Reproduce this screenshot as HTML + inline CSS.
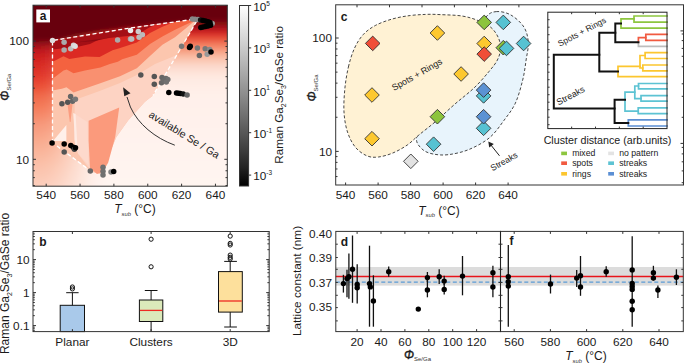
<!DOCTYPE html>
<html><head><meta charset="utf-8"><style>
html,body{margin:0;padding:0;background:#fff;}
svg{display:block;font-family:"Liberation Sans", sans-serif;}
</style></head><body>
<svg width="685" height="363" viewBox="0 0 685 363">
<defs><clipPath id="ca"><rect x="33" y="5.2" width="194.3" height="181.0"/></clipPath><filter id="bl" x="-10%" y="-10%" width="120%" height="120%"><feGaussianBlur stdDeviation="2.5"/></filter></defs>
<g clip-path="url(#ca)"><g filter="url(#bl)">
<rect x="25" y="-2.8" width="4.5" height="4.5" fill="#67000d"/>
<rect x="29" y="-2.8" width="4.5" height="4.5" fill="#67000d"/>
<rect x="33" y="-2.8" width="4.5" height="4.5" fill="#67000d"/>
<rect x="37" y="-2.8" width="4.5" height="4.5" fill="#67000d"/>
<rect x="41" y="-2.8" width="4.5" height="4.5" fill="#67000d"/>
<rect x="45" y="-2.8" width="4.5" height="4.5" fill="#67000d"/>
<rect x="49" y="-2.8" width="4.5" height="4.5" fill="#67000d"/>
<rect x="53" y="-2.8" width="4.5" height="4.5" fill="#67000d"/>
<rect x="57" y="-2.8" width="4.5" height="4.5" fill="#67000d"/>
<rect x="61" y="-2.8" width="4.5" height="4.5" fill="#67000d"/>
<rect x="65" y="-2.8" width="4.5" height="4.5" fill="#67000d"/>
<rect x="69" y="-2.8" width="4.5" height="4.5" fill="#67000d"/>
<rect x="73" y="-2.8" width="4.5" height="4.5" fill="#67000d"/>
<rect x="77" y="-2.8" width="4.5" height="4.5" fill="#67000d"/>
<rect x="81" y="-2.8" width="4.5" height="4.5" fill="#67000d"/>
<rect x="85" y="-2.8" width="4.5" height="4.5" fill="#67000d"/>
<rect x="89" y="-2.8" width="4.5" height="4.5" fill="#67000d"/>
<rect x="93" y="-2.8" width="4.5" height="4.5" fill="#67000d"/>
<rect x="97" y="-2.8" width="4.5" height="4.5" fill="#67000d"/>
<rect x="101" y="-2.8" width="4.5" height="4.5" fill="#67000d"/>
<rect x="105" y="-2.8" width="4.5" height="4.5" fill="#67000d"/>
<rect x="109" y="-2.8" width="4.5" height="4.5" fill="#67000d"/>
<rect x="113" y="-2.8" width="4.5" height="4.5" fill="#67000d"/>
<rect x="117" y="-2.8" width="4.5" height="4.5" fill="#67000d"/>
<rect x="121" y="-2.8" width="4.5" height="4.5" fill="#67000d"/>
<rect x="125" y="-2.8" width="4.5" height="4.5" fill="#67000d"/>
<rect x="129" y="-2.8" width="4.5" height="4.5" fill="#67000d"/>
<rect x="133" y="-2.8" width="4.5" height="4.5" fill="#67000d"/>
<rect x="137" y="-2.8" width="4.5" height="4.5" fill="#67000d"/>
<rect x="141" y="-2.8" width="4.5" height="4.5" fill="#67000d"/>
<rect x="145" y="-2.8" width="4.5" height="4.5" fill="#67000d"/>
<rect x="149" y="-2.8" width="4.5" height="4.5" fill="#67000d"/>
<rect x="153" y="-2.8" width="4.5" height="4.5" fill="#67000d"/>
<rect x="157" y="-2.8" width="4.5" height="4.5" fill="#67000d"/>
<rect x="161" y="-2.8" width="4.5" height="4.5" fill="#67000d"/>
<rect x="165" y="-2.8" width="4.5" height="4.5" fill="#67000d"/>
<rect x="169" y="-2.8" width="4.5" height="4.5" fill="#67000d"/>
<rect x="173" y="-2.8" width="4.5" height="4.5" fill="#67000d"/>
<rect x="177" y="-2.8" width="4.5" height="4.5" fill="#67000d"/>
<rect x="181" y="-2.8" width="4.5" height="4.5" fill="#67000d"/>
<rect x="185" y="-2.8" width="4.5" height="4.5" fill="#67000d"/>
<rect x="189" y="-2.8" width="4.5" height="4.5" fill="#67000d"/>
<rect x="193" y="-2.8" width="4.5" height="4.5" fill="#67000d"/>
<rect x="197" y="-2.8" width="4.5" height="4.5" fill="#67000d"/>
<rect x="201" y="-2.8" width="4.5" height="4.5" fill="#67000d"/>
<rect x="205" y="-2.8" width="4.5" height="4.5" fill="#67000d"/>
<rect x="209" y="-2.8" width="4.5" height="4.5" fill="#67000d"/>
<rect x="213" y="-2.8" width="4.5" height="4.5" fill="#67000d"/>
<rect x="217" y="-2.8" width="4.5" height="4.5" fill="#67000d"/>
<rect x="221" y="-2.8" width="4.5" height="4.5" fill="#67000d"/>
<rect x="225" y="-2.8" width="4.5" height="4.5" fill="#67000d"/>
<rect x="229" y="-2.8" width="4.5" height="4.5" fill="#67000d"/>
<rect x="233" y="-2.8" width="4.5" height="4.5" fill="#67000d"/>
<rect x="25" y="1.2000000000000002" width="4.5" height="4.5" fill="#67000d"/>
<rect x="29" y="1.2000000000000002" width="4.5" height="4.5" fill="#67000d"/>
<rect x="33" y="1.2000000000000002" width="4.5" height="4.5" fill="#67000d"/>
<rect x="37" y="1.2000000000000002" width="4.5" height="4.5" fill="#67000d"/>
<rect x="41" y="1.2000000000000002" width="4.5" height="4.5" fill="#67000d"/>
<rect x="45" y="1.2000000000000002" width="4.5" height="4.5" fill="#67000d"/>
<rect x="49" y="1.2000000000000002" width="4.5" height="4.5" fill="#67000d"/>
<rect x="53" y="1.2000000000000002" width="4.5" height="4.5" fill="#67000d"/>
<rect x="57" y="1.2000000000000002" width="4.5" height="4.5" fill="#67000d"/>
<rect x="61" y="1.2000000000000002" width="4.5" height="4.5" fill="#67000d"/>
<rect x="65" y="1.2000000000000002" width="4.5" height="4.5" fill="#68000d"/>
<rect x="69" y="1.2000000000000002" width="4.5" height="4.5" fill="#68000d"/>
<rect x="73" y="1.2000000000000002" width="4.5" height="4.5" fill="#68000d"/>
<rect x="77" y="1.2000000000000002" width="4.5" height="4.5" fill="#68000d"/>
<rect x="81" y="1.2000000000000002" width="4.5" height="4.5" fill="#68000d"/>
<rect x="85" y="1.2000000000000002" width="4.5" height="4.5" fill="#68000d"/>
<rect x="89" y="1.2000000000000002" width="4.5" height="4.5" fill="#68000d"/>
<rect x="93" y="1.2000000000000002" width="4.5" height="4.5" fill="#68000d"/>
<rect x="97" y="1.2000000000000002" width="4.5" height="4.5" fill="#68000d"/>
<rect x="101" y="1.2000000000000002" width="4.5" height="4.5" fill="#68000d"/>
<rect x="105" y="1.2000000000000002" width="4.5" height="4.5" fill="#68000d"/>
<rect x="109" y="1.2000000000000002" width="4.5" height="4.5" fill="#68000d"/>
<rect x="113" y="1.2000000000000002" width="4.5" height="4.5" fill="#68000d"/>
<rect x="117" y="1.2000000000000002" width="4.5" height="4.5" fill="#68000d"/>
<rect x="121" y="1.2000000000000002" width="4.5" height="4.5" fill="#68000d"/>
<rect x="125" y="1.2000000000000002" width="4.5" height="4.5" fill="#68000d"/>
<rect x="129" y="1.2000000000000002" width="4.5" height="4.5" fill="#68000d"/>
<rect x="133" y="1.2000000000000002" width="4.5" height="4.5" fill="#68000d"/>
<rect x="137" y="1.2000000000000002" width="4.5" height="4.5" fill="#68000d"/>
<rect x="141" y="1.2000000000000002" width="4.5" height="4.5" fill="#68000d"/>
<rect x="145" y="1.2000000000000002" width="4.5" height="4.5" fill="#68000d"/>
<rect x="149" y="1.2000000000000002" width="4.5" height="4.5" fill="#68000d"/>
<rect x="153" y="1.2000000000000002" width="4.5" height="4.5" fill="#68000d"/>
<rect x="157" y="1.2000000000000002" width="4.5" height="4.5" fill="#68000d"/>
<rect x="161" y="1.2000000000000002" width="4.5" height="4.5" fill="#68000d"/>
<rect x="165" y="1.2000000000000002" width="4.5" height="4.5" fill="#68000d"/>
<rect x="169" y="1.2000000000000002" width="4.5" height="4.5" fill="#68000d"/>
<rect x="173" y="1.2000000000000002" width="4.5" height="4.5" fill="#68000d"/>
<rect x="177" y="1.2000000000000002" width="4.5" height="4.5" fill="#68000d"/>
<rect x="181" y="1.2000000000000002" width="4.5" height="4.5" fill="#68000d"/>
<rect x="185" y="1.2000000000000002" width="4.5" height="4.5" fill="#68000d"/>
<rect x="189" y="1.2000000000000002" width="4.5" height="4.5" fill="#68000d"/>
<rect x="193" y="1.2000000000000002" width="4.5" height="4.5" fill="#68000d"/>
<rect x="197" y="1.2000000000000002" width="4.5" height="4.5" fill="#68000d"/>
<rect x="201" y="1.2000000000000002" width="4.5" height="4.5" fill="#68000d"/>
<rect x="205" y="1.2000000000000002" width="4.5" height="4.5" fill="#68000d"/>
<rect x="209" y="1.2000000000000002" width="4.5" height="4.5" fill="#68000d"/>
<rect x="213" y="1.2000000000000002" width="4.5" height="4.5" fill="#68000d"/>
<rect x="217" y="1.2000000000000002" width="4.5" height="4.5" fill="#68000d"/>
<rect x="221" y="1.2000000000000002" width="4.5" height="4.5" fill="#68000d"/>
<rect x="225" y="1.2000000000000002" width="4.5" height="4.5" fill="#68000d"/>
<rect x="229" y="1.2000000000000002" width="4.5" height="4.5" fill="#68000d"/>
<rect x="233" y="1.2000000000000002" width="4.5" height="4.5" fill="#68000d"/>
<rect x="25" y="5.2" width="4.5" height="4.5" fill="#68000d"/>
<rect x="29" y="5.2" width="4.5" height="4.5" fill="#68000d"/>
<rect x="33" y="5.2" width="4.5" height="4.5" fill="#68000d"/>
<rect x="37" y="5.2" width="4.5" height="4.5" fill="#68000d"/>
<rect x="41" y="5.2" width="4.5" height="4.5" fill="#68000d"/>
<rect x="45" y="5.2" width="4.5" height="4.5" fill="#68000d"/>
<rect x="49" y="5.2" width="4.5" height="4.5" fill="#68000d"/>
<rect x="53" y="5.2" width="4.5" height="4.5" fill="#68000d"/>
<rect x="57" y="5.2" width="4.5" height="4.5" fill="#68000d"/>
<rect x="61" y="5.2" width="4.5" height="4.5" fill="#68000d"/>
<rect x="65" y="5.2" width="4.5" height="4.5" fill="#68000d"/>
<rect x="69" y="5.2" width="4.5" height="4.5" fill="#68000d"/>
<rect x="73" y="5.2" width="4.5" height="4.5" fill="#69000d"/>
<rect x="77" y="5.2" width="4.5" height="4.5" fill="#69000e"/>
<rect x="81" y="5.2" width="4.5" height="4.5" fill="#69000e"/>
<rect x="85" y="5.2" width="4.5" height="4.5" fill="#69010e"/>
<rect x="89" y="5.2" width="4.5" height="4.5" fill="#69010e"/>
<rect x="93" y="5.2" width="4.5" height="4.5" fill="#69010e"/>
<rect x="97" y="5.2" width="4.5" height="4.5" fill="#69010e"/>
<rect x="101" y="5.2" width="4.5" height="4.5" fill="#69010e"/>
<rect x="105" y="5.2" width="4.5" height="4.5" fill="#6a010e"/>
<rect x="109" y="5.2" width="4.5" height="4.5" fill="#6a010e"/>
<rect x="113" y="5.2" width="4.5" height="4.5" fill="#6a010e"/>
<rect x="117" y="5.2" width="4.5" height="4.5" fill="#6a010e"/>
<rect x="121" y="5.2" width="4.5" height="4.5" fill="#6a010e"/>
<rect x="125" y="5.2" width="4.5" height="4.5" fill="#6a010e"/>
<rect x="129" y="5.2" width="4.5" height="4.5" fill="#6a010e"/>
<rect x="133" y="5.2" width="4.5" height="4.5" fill="#6a010e"/>
<rect x="137" y="5.2" width="4.5" height="4.5" fill="#6a010e"/>
<rect x="141" y="5.2" width="4.5" height="4.5" fill="#6a010e"/>
<rect x="145" y="5.2" width="4.5" height="4.5" fill="#6a010e"/>
<rect x="149" y="5.2" width="4.5" height="4.5" fill="#6a010e"/>
<rect x="153" y="5.2" width="4.5" height="4.5" fill="#6a010e"/>
<rect x="157" y="5.2" width="4.5" height="4.5" fill="#6a010e"/>
<rect x="161" y="5.2" width="4.5" height="4.5" fill="#6a010e"/>
<rect x="165" y="5.2" width="4.5" height="4.5" fill="#6a010e"/>
<rect x="169" y="5.2" width="4.5" height="4.5" fill="#6a010e"/>
<rect x="173" y="5.2" width="4.5" height="4.5" fill="#6a010e"/>
<rect x="177" y="5.2" width="4.5" height="4.5" fill="#6a010e"/>
<rect x="181" y="5.2" width="4.5" height="4.5" fill="#6a010e"/>
<rect x="185" y="5.2" width="4.5" height="4.5" fill="#6a010e"/>
<rect x="189" y="5.2" width="4.5" height="4.5" fill="#6a010e"/>
<rect x="193" y="5.2" width="4.5" height="4.5" fill="#6a010e"/>
<rect x="197" y="5.2" width="4.5" height="4.5" fill="#6a010e"/>
<rect x="201" y="5.2" width="4.5" height="4.5" fill="#6a010e"/>
<rect x="205" y="5.2" width="4.5" height="4.5" fill="#6a010e"/>
<rect x="209" y="5.2" width="4.5" height="4.5" fill="#6a010e"/>
<rect x="213" y="5.2" width="4.5" height="4.5" fill="#6a010e"/>
<rect x="217" y="5.2" width="4.5" height="4.5" fill="#6a010e"/>
<rect x="221" y="5.2" width="4.5" height="4.5" fill="#6a010e"/>
<rect x="225" y="5.2" width="4.5" height="4.5" fill="#6a010e"/>
<rect x="229" y="5.2" width="4.5" height="4.5" fill="#6a010e"/>
<rect x="233" y="5.2" width="4.5" height="4.5" fill="#6a010e"/>
<rect x="25" y="9.2" width="4.5" height="4.5" fill="#68000d"/>
<rect x="29" y="9.2" width="4.5" height="4.5" fill="#68000d"/>
<rect x="33" y="9.2" width="4.5" height="4.5" fill="#68000d"/>
<rect x="37" y="9.2" width="4.5" height="4.5" fill="#68000d"/>
<rect x="41" y="9.2" width="4.5" height="4.5" fill="#68000d"/>
<rect x="45" y="9.2" width="4.5" height="4.5" fill="#68000d"/>
<rect x="49" y="9.2" width="4.5" height="4.5" fill="#68000d"/>
<rect x="53" y="9.2" width="4.5" height="4.5" fill="#68000d"/>
<rect x="57" y="9.2" width="4.5" height="4.5" fill="#68000d"/>
<rect x="61" y="9.2" width="4.5" height="4.5" fill="#69000e"/>
<rect x="65" y="9.2" width="4.5" height="4.5" fill="#69000e"/>
<rect x="69" y="9.2" width="4.5" height="4.5" fill="#69000e"/>
<rect x="73" y="9.2" width="4.5" height="4.5" fill="#69010e"/>
<rect x="77" y="9.2" width="4.5" height="4.5" fill="#6a010e"/>
<rect x="81" y="9.2" width="4.5" height="4.5" fill="#6a010e"/>
<rect x="85" y="9.2" width="4.5" height="4.5" fill="#6a010e"/>
<rect x="89" y="9.2" width="4.5" height="4.5" fill="#6a010e"/>
<rect x="93" y="9.2" width="4.5" height="4.5" fill="#6b010e"/>
<rect x="97" y="9.2" width="4.5" height="4.5" fill="#6b010e"/>
<rect x="101" y="9.2" width="4.5" height="4.5" fill="#6b010e"/>
<rect x="105" y="9.2" width="4.5" height="4.5" fill="#6b010e"/>
<rect x="109" y="9.2" width="4.5" height="4.5" fill="#6b010e"/>
<rect x="113" y="9.2" width="4.5" height="4.5" fill="#6b010e"/>
<rect x="117" y="9.2" width="4.5" height="4.5" fill="#6b010e"/>
<rect x="121" y="9.2" width="4.5" height="4.5" fill="#6b010e"/>
<rect x="125" y="9.2" width="4.5" height="4.5" fill="#6b010e"/>
<rect x="129" y="9.2" width="4.5" height="4.5" fill="#6b010e"/>
<rect x="133" y="9.2" width="4.5" height="4.5" fill="#6b010e"/>
<rect x="137" y="9.2" width="4.5" height="4.5" fill="#6b010e"/>
<rect x="141" y="9.2" width="4.5" height="4.5" fill="#6b010e"/>
<rect x="145" y="9.2" width="4.5" height="4.5" fill="#6b010e"/>
<rect x="149" y="9.2" width="4.5" height="4.5" fill="#6b010e"/>
<rect x="153" y="9.2" width="4.5" height="4.5" fill="#6b010e"/>
<rect x="157" y="9.2" width="4.5" height="4.5" fill="#6b010e"/>
<rect x="161" y="9.2" width="4.5" height="4.5" fill="#6b010e"/>
<rect x="165" y="9.2" width="4.5" height="4.5" fill="#6b010e"/>
<rect x="169" y="9.2" width="4.5" height="4.5" fill="#6b010e"/>
<rect x="173" y="9.2" width="4.5" height="4.5" fill="#6b010e"/>
<rect x="177" y="9.2" width="4.5" height="4.5" fill="#6b010e"/>
<rect x="181" y="9.2" width="4.5" height="4.5" fill="#6b010e"/>
<rect x="185" y="9.2" width="4.5" height="4.5" fill="#6b010e"/>
<rect x="189" y="9.2" width="4.5" height="4.5" fill="#6b010e"/>
<rect x="193" y="9.2" width="4.5" height="4.5" fill="#6b010e"/>
<rect x="197" y="9.2" width="4.5" height="4.5" fill="#6b010e"/>
<rect x="201" y="9.2" width="4.5" height="4.5" fill="#6b010e"/>
<rect x="205" y="9.2" width="4.5" height="4.5" fill="#6b010e"/>
<rect x="209" y="9.2" width="4.5" height="4.5" fill="#6b010e"/>
<rect x="213" y="9.2" width="4.5" height="4.5" fill="#6b010e"/>
<rect x="217" y="9.2" width="4.5" height="4.5" fill="#6b010e"/>
<rect x="221" y="9.2" width="4.5" height="4.5" fill="#6b010e"/>
<rect x="225" y="9.2" width="4.5" height="4.5" fill="#6b010e"/>
<rect x="229" y="9.2" width="4.5" height="4.5" fill="#6b010e"/>
<rect x="233" y="9.2" width="4.5" height="4.5" fill="#6b010e"/>
<rect x="25" y="13.2" width="4.5" height="4.5" fill="#68000d"/>
<rect x="29" y="13.2" width="4.5" height="4.5" fill="#68000d"/>
<rect x="33" y="13.2" width="4.5" height="4.5" fill="#68000d"/>
<rect x="37" y="13.2" width="4.5" height="4.5" fill="#68000d"/>
<rect x="41" y="13.2" width="4.5" height="4.5" fill="#68000d"/>
<rect x="45" y="13.2" width="4.5" height="4.5" fill="#68000d"/>
<rect x="49" y="13.2" width="4.5" height="4.5" fill="#68000d"/>
<rect x="53" y="13.2" width="4.5" height="4.5" fill="#69000e"/>
<rect x="57" y="13.2" width="4.5" height="4.5" fill="#69000e"/>
<rect x="61" y="13.2" width="4.5" height="4.5" fill="#69000e"/>
<rect x="65" y="13.2" width="4.5" height="4.5" fill="#6a010e"/>
<rect x="69" y="13.2" width="4.5" height="4.5" fill="#6a010e"/>
<rect x="73" y="13.2" width="4.5" height="4.5" fill="#6a010e"/>
<rect x="77" y="13.2" width="4.5" height="4.5" fill="#6b010e"/>
<rect x="81" y="13.2" width="4.5" height="4.5" fill="#6b010e"/>
<rect x="85" y="13.2" width="4.5" height="4.5" fill="#6b010e"/>
<rect x="89" y="13.2" width="4.5" height="4.5" fill="#6c010e"/>
<rect x="93" y="13.2" width="4.5" height="4.5" fill="#6c010e"/>
<rect x="97" y="13.2" width="4.5" height="4.5" fill="#6c010e"/>
<rect x="101" y="13.2" width="4.5" height="4.5" fill="#6c010e"/>
<rect x="105" y="13.2" width="4.5" height="4.5" fill="#6c020f"/>
<rect x="109" y="13.2" width="4.5" height="4.5" fill="#6c020f"/>
<rect x="113" y="13.2" width="4.5" height="4.5" fill="#6c020f"/>
<rect x="117" y="13.2" width="4.5" height="4.5" fill="#6c020f"/>
<rect x="121" y="13.2" width="4.5" height="4.5" fill="#6c020f"/>
<rect x="125" y="13.2" width="4.5" height="4.5" fill="#6c020f"/>
<rect x="129" y="13.2" width="4.5" height="4.5" fill="#6c020f"/>
<rect x="133" y="13.2" width="4.5" height="4.5" fill="#6c020f"/>
<rect x="137" y="13.2" width="4.5" height="4.5" fill="#6c020f"/>
<rect x="141" y="13.2" width="4.5" height="4.5" fill="#6c020f"/>
<rect x="145" y="13.2" width="4.5" height="4.5" fill="#6c020f"/>
<rect x="149" y="13.2" width="4.5" height="4.5" fill="#6c020f"/>
<rect x="153" y="13.2" width="4.5" height="4.5" fill="#6c020f"/>
<rect x="157" y="13.2" width="4.5" height="4.5" fill="#6c020f"/>
<rect x="161" y="13.2" width="4.5" height="4.5" fill="#6c020f"/>
<rect x="165" y="13.2" width="4.5" height="4.5" fill="#6c020f"/>
<rect x="169" y="13.2" width="4.5" height="4.5" fill="#6c020f"/>
<rect x="173" y="13.2" width="4.5" height="4.5" fill="#6c020f"/>
<rect x="177" y="13.2" width="4.5" height="4.5" fill="#6c020f"/>
<rect x="181" y="13.2" width="4.5" height="4.5" fill="#6c020f"/>
<rect x="185" y="13.2" width="4.5" height="4.5" fill="#6c020f"/>
<rect x="189" y="13.2" width="4.5" height="4.5" fill="#6c020f"/>
<rect x="193" y="13.2" width="4.5" height="4.5" fill="#6c020f"/>
<rect x="197" y="13.2" width="4.5" height="4.5" fill="#6c020f"/>
<rect x="201" y="13.2" width="4.5" height="4.5" fill="#6c020f"/>
<rect x="205" y="13.2" width="4.5" height="4.5" fill="#6c020f"/>
<rect x="209" y="13.2" width="4.5" height="4.5" fill="#6c020f"/>
<rect x="213" y="13.2" width="4.5" height="4.5" fill="#6c020f"/>
<rect x="217" y="13.2" width="4.5" height="4.5" fill="#6c020f"/>
<rect x="221" y="13.2" width="4.5" height="4.5" fill="#6c020f"/>
<rect x="225" y="13.2" width="4.5" height="4.5" fill="#6c020f"/>
<rect x="229" y="13.2" width="4.5" height="4.5" fill="#6c020f"/>
<rect x="233" y="13.2" width="4.5" height="4.5" fill="#6c020f"/>
<rect x="25" y="17.2" width="4.5" height="4.5" fill="#68000d"/>
<rect x="29" y="17.2" width="4.5" height="4.5" fill="#68000d"/>
<rect x="33" y="17.2" width="4.5" height="4.5" fill="#68000d"/>
<rect x="37" y="17.2" width="4.5" height="4.5" fill="#68000d"/>
<rect x="41" y="17.2" width="4.5" height="4.5" fill="#69000d"/>
<rect x="45" y="17.2" width="4.5" height="4.5" fill="#69000e"/>
<rect x="49" y="17.2" width="4.5" height="4.5" fill="#69000e"/>
<rect x="53" y="17.2" width="4.5" height="4.5" fill="#69000e"/>
<rect x="57" y="17.2" width="4.5" height="4.5" fill="#6a000e"/>
<rect x="61" y="17.2" width="4.5" height="4.5" fill="#6a010e"/>
<rect x="65" y="17.2" width="4.5" height="4.5" fill="#6a010e"/>
<rect x="69" y="17.2" width="4.5" height="4.5" fill="#6b010e"/>
<rect x="73" y="17.2" width="4.5" height="4.5" fill="#6b010e"/>
<rect x="77" y="17.2" width="4.5" height="4.5" fill="#6c010e"/>
<rect x="81" y="17.2" width="4.5" height="4.5" fill="#6c010e"/>
<rect x="85" y="17.2" width="4.5" height="4.5" fill="#6c010f"/>
<rect x="89" y="17.2" width="4.5" height="4.5" fill="#6d020f"/>
<rect x="93" y="17.2" width="4.5" height="4.5" fill="#6d020f"/>
<rect x="97" y="17.2" width="4.5" height="4.5" fill="#6d020f"/>
<rect x="101" y="17.2" width="4.5" height="4.5" fill="#6e020f"/>
<rect x="105" y="17.2" width="4.5" height="4.5" fill="#6e020f"/>
<rect x="109" y="17.2" width="4.5" height="4.5" fill="#6e020f"/>
<rect x="113" y="17.2" width="4.5" height="4.5" fill="#6e020f"/>
<rect x="117" y="17.2" width="4.5" height="4.5" fill="#6e020f"/>
<rect x="121" y="17.2" width="4.5" height="4.5" fill="#6e020f"/>
<rect x="125" y="17.2" width="4.5" height="4.5" fill="#6e020f"/>
<rect x="129" y="17.2" width="4.5" height="4.5" fill="#6e020f"/>
<rect x="133" y="17.2" width="4.5" height="4.5" fill="#6e020f"/>
<rect x="137" y="17.2" width="4.5" height="4.5" fill="#6e020f"/>
<rect x="141" y="17.2" width="4.5" height="4.5" fill="#6e020f"/>
<rect x="145" y="17.2" width="4.5" height="4.5" fill="#6e020f"/>
<rect x="149" y="17.2" width="4.5" height="4.5" fill="#6e020f"/>
<rect x="153" y="17.2" width="4.5" height="4.5" fill="#6e020f"/>
<rect x="157" y="17.2" width="4.5" height="4.5" fill="#6e020f"/>
<rect x="161" y="17.2" width="4.5" height="4.5" fill="#6e020f"/>
<rect x="165" y="17.2" width="4.5" height="4.5" fill="#6e020f"/>
<rect x="169" y="17.2" width="4.5" height="4.5" fill="#6e020f"/>
<rect x="173" y="17.2" width="4.5" height="4.5" fill="#6e020f"/>
<rect x="177" y="17.2" width="4.5" height="4.5" fill="#6e020f"/>
<rect x="181" y="17.2" width="4.5" height="4.5" fill="#6e020f"/>
<rect x="185" y="17.2" width="4.5" height="4.5" fill="#6e020f"/>
<rect x="189" y="17.2" width="4.5" height="4.5" fill="#6e020f"/>
<rect x="193" y="17.2" width="4.5" height="4.5" fill="#6e020f"/>
<rect x="197" y="17.2" width="4.5" height="4.5" fill="#6e020f"/>
<rect x="201" y="17.2" width="4.5" height="4.5" fill="#6e020f"/>
<rect x="205" y="17.2" width="4.5" height="4.5" fill="#6e020f"/>
<rect x="209" y="17.2" width="4.5" height="4.5" fill="#6e020f"/>
<rect x="213" y="17.2" width="4.5" height="4.5" fill="#6e020f"/>
<rect x="217" y="17.2" width="4.5" height="4.5" fill="#6e020f"/>
<rect x="221" y="17.2" width="4.5" height="4.5" fill="#6e020f"/>
<rect x="225" y="17.2" width="4.5" height="4.5" fill="#6e020f"/>
<rect x="229" y="17.2" width="4.5" height="4.5" fill="#6e020f"/>
<rect x="233" y="17.2" width="4.5" height="4.5" fill="#6e020f"/>
<rect x="25" y="21.2" width="4.5" height="4.5" fill="#69000e"/>
<rect x="29" y="21.2" width="4.5" height="4.5" fill="#69000e"/>
<rect x="33" y="21.2" width="4.5" height="4.5" fill="#69000e"/>
<rect x="37" y="21.2" width="4.5" height="4.5" fill="#69000e"/>
<rect x="41" y="21.2" width="4.5" height="4.5" fill="#69000e"/>
<rect x="45" y="21.2" width="4.5" height="4.5" fill="#6a000e"/>
<rect x="49" y="21.2" width="4.5" height="4.5" fill="#6b010e"/>
<rect x="53" y="21.2" width="4.5" height="4.5" fill="#6c010e"/>
<rect x="57" y="21.2" width="4.5" height="4.5" fill="#6e010e"/>
<rect x="61" y="21.2" width="4.5" height="4.5" fill="#6f020f"/>
<rect x="65" y="21.2" width="4.5" height="4.5" fill="#71030f"/>
<rect x="69" y="21.2" width="4.5" height="4.5" fill="#73030f"/>
<rect x="73" y="21.2" width="4.5" height="4.5" fill="#75040f"/>
<rect x="77" y="21.2" width="4.5" height="4.5" fill="#770410"/>
<rect x="81" y="21.2" width="4.5" height="4.5" fill="#790510"/>
<rect x="85" y="21.2" width="4.5" height="4.5" fill="#7a0510"/>
<rect x="89" y="21.2" width="4.5" height="4.5" fill="#7c0610"/>
<rect x="93" y="21.2" width="4.5" height="4.5" fill="#7d0611"/>
<rect x="97" y="21.2" width="4.5" height="4.5" fill="#7e0711"/>
<rect x="101" y="21.2" width="4.5" height="4.5" fill="#7f0711"/>
<rect x="105" y="21.2" width="4.5" height="4.5" fill="#800711"/>
<rect x="109" y="21.2" width="4.5" height="4.5" fill="#800711"/>
<rect x="113" y="21.2" width="4.5" height="4.5" fill="#800711"/>
<rect x="117" y="21.2" width="4.5" height="4.5" fill="#800711"/>
<rect x="121" y="21.2" width="4.5" height="4.5" fill="#800711"/>
<rect x="125" y="21.2" width="4.5" height="4.5" fill="#800711"/>
<rect x="129" y="21.2" width="4.5" height="4.5" fill="#800711"/>
<rect x="133" y="21.2" width="4.5" height="4.5" fill="#800711"/>
<rect x="137" y="21.2" width="4.5" height="4.5" fill="#800711"/>
<rect x="141" y="21.2" width="4.5" height="4.5" fill="#800711"/>
<rect x="145" y="21.2" width="4.5" height="4.5" fill="#800711"/>
<rect x="149" y="21.2" width="4.5" height="4.5" fill="#800711"/>
<rect x="153" y="21.2" width="4.5" height="4.5" fill="#800711"/>
<rect x="157" y="21.2" width="4.5" height="4.5" fill="#800711"/>
<rect x="161" y="21.2" width="4.5" height="4.5" fill="#800711"/>
<rect x="165" y="21.2" width="4.5" height="4.5" fill="#800711"/>
<rect x="169" y="21.2" width="4.5" height="4.5" fill="#800711"/>
<rect x="173" y="21.2" width="4.5" height="4.5" fill="#800711"/>
<rect x="177" y="21.2" width="4.5" height="4.5" fill="#800711"/>
<rect x="181" y="21.2" width="4.5" height="4.5" fill="#800711"/>
<rect x="185" y="21.2" width="4.5" height="4.5" fill="#800711"/>
<rect x="189" y="21.2" width="4.5" height="4.5" fill="#800711"/>
<rect x="193" y="21.2" width="4.5" height="4.5" fill="#800711"/>
<rect x="197" y="21.2" width="4.5" height="4.5" fill="#800711"/>
<rect x="201" y="21.2" width="4.5" height="4.5" fill="#800711"/>
<rect x="205" y="21.2" width="4.5" height="4.5" fill="#800711"/>
<rect x="209" y="21.2" width="4.5" height="4.5" fill="#800711"/>
<rect x="213" y="21.2" width="4.5" height="4.5" fill="#800711"/>
<rect x="217" y="21.2" width="4.5" height="4.5" fill="#800711"/>
<rect x="221" y="21.2" width="4.5" height="4.5" fill="#800711"/>
<rect x="225" y="21.2" width="4.5" height="4.5" fill="#800711"/>
<rect x="229" y="21.2" width="4.5" height="4.5" fill="#800711"/>
<rect x="233" y="21.2" width="4.5" height="4.5" fill="#800711"/>
<rect x="25" y="25.2" width="4.5" height="4.5" fill="#69000e"/>
<rect x="29" y="25.2" width="4.5" height="4.5" fill="#69000e"/>
<rect x="33" y="25.2" width="4.5" height="4.5" fill="#69000e"/>
<rect x="37" y="25.2" width="4.5" height="4.5" fill="#69000e"/>
<rect x="41" y="25.2" width="4.5" height="4.5" fill="#6a000e"/>
<rect x="45" y="25.2" width="4.5" height="4.5" fill="#6b010e"/>
<rect x="49" y="25.2" width="4.5" height="4.5" fill="#6e010e"/>
<rect x="53" y="25.2" width="4.5" height="4.5" fill="#71020f"/>
<rect x="57" y="25.2" width="4.5" height="4.5" fill="#750310"/>
<rect x="61" y="25.2" width="4.5" height="4.5" fill="#790410"/>
<rect x="65" y="25.2" width="4.5" height="4.5" fill="#7d0511"/>
<rect x="69" y="25.2" width="4.5" height="4.5" fill="#820712"/>
<rect x="73" y="25.2" width="4.5" height="4.5" fill="#870812"/>
<rect x="77" y="25.2" width="4.5" height="4.5" fill="#8b0913"/>
<rect x="81" y="25.2" width="4.5" height="4.5" fill="#900a14"/>
<rect x="85" y="25.2" width="4.5" height="4.5" fill="#940c15"/>
<rect x="89" y="25.2" width="4.5" height="4.5" fill="#980d15"/>
<rect x="93" y="25.2" width="4.5" height="4.5" fill="#9b0e16"/>
<rect x="97" y="25.2" width="4.5" height="4.5" fill="#9e0e16"/>
<rect x="101" y="25.2" width="4.5" height="4.5" fill="#a00f17"/>
<rect x="105" y="25.2" width="4.5" height="4.5" fill="#a10f17"/>
<rect x="109" y="25.2" width="4.5" height="4.5" fill="#a20f17"/>
<rect x="113" y="25.2" width="4.5" height="4.5" fill="#a20f17"/>
<rect x="117" y="25.2" width="4.5" height="4.5" fill="#a20f17"/>
<rect x="121" y="25.2" width="4.5" height="4.5" fill="#a20f17"/>
<rect x="125" y="25.2" width="4.5" height="4.5" fill="#a20f17"/>
<rect x="129" y="25.2" width="4.5" height="4.5" fill="#a20f17"/>
<rect x="133" y="25.2" width="4.5" height="4.5" fill="#a20f17"/>
<rect x="137" y="25.2" width="4.5" height="4.5" fill="#a20f17"/>
<rect x="141" y="25.2" width="4.5" height="4.5" fill="#a20f17"/>
<rect x="145" y="25.2" width="4.5" height="4.5" fill="#a20f17"/>
<rect x="149" y="25.2" width="4.5" height="4.5" fill="#a20f17"/>
<rect x="153" y="25.2" width="4.5" height="4.5" fill="#a20f17"/>
<rect x="157" y="25.2" width="4.5" height="4.5" fill="#a20f17"/>
<rect x="161" y="25.2" width="4.5" height="4.5" fill="#a20f17"/>
<rect x="165" y="25.2" width="4.5" height="4.5" fill="#a20f17"/>
<rect x="169" y="25.2" width="4.5" height="4.5" fill="#a20f17"/>
<rect x="173" y="25.2" width="4.5" height="4.5" fill="#a20f17"/>
<rect x="177" y="25.2" width="4.5" height="4.5" fill="#a20f17"/>
<rect x="181" y="25.2" width="4.5" height="4.5" fill="#a20f17"/>
<rect x="185" y="25.2" width="4.5" height="4.5" fill="#a20f17"/>
<rect x="189" y="25.2" width="4.5" height="4.5" fill="#a20f17"/>
<rect x="193" y="25.2" width="4.5" height="4.5" fill="#a20f17"/>
<rect x="197" y="25.2" width="4.5" height="4.5" fill="#a20f17"/>
<rect x="201" y="25.2" width="4.5" height="4.5" fill="#a20f17"/>
<rect x="205" y="25.2" width="4.5" height="4.5" fill="#a20f17"/>
<rect x="209" y="25.2" width="4.5" height="4.5" fill="#a20f17"/>
<rect x="213" y="25.2" width="4.5" height="4.5" fill="#a20f17"/>
<rect x="217" y="25.2" width="4.5" height="4.5" fill="#a20f17"/>
<rect x="221" y="25.2" width="4.5" height="4.5" fill="#a20f17"/>
<rect x="225" y="25.2" width="4.5" height="4.5" fill="#a20f17"/>
<rect x="229" y="25.2" width="4.5" height="4.5" fill="#a20f17"/>
<rect x="233" y="25.2" width="4.5" height="4.5" fill="#a20f17"/>
<rect x="25" y="29.2" width="4.5" height="4.5" fill="#69000e"/>
<rect x="29" y="29.2" width="4.5" height="4.5" fill="#69000e"/>
<rect x="33" y="29.2" width="4.5" height="4.5" fill="#69000e"/>
<rect x="37" y="29.2" width="4.5" height="4.5" fill="#69000e"/>
<rect x="41" y="29.2" width="4.5" height="4.5" fill="#6b000e"/>
<rect x="45" y="29.2" width="4.5" height="4.5" fill="#6d010f"/>
<rect x="49" y="29.2" width="4.5" height="4.5" fill="#71020f"/>
<rect x="53" y="29.2" width="4.5" height="4.5" fill="#770410"/>
<rect x="57" y="29.2" width="4.5" height="4.5" fill="#7d0611"/>
<rect x="61" y="29.2" width="4.5" height="4.5" fill="#830813"/>
<rect x="65" y="29.2" width="4.5" height="4.5" fill="#8b0a14"/>
<rect x="69" y="29.2" width="4.5" height="4.5" fill="#920d16"/>
<rect x="73" y="29.2" width="4.5" height="4.5" fill="#9a0f17"/>
<rect x="77" y="29.2" width="4.5" height="4.5" fill="#a21219"/>
<rect x="81" y="29.2" width="4.5" height="4.5" fill="#a9141a"/>
<rect x="85" y="29.2" width="4.5" height="4.5" fill="#b0161b"/>
<rect x="89" y="29.2" width="4.5" height="4.5" fill="#b7181d"/>
<rect x="93" y="29.2" width="4.5" height="4.5" fill="#bc1a1e"/>
<rect x="97" y="29.2" width="4.5" height="4.5" fill="#c11b1e"/>
<rect x="101" y="29.2" width="4.5" height="4.5" fill="#c41c1f"/>
<rect x="105" y="29.2" width="4.5" height="4.5" fill="#c61d20"/>
<rect x="109" y="29.2" width="4.5" height="4.5" fill="#c71d20"/>
<rect x="113" y="29.2" width="4.5" height="4.5" fill="#c71d20"/>
<rect x="117" y="29.2" width="4.5" height="4.5" fill="#c71d20"/>
<rect x="121" y="29.2" width="4.5" height="4.5" fill="#c71d20"/>
<rect x="125" y="29.2" width="4.5" height="4.5" fill="#c71d20"/>
<rect x="129" y="29.2" width="4.5" height="4.5" fill="#c71d20"/>
<rect x="133" y="29.2" width="4.5" height="4.5" fill="#c71d20"/>
<rect x="137" y="29.2" width="4.5" height="4.5" fill="#c71d20"/>
<rect x="141" y="29.2" width="4.5" height="4.5" fill="#c71d20"/>
<rect x="145" y="29.2" width="4.5" height="4.5" fill="#c71d20"/>
<rect x="149" y="29.2" width="4.5" height="4.5" fill="#c71d20"/>
<rect x="153" y="29.2" width="4.5" height="4.5" fill="#c71d20"/>
<rect x="157" y="29.2" width="4.5" height="4.5" fill="#c71d20"/>
<rect x="161" y="29.2" width="4.5" height="4.5" fill="#c71d20"/>
<rect x="165" y="29.2" width="4.5" height="4.5" fill="#c71d20"/>
<rect x="169" y="29.2" width="4.5" height="4.5" fill="#c71d20"/>
<rect x="173" y="29.2" width="4.5" height="4.5" fill="#c71d20"/>
<rect x="177" y="29.2" width="4.5" height="4.5" fill="#c71d20"/>
<rect x="181" y="29.2" width="4.5" height="4.5" fill="#c71d20"/>
<rect x="185" y="29.2" width="4.5" height="4.5" fill="#c71d20"/>
<rect x="189" y="29.2" width="4.5" height="4.5" fill="#c71d20"/>
<rect x="193" y="29.2" width="4.5" height="4.5" fill="#c71d20"/>
<rect x="197" y="29.2" width="4.5" height="4.5" fill="#c71d20"/>
<rect x="201" y="29.2" width="4.5" height="4.5" fill="#c71d20"/>
<rect x="205" y="29.2" width="4.5" height="4.5" fill="#c71d20"/>
<rect x="209" y="29.2" width="4.5" height="4.5" fill="#c71d20"/>
<rect x="213" y="29.2" width="4.5" height="4.5" fill="#c71d20"/>
<rect x="217" y="29.2" width="4.5" height="4.5" fill="#c71d20"/>
<rect x="221" y="29.2" width="4.5" height="4.5" fill="#c71d20"/>
<rect x="225" y="29.2" width="4.5" height="4.5" fill="#c71d20"/>
<rect x="229" y="29.2" width="4.5" height="4.5" fill="#c71d20"/>
<rect x="233" y="29.2" width="4.5" height="4.5" fill="#c71d20"/>
<rect x="25" y="33.2" width="4.5" height="4.5" fill="#6a000e"/>
<rect x="29" y="33.2" width="4.5" height="4.5" fill="#6a000e"/>
<rect x="33" y="33.2" width="4.5" height="4.5" fill="#6a000e"/>
<rect x="37" y="33.2" width="4.5" height="4.5" fill="#6a000e"/>
<rect x="41" y="33.2" width="4.5" height="4.5" fill="#6b010e"/>
<rect x="45" y="33.2" width="4.5" height="4.5" fill="#6f020f"/>
<rect x="49" y="33.2" width="4.5" height="4.5" fill="#740510"/>
<rect x="53" y="33.2" width="4.5" height="4.5" fill="#7a0712"/>
<rect x="57" y="33.2" width="4.5" height="4.5" fill="#810b13"/>
<rect x="61" y="33.2" width="4.5" height="4.5" fill="#8a0f15"/>
<rect x="65" y="33.2" width="4.5" height="4.5" fill="#931317"/>
<rect x="69" y="33.2" width="4.5" height="4.5" fill="#9c1719"/>
<rect x="73" y="33.2" width="4.5" height="4.5" fill="#a61b1c"/>
<rect x="77" y="33.2" width="4.5" height="4.5" fill="#b0201e"/>
<rect x="81" y="33.2" width="4.5" height="4.5" fill="#b92420"/>
<rect x="85" y="33.2" width="4.5" height="4.5" fill="#c22822"/>
<rect x="89" y="33.2" width="4.5" height="4.5" fill="#ca2b24"/>
<rect x="93" y="33.2" width="4.5" height="4.5" fill="#d02e25"/>
<rect x="97" y="33.2" width="4.5" height="4.5" fill="#d63127"/>
<rect x="101" y="33.2" width="4.5" height="4.5" fill="#da3328"/>
<rect x="105" y="33.2" width="4.5" height="4.5" fill="#dd3428"/>
<rect x="109" y="33.2" width="4.5" height="4.5" fill="#dd3428"/>
<rect x="113" y="33.2" width="4.5" height="4.5" fill="#dd3428"/>
<rect x="117" y="33.2" width="4.5" height="4.5" fill="#dd3428"/>
<rect x="121" y="33.2" width="4.5" height="4.5" fill="#dd3428"/>
<rect x="125" y="33.2" width="4.5" height="4.5" fill="#dd3428"/>
<rect x="129" y="33.2" width="4.5" height="4.5" fill="#dd3428"/>
<rect x="133" y="33.2" width="4.5" height="4.5" fill="#dd3428"/>
<rect x="137" y="33.2" width="4.5" height="4.5" fill="#dd3428"/>
<rect x="141" y="33.2" width="4.5" height="4.5" fill="#dd3428"/>
<rect x="145" y="33.2" width="4.5" height="4.5" fill="#dd3428"/>
<rect x="149" y="33.2" width="4.5" height="4.5" fill="#dd3428"/>
<rect x="153" y="33.2" width="4.5" height="4.5" fill="#dd3428"/>
<rect x="157" y="33.2" width="4.5" height="4.5" fill="#dd3428"/>
<rect x="161" y="33.2" width="4.5" height="4.5" fill="#dd3428"/>
<rect x="165" y="33.2" width="4.5" height="4.5" fill="#dd3428"/>
<rect x="169" y="33.2" width="4.5" height="4.5" fill="#dd3428"/>
<rect x="173" y="33.2" width="4.5" height="4.5" fill="#dd3428"/>
<rect x="177" y="33.2" width="4.5" height="4.5" fill="#dd3428"/>
<rect x="181" y="33.2" width="4.5" height="4.5" fill="#dd3428"/>
<rect x="185" y="33.2" width="4.5" height="4.5" fill="#dd3428"/>
<rect x="189" y="33.2" width="4.5" height="4.5" fill="#dd3428"/>
<rect x="193" y="33.2" width="4.5" height="4.5" fill="#dd3428"/>
<rect x="197" y="33.2" width="4.5" height="4.5" fill="#dd3428"/>
<rect x="201" y="33.2" width="4.5" height="4.5" fill="#dd3428"/>
<rect x="205" y="33.2" width="4.5" height="4.5" fill="#dd3428"/>
<rect x="209" y="33.2" width="4.5" height="4.5" fill="#dd3428"/>
<rect x="213" y="33.2" width="4.5" height="4.5" fill="#dd3428"/>
<rect x="217" y="33.2" width="4.5" height="4.5" fill="#dd3428"/>
<rect x="221" y="33.2" width="4.5" height="4.5" fill="#dd3428"/>
<rect x="225" y="33.2" width="4.5" height="4.5" fill="#dd3428"/>
<rect x="229" y="33.2" width="4.5" height="4.5" fill="#dd3428"/>
<rect x="233" y="33.2" width="4.5" height="4.5" fill="#dd3428"/>
<rect x="25" y="37.2" width="4.5" height="4.5" fill="#6a000e"/>
<rect x="29" y="37.2" width="4.5" height="4.5" fill="#6a000e"/>
<rect x="33" y="37.2" width="4.5" height="4.5" fill="#6a000e"/>
<rect x="37" y="37.2" width="4.5" height="4.5" fill="#6a000e"/>
<rect x="41" y="37.2" width="4.5" height="4.5" fill="#6c010f"/>
<rect x="45" y="37.2" width="4.5" height="4.5" fill="#6f0410"/>
<rect x="49" y="37.2" width="4.5" height="4.5" fill="#750712"/>
<rect x="53" y="37.2" width="4.5" height="4.5" fill="#7c0c14"/>
<rect x="57" y="37.2" width="4.5" height="4.5" fill="#841117"/>
<rect x="61" y="37.2" width="4.5" height="4.5" fill="#8d171b"/>
<rect x="65" y="37.2" width="4.5" height="4.5" fill="#971e1e"/>
<rect x="69" y="37.2" width="4.5" height="4.5" fill="#a22422"/>
<rect x="73" y="37.2" width="4.5" height="4.5" fill="#ac2b26"/>
<rect x="77" y="37.2" width="4.5" height="4.5" fill="#b7322a"/>
<rect x="81" y="37.2" width="4.5" height="4.5" fill="#c1392e"/>
<rect x="85" y="37.2" width="4.5" height="4.5" fill="#cb3f31"/>
<rect x="89" y="37.2" width="4.5" height="4.5" fill="#d44534"/>
<rect x="93" y="37.2" width="4.5" height="4.5" fill="#db4a37"/>
<rect x="97" y="37.2" width="4.5" height="4.5" fill="#e14e39"/>
<rect x="101" y="37.2" width="4.5" height="4.5" fill="#e6513b"/>
<rect x="105" y="37.2" width="4.5" height="4.5" fill="#e9533c"/>
<rect x="109" y="37.2" width="4.5" height="4.5" fill="#e9533c"/>
<rect x="113" y="37.2" width="4.5" height="4.5" fill="#e9533c"/>
<rect x="117" y="37.2" width="4.5" height="4.5" fill="#e9533c"/>
<rect x="121" y="37.2" width="4.5" height="4.5" fill="#e9533c"/>
<rect x="125" y="37.2" width="4.5" height="4.5" fill="#e9533c"/>
<rect x="129" y="37.2" width="4.5" height="4.5" fill="#e9533c"/>
<rect x="133" y="37.2" width="4.5" height="4.5" fill="#e9533c"/>
<rect x="137" y="37.2" width="4.5" height="4.5" fill="#e9533c"/>
<rect x="141" y="37.2" width="4.5" height="4.5" fill="#e9533c"/>
<rect x="145" y="37.2" width="4.5" height="4.5" fill="#e9533c"/>
<rect x="149" y="37.2" width="4.5" height="4.5" fill="#e9533c"/>
<rect x="153" y="37.2" width="4.5" height="4.5" fill="#e9533c"/>
<rect x="157" y="37.2" width="4.5" height="4.5" fill="#e9533c"/>
<rect x="161" y="37.2" width="4.5" height="4.5" fill="#e9533c"/>
<rect x="165" y="37.2" width="4.5" height="4.5" fill="#e9533c"/>
<rect x="169" y="37.2" width="4.5" height="4.5" fill="#e9533c"/>
<rect x="173" y="37.2" width="4.5" height="4.5" fill="#e9533c"/>
<rect x="177" y="37.2" width="4.5" height="4.5" fill="#e9533c"/>
<rect x="181" y="37.2" width="4.5" height="4.5" fill="#e9533c"/>
<rect x="185" y="37.2" width="4.5" height="4.5" fill="#e9533c"/>
<rect x="189" y="37.2" width="4.5" height="4.5" fill="#e9533c"/>
<rect x="193" y="37.2" width="4.5" height="4.5" fill="#e9533c"/>
<rect x="197" y="37.2" width="4.5" height="4.5" fill="#e9533c"/>
<rect x="201" y="37.2" width="4.5" height="4.5" fill="#e9533c"/>
<rect x="205" y="37.2" width="4.5" height="4.5" fill="#e9533c"/>
<rect x="209" y="37.2" width="4.5" height="4.5" fill="#e9533c"/>
<rect x="213" y="37.2" width="4.5" height="4.5" fill="#e9533c"/>
<rect x="217" y="37.2" width="4.5" height="4.5" fill="#e9533c"/>
<rect x="221" y="37.2" width="4.5" height="4.5" fill="#e9533c"/>
<rect x="225" y="37.2" width="4.5" height="4.5" fill="#e9533c"/>
<rect x="229" y="37.2" width="4.5" height="4.5" fill="#e9533c"/>
<rect x="233" y="37.2" width="4.5" height="4.5" fill="#e9533c"/>
<rect x="25" y="41.2" width="4.5" height="4.5" fill="#8d0a12"/>
<rect x="29" y="41.2" width="4.5" height="4.5" fill="#8d0a12"/>
<rect x="33" y="41.2" width="4.5" height="4.5" fill="#8d0a12"/>
<rect x="37" y="41.2" width="4.5" height="4.5" fill="#8d0a13"/>
<rect x="41" y="41.2" width="4.5" height="4.5" fill="#8e0b13"/>
<rect x="45" y="41.2" width="4.5" height="4.5" fill="#910e15"/>
<rect x="49" y="41.2" width="4.5" height="4.5" fill="#951318"/>
<rect x="53" y="41.2" width="4.5" height="4.5" fill="#9b181c"/>
<rect x="57" y="41.2" width="4.5" height="4.5" fill="#a11f20"/>
<rect x="61" y="41.2" width="4.5" height="4.5" fill="#a82624"/>
<rect x="65" y="41.2" width="4.5" height="4.5" fill="#b02e2a"/>
<rect x="69" y="41.2" width="4.5" height="4.5" fill="#b8372f"/>
<rect x="73" y="41.2" width="4.5" height="4.5" fill="#c14034"/>
<rect x="77" y="41.2" width="4.5" height="4.5" fill="#c9483a"/>
<rect x="81" y="41.2" width="4.5" height="4.5" fill="#d1503f"/>
<rect x="85" y="41.2" width="4.5" height="4.5" fill="#d95844"/>
<rect x="89" y="41.2" width="4.5" height="4.5" fill="#e05f48"/>
<rect x="93" y="41.2" width="4.5" height="4.5" fill="#e6664c"/>
<rect x="97" y="41.2" width="4.5" height="4.5" fill="#eb6b4f"/>
<rect x="101" y="41.2" width="4.5" height="4.5" fill="#ee6e51"/>
<rect x="105" y="41.2" width="4.5" height="4.5" fill="#f07153"/>
<rect x="109" y="41.2" width="4.5" height="4.5" fill="#f17153"/>
<rect x="113" y="41.2" width="4.5" height="4.5" fill="#f17153"/>
<rect x="117" y="41.2" width="4.5" height="4.5" fill="#f17153"/>
<rect x="121" y="41.2" width="4.5" height="4.5" fill="#f17153"/>
<rect x="125" y="41.2" width="4.5" height="4.5" fill="#f17153"/>
<rect x="129" y="41.2" width="4.5" height="4.5" fill="#f17153"/>
<rect x="133" y="41.2" width="4.5" height="4.5" fill="#f17153"/>
<rect x="137" y="41.2" width="4.5" height="4.5" fill="#f17153"/>
<rect x="141" y="41.2" width="4.5" height="4.5" fill="#f17153"/>
<rect x="145" y="41.2" width="4.5" height="4.5" fill="#f17153"/>
<rect x="149" y="41.2" width="4.5" height="4.5" fill="#f17153"/>
<rect x="153" y="41.2" width="4.5" height="4.5" fill="#f17153"/>
<rect x="157" y="41.2" width="4.5" height="4.5" fill="#f17153"/>
<rect x="161" y="41.2" width="4.5" height="4.5" fill="#f17153"/>
<rect x="165" y="41.2" width="4.5" height="4.5" fill="#f17153"/>
<rect x="169" y="41.2" width="4.5" height="4.5" fill="#f17153"/>
<rect x="173" y="41.2" width="4.5" height="4.5" fill="#f17153"/>
<rect x="177" y="41.2" width="4.5" height="4.5" fill="#f17153"/>
<rect x="181" y="41.2" width="4.5" height="4.5" fill="#f17153"/>
<rect x="185" y="41.2" width="4.5" height="4.5" fill="#f17153"/>
<rect x="189" y="41.2" width="4.5" height="4.5" fill="#f17153"/>
<rect x="193" y="41.2" width="4.5" height="4.5" fill="#f17153"/>
<rect x="197" y="41.2" width="4.5" height="4.5" fill="#f17153"/>
<rect x="201" y="41.2" width="4.5" height="4.5" fill="#f17153"/>
<rect x="205" y="41.2" width="4.5" height="4.5" fill="#f17153"/>
<rect x="209" y="41.2" width="4.5" height="4.5" fill="#f17153"/>
<rect x="213" y="41.2" width="4.5" height="4.5" fill="#f17153"/>
<rect x="217" y="41.2" width="4.5" height="4.5" fill="#f17153"/>
<rect x="221" y="41.2" width="4.5" height="4.5" fill="#f17153"/>
<rect x="225" y="41.2" width="4.5" height="4.5" fill="#f17153"/>
<rect x="229" y="41.2" width="4.5" height="4.5" fill="#f17153"/>
<rect x="233" y="41.2" width="4.5" height="4.5" fill="#f17153"/>
<rect x="25" y="45.2" width="4.5" height="4.5" fill="#ab1117"/>
<rect x="29" y="45.2" width="4.5" height="4.5" fill="#ab1117"/>
<rect x="33" y="45.2" width="4.5" height="4.5" fill="#ab1117"/>
<rect x="37" y="45.2" width="4.5" height="4.5" fill="#ab1117"/>
<rect x="41" y="45.2" width="4.5" height="4.5" fill="#ac1318"/>
<rect x="45" y="45.2" width="4.5" height="4.5" fill="#ae161b"/>
<rect x="49" y="45.2" width="4.5" height="4.5" fill="#b21c1e"/>
<rect x="53" y="45.2" width="4.5" height="4.5" fill="#b62223"/>
<rect x="57" y="45.2" width="4.5" height="4.5" fill="#ba2a28"/>
<rect x="61" y="45.2" width="4.5" height="4.5" fill="#bf332f"/>
<rect x="65" y="45.2" width="4.5" height="4.5" fill="#c53c35"/>
<rect x="69" y="45.2" width="4.5" height="4.5" fill="#cb463c"/>
<rect x="73" y="45.2" width="4.5" height="4.5" fill="#d15043"/>
<rect x="77" y="45.2" width="4.5" height="4.5" fill="#d75a4a"/>
<rect x="81" y="45.2" width="4.5" height="4.5" fill="#dd6351"/>
<rect x="85" y="45.2" width="4.5" height="4.5" fill="#e26c57"/>
<rect x="89" y="45.2" width="4.5" height="4.5" fill="#e7755d"/>
<rect x="93" y="45.2" width="4.5" height="4.5" fill="#ec7c62"/>
<rect x="97" y="45.2" width="4.5" height="4.5" fill="#ef8266"/>
<rect x="101" y="45.2" width="4.5" height="4.5" fill="#f28669"/>
<rect x="105" y="45.2" width="4.5" height="4.5" fill="#f4896b"/>
<rect x="109" y="45.2" width="4.5" height="4.5" fill="#f4896b"/>
<rect x="113" y="45.2" width="4.5" height="4.5" fill="#f4896b"/>
<rect x="117" y="45.2" width="4.5" height="4.5" fill="#f4896b"/>
<rect x="121" y="45.2" width="4.5" height="4.5" fill="#f4896b"/>
<rect x="125" y="45.2" width="4.5" height="4.5" fill="#f4896b"/>
<rect x="129" y="45.2" width="4.5" height="4.5" fill="#f4896b"/>
<rect x="133" y="45.2" width="4.5" height="4.5" fill="#f4896b"/>
<rect x="137" y="45.2" width="4.5" height="4.5" fill="#f4896b"/>
<rect x="141" y="45.2" width="4.5" height="4.5" fill="#f4896b"/>
<rect x="145" y="45.2" width="4.5" height="4.5" fill="#f4896b"/>
<rect x="149" y="45.2" width="4.5" height="4.5" fill="#f4896b"/>
<rect x="153" y="45.2" width="4.5" height="4.5" fill="#f4896b"/>
<rect x="157" y="45.2" width="4.5" height="4.5" fill="#f4896b"/>
<rect x="161" y="45.2" width="4.5" height="4.5" fill="#f4896b"/>
<rect x="165" y="45.2" width="4.5" height="4.5" fill="#f4896b"/>
<rect x="169" y="45.2" width="4.5" height="4.5" fill="#f4896b"/>
<rect x="173" y="45.2" width="4.5" height="4.5" fill="#f4896b"/>
<rect x="177" y="45.2" width="4.5" height="4.5" fill="#f4896b"/>
<rect x="181" y="45.2" width="4.5" height="4.5" fill="#f4896b"/>
<rect x="185" y="45.2" width="4.5" height="4.5" fill="#f4896b"/>
<rect x="189" y="45.2" width="4.5" height="4.5" fill="#f4896b"/>
<rect x="193" y="45.2" width="4.5" height="4.5" fill="#f4896b"/>
<rect x="197" y="45.2" width="4.5" height="4.5" fill="#f4896b"/>
<rect x="201" y="45.2" width="4.5" height="4.5" fill="#f4896b"/>
<rect x="205" y="45.2" width="4.5" height="4.5" fill="#f4896b"/>
<rect x="209" y="45.2" width="4.5" height="4.5" fill="#f4896b"/>
<rect x="213" y="45.2" width="4.5" height="4.5" fill="#f4896b"/>
<rect x="217" y="45.2" width="4.5" height="4.5" fill="#f4896b"/>
<rect x="221" y="45.2" width="4.5" height="4.5" fill="#f4896b"/>
<rect x="225" y="45.2" width="4.5" height="4.5" fill="#f4896b"/>
<rect x="229" y="45.2" width="4.5" height="4.5" fill="#f4896b"/>
<rect x="233" y="45.2" width="4.5" height="4.5" fill="#f4896b"/>
<rect x="25" y="49.2" width="4.5" height="4.5" fill="#c0151b"/>
<rect x="29" y="49.2" width="4.5" height="4.5" fill="#c0151b"/>
<rect x="33" y="49.2" width="4.5" height="4.5" fill="#c0151b"/>
<rect x="37" y="49.2" width="4.5" height="4.5" fill="#c0151b"/>
<rect x="41" y="49.2" width="4.5" height="4.5" fill="#c1171d"/>
<rect x="45" y="49.2" width="4.5" height="4.5" fill="#c21b20"/>
<rect x="49" y="49.2" width="4.5" height="4.5" fill="#c52124"/>
<rect x="53" y="49.2" width="4.5" height="4.5" fill="#c8292a"/>
<rect x="57" y="49.2" width="4.5" height="4.5" fill="#cb3230"/>
<rect x="61" y="49.2" width="4.5" height="4.5" fill="#cf3c38"/>
<rect x="65" y="49.2" width="4.5" height="4.5" fill="#d34740"/>
<rect x="69" y="49.2" width="4.5" height="4.5" fill="#d85248"/>
<rect x="73" y="49.2" width="4.5" height="4.5" fill="#dc5d51"/>
<rect x="77" y="49.2" width="4.5" height="4.5" fill="#e1695a"/>
<rect x="81" y="49.2" width="4.5" height="4.5" fill="#e57462"/>
<rect x="85" y="49.2" width="4.5" height="4.5" fill="#ea7e6a"/>
<rect x="89" y="49.2" width="4.5" height="4.5" fill="#ed8871"/>
<rect x="93" y="49.2" width="4.5" height="4.5" fill="#f19077"/>
<rect x="97" y="49.2" width="4.5" height="4.5" fill="#f3977c"/>
<rect x="101" y="49.2" width="4.5" height="4.5" fill="#f59c80"/>
<rect x="105" y="49.2" width="4.5" height="4.5" fill="#f69f82"/>
<rect x="109" y="49.2" width="4.5" height="4.5" fill="#f7a083"/>
<rect x="113" y="49.2" width="4.5" height="4.5" fill="#f7a083"/>
<rect x="117" y="49.2" width="4.5" height="4.5" fill="#f7a083"/>
<rect x="121" y="49.2" width="4.5" height="4.5" fill="#f7a083"/>
<rect x="125" y="49.2" width="4.5" height="4.5" fill="#f7a083"/>
<rect x="129" y="49.2" width="4.5" height="4.5" fill="#f7a083"/>
<rect x="133" y="49.2" width="4.5" height="4.5" fill="#f7a083"/>
<rect x="137" y="49.2" width="4.5" height="4.5" fill="#f7a083"/>
<rect x="141" y="49.2" width="4.5" height="4.5" fill="#f7a083"/>
<rect x="145" y="49.2" width="4.5" height="4.5" fill="#f7a083"/>
<rect x="149" y="49.2" width="4.5" height="4.5" fill="#f7a083"/>
<rect x="153" y="49.2" width="4.5" height="4.5" fill="#f7a083"/>
<rect x="157" y="49.2" width="4.5" height="4.5" fill="#f7a083"/>
<rect x="161" y="49.2" width="4.5" height="4.5" fill="#f7a083"/>
<rect x="165" y="49.2" width="4.5" height="4.5" fill="#f7a083"/>
<rect x="169" y="49.2" width="4.5" height="4.5" fill="#f7a083"/>
<rect x="173" y="49.2" width="4.5" height="4.5" fill="#f7a083"/>
<rect x="177" y="49.2" width="4.5" height="4.5" fill="#f7a083"/>
<rect x="181" y="49.2" width="4.5" height="4.5" fill="#f7a083"/>
<rect x="185" y="49.2" width="4.5" height="4.5" fill="#f7a083"/>
<rect x="189" y="49.2" width="4.5" height="4.5" fill="#f7a083"/>
<rect x="193" y="49.2" width="4.5" height="4.5" fill="#f7a083"/>
<rect x="197" y="49.2" width="4.5" height="4.5" fill="#f7a083"/>
<rect x="201" y="49.2" width="4.5" height="4.5" fill="#f7a083"/>
<rect x="205" y="49.2" width="4.5" height="4.5" fill="#f7a083"/>
<rect x="209" y="49.2" width="4.5" height="4.5" fill="#f7a083"/>
<rect x="213" y="49.2" width="4.5" height="4.5" fill="#f7a083"/>
<rect x="217" y="49.2" width="4.5" height="4.5" fill="#f7a083"/>
<rect x="221" y="49.2" width="4.5" height="4.5" fill="#f7a083"/>
<rect x="225" y="49.2" width="4.5" height="4.5" fill="#f7a083"/>
<rect x="229" y="49.2" width="4.5" height="4.5" fill="#f7a083"/>
<rect x="233" y="49.2" width="4.5" height="4.5" fill="#f7a083"/>
<rect x="25" y="53.2" width="4.5" height="4.5" fill="#ca1b1d"/>
<rect x="29" y="53.2" width="4.5" height="4.5" fill="#ca1b1d"/>
<rect x="33" y="53.2" width="4.5" height="4.5" fill="#ca1b1d"/>
<rect x="37" y="53.2" width="4.5" height="4.5" fill="#ca1b1d"/>
<rect x="41" y="53.2" width="4.5" height="4.5" fill="#ca1d1f"/>
<rect x="45" y="53.2" width="4.5" height="4.5" fill="#cc2123"/>
<rect x="49" y="53.2" width="4.5" height="4.5" fill="#ce2828"/>
<rect x="53" y="53.2" width="4.5" height="4.5" fill="#d0302f"/>
<rect x="57" y="53.2" width="4.5" height="4.5" fill="#d33a37"/>
<rect x="61" y="53.2" width="4.5" height="4.5" fill="#d74540"/>
<rect x="65" y="53.2" width="4.5" height="4.5" fill="#db5149"/>
<rect x="69" y="53.2" width="4.5" height="4.5" fill="#df5d53"/>
<rect x="73" y="53.2" width="4.5" height="4.5" fill="#e26a5e"/>
<rect x="77" y="53.2" width="4.5" height="4.5" fill="#e67768"/>
<rect x="81" y="53.2" width="4.5" height="4.5" fill="#ea8372"/>
<rect x="85" y="53.2" width="4.5" height="4.5" fill="#ee8e7b"/>
<rect x="89" y="53.2" width="4.5" height="4.5" fill="#f19983"/>
<rect x="93" y="53.2" width="4.5" height="4.5" fill="#f4a28b"/>
<rect x="97" y="53.2" width="4.5" height="4.5" fill="#f6a991"/>
<rect x="101" y="53.2" width="4.5" height="4.5" fill="#f8af95"/>
<rect x="105" y="53.2" width="4.5" height="4.5" fill="#f9b298"/>
<rect x="109" y="53.2" width="4.5" height="4.5" fill="#f9b399"/>
<rect x="113" y="53.2" width="4.5" height="4.5" fill="#f9b399"/>
<rect x="117" y="53.2" width="4.5" height="4.5" fill="#f9b399"/>
<rect x="121" y="53.2" width="4.5" height="4.5" fill="#f9b399"/>
<rect x="125" y="53.2" width="4.5" height="4.5" fill="#f9b399"/>
<rect x="129" y="53.2" width="4.5" height="4.5" fill="#f9b399"/>
<rect x="133" y="53.2" width="4.5" height="4.5" fill="#f9b399"/>
<rect x="137" y="53.2" width="4.5" height="4.5" fill="#f9b399"/>
<rect x="141" y="53.2" width="4.5" height="4.5" fill="#f9b399"/>
<rect x="145" y="53.2" width="4.5" height="4.5" fill="#f9b399"/>
<rect x="149" y="53.2" width="4.5" height="4.5" fill="#f9b399"/>
<rect x="153" y="53.2" width="4.5" height="4.5" fill="#f9b399"/>
<rect x="157" y="53.2" width="4.5" height="4.5" fill="#f9b399"/>
<rect x="161" y="53.2" width="4.5" height="4.5" fill="#f9b399"/>
<rect x="165" y="53.2" width="4.5" height="4.5" fill="#f9b399"/>
<rect x="169" y="53.2" width="4.5" height="4.5" fill="#f9b399"/>
<rect x="173" y="53.2" width="4.5" height="4.5" fill="#f9b399"/>
<rect x="177" y="53.2" width="4.5" height="4.5" fill="#f9b399"/>
<rect x="181" y="53.2" width="4.5" height="4.5" fill="#f9b399"/>
<rect x="185" y="53.2" width="4.5" height="4.5" fill="#f9b399"/>
<rect x="189" y="53.2" width="4.5" height="4.5" fill="#f9b399"/>
<rect x="193" y="53.2" width="4.5" height="4.5" fill="#f9b399"/>
<rect x="197" y="53.2" width="4.5" height="4.5" fill="#f9b399"/>
<rect x="201" y="53.2" width="4.5" height="4.5" fill="#f9b399"/>
<rect x="205" y="53.2" width="4.5" height="4.5" fill="#f9b399"/>
<rect x="209" y="53.2" width="4.5" height="4.5" fill="#f9b399"/>
<rect x="213" y="53.2" width="4.5" height="4.5" fill="#f9b399"/>
<rect x="217" y="53.2" width="4.5" height="4.5" fill="#f9b399"/>
<rect x="221" y="53.2" width="4.5" height="4.5" fill="#f9b399"/>
<rect x="225" y="53.2" width="4.5" height="4.5" fill="#f9b399"/>
<rect x="229" y="53.2" width="4.5" height="4.5" fill="#f9b399"/>
<rect x="233" y="53.2" width="4.5" height="4.5" fill="#f9b399"/>
<rect x="25" y="57.2" width="4.5" height="4.5" fill="#d1211f"/>
<rect x="29" y="57.2" width="4.5" height="4.5" fill="#d1211f"/>
<rect x="33" y="57.2" width="4.5" height="4.5" fill="#d1211f"/>
<rect x="37" y="57.2" width="4.5" height="4.5" fill="#d1211f"/>
<rect x="41" y="57.2" width="4.5" height="4.5" fill="#d12321"/>
<rect x="45" y="57.2" width="4.5" height="4.5" fill="#d32825"/>
<rect x="49" y="57.2" width="4.5" height="4.5" fill="#d42f2b"/>
<rect x="53" y="57.2" width="4.5" height="4.5" fill="#d73833"/>
<rect x="57" y="57.2" width="4.5" height="4.5" fill="#da433c"/>
<rect x="61" y="57.2" width="4.5" height="4.5" fill="#dd4e47"/>
<rect x="65" y="57.2" width="4.5" height="4.5" fill="#e05b52"/>
<rect x="69" y="57.2" width="4.5" height="4.5" fill="#e3685d"/>
<rect x="73" y="57.2" width="4.5" height="4.5" fill="#e77669"/>
<rect x="77" y="57.2" width="4.5" height="4.5" fill="#ea8375"/>
<rect x="81" y="57.2" width="4.5" height="4.5" fill="#ee9080"/>
<rect x="85" y="57.2" width="4.5" height="4.5" fill="#f19c8b"/>
<rect x="89" y="57.2" width="4.5" height="4.5" fill="#f4a895"/>
<rect x="93" y="57.2" width="4.5" height="4.5" fill="#f7b19d"/>
<rect x="97" y="57.2" width="4.5" height="4.5" fill="#f9b9a4"/>
<rect x="101" y="57.2" width="4.5" height="4.5" fill="#fabfa9"/>
<rect x="105" y="57.2" width="4.5" height="4.5" fill="#fbc3ad"/>
<rect x="109" y="57.2" width="4.5" height="4.5" fill="#fbc4ad"/>
<rect x="113" y="57.2" width="4.5" height="4.5" fill="#fbc4ad"/>
<rect x="117" y="57.2" width="4.5" height="4.5" fill="#fbc4ad"/>
<rect x="121" y="57.2" width="4.5" height="4.5" fill="#fbc4ad"/>
<rect x="125" y="57.2" width="4.5" height="4.5" fill="#fbc4ad"/>
<rect x="129" y="57.2" width="4.5" height="4.5" fill="#fbc4ad"/>
<rect x="133" y="57.2" width="4.5" height="4.5" fill="#fbc4ad"/>
<rect x="137" y="57.2" width="4.5" height="4.5" fill="#fbc4ad"/>
<rect x="141" y="57.2" width="4.5" height="4.5" fill="#fbc4ad"/>
<rect x="145" y="57.2" width="4.5" height="4.5" fill="#fbc4ad"/>
<rect x="149" y="57.2" width="4.5" height="4.5" fill="#fbc4ad"/>
<rect x="153" y="57.2" width="4.5" height="4.5" fill="#fbc4ad"/>
<rect x="157" y="57.2" width="4.5" height="4.5" fill="#fbc4ad"/>
<rect x="161" y="57.2" width="4.5" height="4.5" fill="#fbc4ad"/>
<rect x="165" y="57.2" width="4.5" height="4.5" fill="#fbc4ad"/>
<rect x="169" y="57.2" width="4.5" height="4.5" fill="#fbc4ad"/>
<rect x="173" y="57.2" width="4.5" height="4.5" fill="#fbc4ad"/>
<rect x="177" y="57.2" width="4.5" height="4.5" fill="#fbc4ad"/>
<rect x="181" y="57.2" width="4.5" height="4.5" fill="#fbc4ad"/>
<rect x="185" y="57.2" width="4.5" height="4.5" fill="#fbc4ad"/>
<rect x="189" y="57.2" width="4.5" height="4.5" fill="#fbc4ad"/>
<rect x="193" y="57.2" width="4.5" height="4.5" fill="#fbc4ad"/>
<rect x="197" y="57.2" width="4.5" height="4.5" fill="#fbc4ad"/>
<rect x="201" y="57.2" width="4.5" height="4.5" fill="#fbc4ad"/>
<rect x="205" y="57.2" width="4.5" height="4.5" fill="#fbc4ad"/>
<rect x="209" y="57.2" width="4.5" height="4.5" fill="#fbc4ad"/>
<rect x="213" y="57.2" width="4.5" height="4.5" fill="#fbc4ad"/>
<rect x="217" y="57.2" width="4.5" height="4.5" fill="#fbc4ad"/>
<rect x="221" y="57.2" width="4.5" height="4.5" fill="#fbc4ad"/>
<rect x="225" y="57.2" width="4.5" height="4.5" fill="#fbc4ad"/>
<rect x="229" y="57.2" width="4.5" height="4.5" fill="#fbc4ad"/>
<rect x="233" y="57.2" width="4.5" height="4.5" fill="#fbc4ad"/>
<rect x="25" y="61.2" width="4.5" height="4.5" fill="#d62721"/>
<rect x="29" y="61.2" width="4.5" height="4.5" fill="#d62721"/>
<rect x="33" y="61.2" width="4.5" height="4.5" fill="#d62721"/>
<rect x="37" y="61.2" width="4.5" height="4.5" fill="#d62721"/>
<rect x="41" y="61.2" width="4.5" height="4.5" fill="#d72924"/>
<rect x="45" y="61.2" width="4.5" height="4.5" fill="#d82e28"/>
<rect x="49" y="61.2" width="4.5" height="4.5" fill="#d9352f"/>
<rect x="53" y="61.2" width="4.5" height="4.5" fill="#db3f38"/>
<rect x="57" y="61.2" width="4.5" height="4.5" fill="#de4942"/>
<rect x="61" y="61.2" width="4.5" height="4.5" fill="#e1564d"/>
<rect x="65" y="61.2" width="4.5" height="4.5" fill="#e46359"/>
<rect x="69" y="61.2" width="4.5" height="4.5" fill="#e77166"/>
<rect x="73" y="61.2" width="4.5" height="4.5" fill="#ea7f73"/>
<rect x="77" y="61.2" width="4.5" height="4.5" fill="#ed8d80"/>
<rect x="81" y="61.2" width="4.5" height="4.5" fill="#f09a8d"/>
<rect x="85" y="61.2" width="4.5" height="4.5" fill="#f3a799"/>
<rect x="89" y="61.2" width="4.5" height="4.5" fill="#f6b3a4"/>
<rect x="93" y="61.2" width="4.5" height="4.5" fill="#f8bdad"/>
<rect x="97" y="61.2" width="4.5" height="4.5" fill="#fac5b5"/>
<rect x="101" y="61.2" width="4.5" height="4.5" fill="#fbcbbb"/>
<rect x="105" y="61.2" width="4.5" height="4.5" fill="#fccfbe"/>
<rect x="109" y="61.2" width="4.5" height="4.5" fill="#fcd0bf"/>
<rect x="113" y="61.2" width="4.5" height="4.5" fill="#fcd0bf"/>
<rect x="117" y="61.2" width="4.5" height="4.5" fill="#fcd0bf"/>
<rect x="121" y="61.2" width="4.5" height="4.5" fill="#fcd0bf"/>
<rect x="125" y="61.2" width="4.5" height="4.5" fill="#fcd0bf"/>
<rect x="129" y="61.2" width="4.5" height="4.5" fill="#fcd0bf"/>
<rect x="133" y="61.2" width="4.5" height="4.5" fill="#fcd0bf"/>
<rect x="137" y="61.2" width="4.5" height="4.5" fill="#fcd0bf"/>
<rect x="141" y="61.2" width="4.5" height="4.5" fill="#fcd0bf"/>
<rect x="145" y="61.2" width="4.5" height="4.5" fill="#fcd0bf"/>
<rect x="149" y="61.2" width="4.5" height="4.5" fill="#fcd0bf"/>
<rect x="153" y="61.2" width="4.5" height="4.5" fill="#fcd0bf"/>
<rect x="157" y="61.2" width="4.5" height="4.5" fill="#fcd0bf"/>
<rect x="161" y="61.2" width="4.5" height="4.5" fill="#fcd0bf"/>
<rect x="165" y="61.2" width="4.5" height="4.5" fill="#fcd0bf"/>
<rect x="169" y="61.2" width="4.5" height="4.5" fill="#fcd0bf"/>
<rect x="173" y="61.2" width="4.5" height="4.5" fill="#fcd0bf"/>
<rect x="177" y="61.2" width="4.5" height="4.5" fill="#fcd0bf"/>
<rect x="181" y="61.2" width="4.5" height="4.5" fill="#fcd0bf"/>
<rect x="185" y="61.2" width="4.5" height="4.5" fill="#fcd0bf"/>
<rect x="189" y="61.2" width="4.5" height="4.5" fill="#fcd0bf"/>
<rect x="193" y="61.2" width="4.5" height="4.5" fill="#fcd0bf"/>
<rect x="197" y="61.2" width="4.5" height="4.5" fill="#fcd0bf"/>
<rect x="201" y="61.2" width="4.5" height="4.5" fill="#fcd0bf"/>
<rect x="205" y="61.2" width="4.5" height="4.5" fill="#fcd0bf"/>
<rect x="209" y="61.2" width="4.5" height="4.5" fill="#fcd0bf"/>
<rect x="213" y="61.2" width="4.5" height="4.5" fill="#fcd0bf"/>
<rect x="217" y="61.2" width="4.5" height="4.5" fill="#fcd0bf"/>
<rect x="221" y="61.2" width="4.5" height="4.5" fill="#fcd0bf"/>
<rect x="225" y="61.2" width="4.5" height="4.5" fill="#fcd0bf"/>
<rect x="229" y="61.2" width="4.5" height="4.5" fill="#fcd0bf"/>
<rect x="233" y="61.2" width="4.5" height="4.5" fill="#fcd0bf"/>
<rect x="25" y="65.2" width="4.5" height="4.5" fill="#da2c24"/>
<rect x="29" y="65.2" width="4.5" height="4.5" fill="#da2c24"/>
<rect x="33" y="65.2" width="4.5" height="4.5" fill="#da2c24"/>
<rect x="37" y="65.2" width="4.5" height="4.5" fill="#da2c24"/>
<rect x="41" y="65.2" width="4.5" height="4.5" fill="#da2e26"/>
<rect x="45" y="65.2" width="4.5" height="4.5" fill="#db332b"/>
<rect x="49" y="65.2" width="4.5" height="4.5" fill="#dd3b32"/>
<rect x="53" y="65.2" width="4.5" height="4.5" fill="#df443c"/>
<rect x="57" y="65.2" width="4.5" height="4.5" fill="#e14f47"/>
<rect x="61" y="65.2" width="4.5" height="4.5" fill="#e45c53"/>
<rect x="65" y="65.2" width="4.5" height="4.5" fill="#e66a60"/>
<rect x="69" y="65.2" width="4.5" height="4.5" fill="#e9786e"/>
<rect x="73" y="65.2" width="4.5" height="4.5" fill="#ec867c"/>
<rect x="77" y="65.2" width="4.5" height="4.5" fill="#ef958a"/>
<rect x="81" y="65.2" width="4.5" height="4.5" fill="#f2a398"/>
<rect x="85" y="65.2" width="4.5" height="4.5" fill="#f5b0a4"/>
<rect x="89" y="65.2" width="4.5" height="4.5" fill="#f7bcb0"/>
<rect x="93" y="65.2" width="4.5" height="4.5" fill="#f9c6ba"/>
<rect x="97" y="65.2" width="4.5" height="4.5" fill="#fbcfc3"/>
<rect x="101" y="65.2" width="4.5" height="4.5" fill="#fcd5c9"/>
<rect x="105" y="65.2" width="4.5" height="4.5" fill="#fdd9cc"/>
<rect x="109" y="65.2" width="4.5" height="4.5" fill="#fddacd"/>
<rect x="113" y="65.2" width="4.5" height="4.5" fill="#fddacd"/>
<rect x="117" y="65.2" width="4.5" height="4.5" fill="#fddacd"/>
<rect x="121" y="65.2" width="4.5" height="4.5" fill="#fddacd"/>
<rect x="125" y="65.2" width="4.5" height="4.5" fill="#fddacd"/>
<rect x="129" y="65.2" width="4.5" height="4.5" fill="#fddacd"/>
<rect x="133" y="65.2" width="4.5" height="4.5" fill="#fddacd"/>
<rect x="137" y="65.2" width="4.5" height="4.5" fill="#fddacd"/>
<rect x="141" y="65.2" width="4.5" height="4.5" fill="#fddacd"/>
<rect x="145" y="65.2" width="4.5" height="4.5" fill="#fddacd"/>
<rect x="149" y="65.2" width="4.5" height="4.5" fill="#fddacd"/>
<rect x="153" y="65.2" width="4.5" height="4.5" fill="#fddacd"/>
<rect x="157" y="65.2" width="4.5" height="4.5" fill="#fddacd"/>
<rect x="161" y="65.2" width="4.5" height="4.5" fill="#fddacd"/>
<rect x="165" y="65.2" width="4.5" height="4.5" fill="#fddacd"/>
<rect x="169" y="65.2" width="4.5" height="4.5" fill="#fddacd"/>
<rect x="173" y="65.2" width="4.5" height="4.5" fill="#fddacd"/>
<rect x="177" y="65.2" width="4.5" height="4.5" fill="#fddacd"/>
<rect x="181" y="65.2" width="4.5" height="4.5" fill="#fddacd"/>
<rect x="185" y="65.2" width="4.5" height="4.5" fill="#fddacd"/>
<rect x="189" y="65.2" width="4.5" height="4.5" fill="#fddacd"/>
<rect x="193" y="65.2" width="4.5" height="4.5" fill="#fddacd"/>
<rect x="197" y="65.2" width="4.5" height="4.5" fill="#fddacd"/>
<rect x="201" y="65.2" width="4.5" height="4.5" fill="#fddacd"/>
<rect x="205" y="65.2" width="4.5" height="4.5" fill="#fddacd"/>
<rect x="209" y="65.2" width="4.5" height="4.5" fill="#fddacd"/>
<rect x="213" y="65.2" width="4.5" height="4.5" fill="#fddacd"/>
<rect x="217" y="65.2" width="4.5" height="4.5" fill="#fddacd"/>
<rect x="221" y="65.2" width="4.5" height="4.5" fill="#fddacd"/>
<rect x="225" y="65.2" width="4.5" height="4.5" fill="#fddacd"/>
<rect x="229" y="65.2" width="4.5" height="4.5" fill="#fddacd"/>
<rect x="233" y="65.2" width="4.5" height="4.5" fill="#fddacd"/>
<rect x="25" y="69.2" width="4.5" height="4.5" fill="#dd3126"/>
<rect x="29" y="69.2" width="4.5" height="4.5" fill="#dd3126"/>
<rect x="33" y="69.2" width="4.5" height="4.5" fill="#dd3126"/>
<rect x="37" y="69.2" width="4.5" height="4.5" fill="#dd3126"/>
<rect x="41" y="69.2" width="4.5" height="4.5" fill="#de3329"/>
<rect x="45" y="69.2" width="4.5" height="4.5" fill="#df382e"/>
<rect x="49" y="69.2" width="4.5" height="4.5" fill="#e04035"/>
<rect x="53" y="69.2" width="4.5" height="4.5" fill="#e2493f"/>
<rect x="57" y="69.2" width="4.5" height="4.5" fill="#e4554a"/>
<rect x="61" y="69.2" width="4.5" height="4.5" fill="#e66157"/>
<rect x="65" y="69.2" width="4.5" height="4.5" fill="#e96f64"/>
<rect x="69" y="69.2" width="4.5" height="4.5" fill="#eb7d73"/>
<rect x="73" y="69.2" width="4.5" height="4.5" fill="#ee8c81"/>
<rect x="77" y="69.2" width="4.5" height="4.5" fill="#f19a90"/>
<rect x="81" y="69.2" width="4.5" height="4.5" fill="#f3a89e"/>
<rect x="85" y="69.2" width="4.5" height="4.5" fill="#f6b6ab"/>
<rect x="89" y="69.2" width="4.5" height="4.5" fill="#f8c2b7"/>
<rect x="93" y="69.2" width="4.5" height="4.5" fill="#faccc1"/>
<rect x="97" y="69.2" width="4.5" height="4.5" fill="#fbd5ca"/>
<rect x="101" y="69.2" width="4.5" height="4.5" fill="#fddbd0"/>
<rect x="105" y="69.2" width="4.5" height="4.5" fill="#fddfd4"/>
<rect x="109" y="69.2" width="4.5" height="4.5" fill="#fde0d5"/>
<rect x="113" y="69.2" width="4.5" height="4.5" fill="#fde0d5"/>
<rect x="117" y="69.2" width="4.5" height="4.5" fill="#fde0d5"/>
<rect x="121" y="69.2" width="4.5" height="4.5" fill="#fde0d5"/>
<rect x="125" y="69.2" width="4.5" height="4.5" fill="#fde0d5"/>
<rect x="129" y="69.2" width="4.5" height="4.5" fill="#fde0d5"/>
<rect x="133" y="69.2" width="4.5" height="4.5" fill="#fde0d5"/>
<rect x="137" y="69.2" width="4.5" height="4.5" fill="#fde0d5"/>
<rect x="141" y="69.2" width="4.5" height="4.5" fill="#fde0d5"/>
<rect x="145" y="69.2" width="4.5" height="4.5" fill="#fde0d5"/>
<rect x="149" y="69.2" width="4.5" height="4.5" fill="#fde0d5"/>
<rect x="153" y="69.2" width="4.5" height="4.5" fill="#fde0d5"/>
<rect x="157" y="69.2" width="4.5" height="4.5" fill="#fde0d5"/>
<rect x="161" y="69.2" width="4.5" height="4.5" fill="#fde0d5"/>
<rect x="165" y="69.2" width="4.5" height="4.5" fill="#fde0d5"/>
<rect x="169" y="69.2" width="4.5" height="4.5" fill="#fde0d5"/>
<rect x="173" y="69.2" width="4.5" height="4.5" fill="#fde0d5"/>
<rect x="177" y="69.2" width="4.5" height="4.5" fill="#fde0d5"/>
<rect x="181" y="69.2" width="4.5" height="4.5" fill="#fde0d5"/>
<rect x="185" y="69.2" width="4.5" height="4.5" fill="#fde0d5"/>
<rect x="189" y="69.2" width="4.5" height="4.5" fill="#fde0d5"/>
<rect x="193" y="69.2" width="4.5" height="4.5" fill="#fde0d5"/>
<rect x="197" y="69.2" width="4.5" height="4.5" fill="#fde0d5"/>
<rect x="201" y="69.2" width="4.5" height="4.5" fill="#fde0d5"/>
<rect x="205" y="69.2" width="4.5" height="4.5" fill="#fde0d5"/>
<rect x="209" y="69.2" width="4.5" height="4.5" fill="#fde0d5"/>
<rect x="213" y="69.2" width="4.5" height="4.5" fill="#fde0d5"/>
<rect x="217" y="69.2" width="4.5" height="4.5" fill="#fde0d5"/>
<rect x="221" y="69.2" width="4.5" height="4.5" fill="#fde0d5"/>
<rect x="225" y="69.2" width="4.5" height="4.5" fill="#fde0d5"/>
<rect x="229" y="69.2" width="4.5" height="4.5" fill="#fde0d5"/>
<rect x="233" y="69.2" width="4.5" height="4.5" fill="#fde0d5"/>
<rect x="25" y="73.2" width="4.5" height="4.5" fill="#e13629"/>
<rect x="29" y="73.2" width="4.5" height="4.5" fill="#e13629"/>
<rect x="33" y="73.2" width="4.5" height="4.5" fill="#e13629"/>
<rect x="37" y="73.2" width="4.5" height="4.5" fill="#e13729"/>
<rect x="41" y="73.2" width="4.5" height="4.5" fill="#e1392c"/>
<rect x="45" y="73.2" width="4.5" height="4.5" fill="#e23e31"/>
<rect x="49" y="73.2" width="4.5" height="4.5" fill="#e44539"/>
<rect x="53" y="73.2" width="4.5" height="4.5" fill="#e54f42"/>
<rect x="57" y="73.2" width="4.5" height="4.5" fill="#e75a4e"/>
<rect x="61" y="73.2" width="4.5" height="4.5" fill="#e9675b"/>
<rect x="65" y="73.2" width="4.5" height="4.5" fill="#eb7569"/>
<rect x="69" y="73.2" width="4.5" height="4.5" fill="#ee8378"/>
<rect x="73" y="73.2" width="4.5" height="4.5" fill="#f09287"/>
<rect x="77" y="73.2" width="4.5" height="4.5" fill="#f2a095"/>
<rect x="81" y="73.2" width="4.5" height="4.5" fill="#f5aea4"/>
<rect x="85" y="73.2" width="4.5" height="4.5" fill="#f7bcb1"/>
<rect x="89" y="73.2" width="4.5" height="4.5" fill="#f9c8be"/>
<rect x="93" y="73.2" width="4.5" height="4.5" fill="#fbd2c9"/>
<rect x="97" y="73.2" width="4.5" height="4.5" fill="#fcdbd1"/>
<rect x="101" y="73.2" width="4.5" height="4.5" fill="#fde1d8"/>
<rect x="105" y="73.2" width="4.5" height="4.5" fill="#fee5dc"/>
<rect x="109" y="73.2" width="4.5" height="4.5" fill="#fee6dd"/>
<rect x="113" y="73.2" width="4.5" height="4.5" fill="#fee6dd"/>
<rect x="117" y="73.2" width="4.5" height="4.5" fill="#fee6dd"/>
<rect x="121" y="73.2" width="4.5" height="4.5" fill="#fee6dd"/>
<rect x="125" y="73.2" width="4.5" height="4.5" fill="#fee6dd"/>
<rect x="129" y="73.2" width="4.5" height="4.5" fill="#fee6dd"/>
<rect x="133" y="73.2" width="4.5" height="4.5" fill="#fee6dd"/>
<rect x="137" y="73.2" width="4.5" height="4.5" fill="#fee6dd"/>
<rect x="141" y="73.2" width="4.5" height="4.5" fill="#fee6dd"/>
<rect x="145" y="73.2" width="4.5" height="4.5" fill="#fee6dd"/>
<rect x="149" y="73.2" width="4.5" height="4.5" fill="#fee6dd"/>
<rect x="153" y="73.2" width="4.5" height="4.5" fill="#fee6dd"/>
<rect x="157" y="73.2" width="4.5" height="4.5" fill="#fee6dd"/>
<rect x="161" y="73.2" width="4.5" height="4.5" fill="#fee6dd"/>
<rect x="165" y="73.2" width="4.5" height="4.5" fill="#fee6dd"/>
<rect x="169" y="73.2" width="4.5" height="4.5" fill="#fee6dd"/>
<rect x="173" y="73.2" width="4.5" height="4.5" fill="#fee6dd"/>
<rect x="177" y="73.2" width="4.5" height="4.5" fill="#fee6dd"/>
<rect x="181" y="73.2" width="4.5" height="4.5" fill="#fee6dd"/>
<rect x="185" y="73.2" width="4.5" height="4.5" fill="#fee6dd"/>
<rect x="189" y="73.2" width="4.5" height="4.5" fill="#fee6dd"/>
<rect x="193" y="73.2" width="4.5" height="4.5" fill="#fee6dd"/>
<rect x="197" y="73.2" width="4.5" height="4.5" fill="#fee6dd"/>
<rect x="201" y="73.2" width="4.5" height="4.5" fill="#fee6dd"/>
<rect x="205" y="73.2" width="4.5" height="4.5" fill="#fee6dd"/>
<rect x="209" y="73.2" width="4.5" height="4.5" fill="#fee6dd"/>
<rect x="213" y="73.2" width="4.5" height="4.5" fill="#fee6dd"/>
<rect x="217" y="73.2" width="4.5" height="4.5" fill="#fee6dd"/>
<rect x="221" y="73.2" width="4.5" height="4.5" fill="#fee6dd"/>
<rect x="225" y="73.2" width="4.5" height="4.5" fill="#fee6dd"/>
<rect x="229" y="73.2" width="4.5" height="4.5" fill="#fee6dd"/>
<rect x="233" y="73.2" width="4.5" height="4.5" fill="#fee6dd"/>
<rect x="25" y="77.2" width="4.5" height="4.5" fill="#e53e2d"/>
<rect x="29" y="77.2" width="4.5" height="4.5" fill="#e53e2d"/>
<rect x="33" y="77.2" width="4.5" height="4.5" fill="#e53e2d"/>
<rect x="37" y="77.2" width="4.5" height="4.5" fill="#e53e2d"/>
<rect x="41" y="77.2" width="4.5" height="4.5" fill="#e5412f"/>
<rect x="45" y="77.2" width="4.5" height="4.5" fill="#e64635"/>
<rect x="49" y="77.2" width="4.5" height="4.5" fill="#e74d3c"/>
<rect x="53" y="77.2" width="4.5" height="4.5" fill="#e85746"/>
<rect x="57" y="77.2" width="4.5" height="4.5" fill="#ea6252"/>
<rect x="61" y="77.2" width="4.5" height="4.5" fill="#ec6e5f"/>
<rect x="65" y="77.2" width="4.5" height="4.5" fill="#ee7c6d"/>
<rect x="69" y="77.2" width="4.5" height="4.5" fill="#f08a7c"/>
<rect x="73" y="77.2" width="4.5" height="4.5" fill="#f2988b"/>
<rect x="77" y="77.2" width="4.5" height="4.5" fill="#f4a69a"/>
<rect x="81" y="77.2" width="4.5" height="4.5" fill="#f6b4a9"/>
<rect x="85" y="77.2" width="4.5" height="4.5" fill="#f8c1b7"/>
<rect x="89" y="77.2" width="4.5" height="4.5" fill="#facdc3"/>
<rect x="93" y="77.2" width="4.5" height="4.5" fill="#fbd7ce"/>
<rect x="97" y="77.2" width="4.5" height="4.5" fill="#fce0d7"/>
<rect x="101" y="77.2" width="4.5" height="4.5" fill="#fde6de"/>
<rect x="105" y="77.2" width="4.5" height="4.5" fill="#feeae2"/>
<rect x="109" y="77.2" width="4.5" height="4.5" fill="#feeae3"/>
<rect x="113" y="77.2" width="4.5" height="4.5" fill="#feeae3"/>
<rect x="117" y="77.2" width="4.5" height="4.5" fill="#feeae3"/>
<rect x="121" y="77.2" width="4.5" height="4.5" fill="#feeae3"/>
<rect x="125" y="77.2" width="4.5" height="4.5" fill="#feeae3"/>
<rect x="129" y="77.2" width="4.5" height="4.5" fill="#feeae3"/>
<rect x="133" y="77.2" width="4.5" height="4.5" fill="#feeae3"/>
<rect x="137" y="77.2" width="4.5" height="4.5" fill="#feeae3"/>
<rect x="141" y="77.2" width="4.5" height="4.5" fill="#feeae3"/>
<rect x="145" y="77.2" width="4.5" height="4.5" fill="#feeae3"/>
<rect x="149" y="77.2" width="4.5" height="4.5" fill="#feeae3"/>
<rect x="153" y="77.2" width="4.5" height="4.5" fill="#feeae3"/>
<rect x="157" y="77.2" width="4.5" height="4.5" fill="#feeae3"/>
<rect x="161" y="77.2" width="4.5" height="4.5" fill="#feeae3"/>
<rect x="165" y="77.2" width="4.5" height="4.5" fill="#feeae3"/>
<rect x="169" y="77.2" width="4.5" height="4.5" fill="#feeae3"/>
<rect x="173" y="77.2" width="4.5" height="4.5" fill="#feeae3"/>
<rect x="177" y="77.2" width="4.5" height="4.5" fill="#feeae3"/>
<rect x="181" y="77.2" width="4.5" height="4.5" fill="#feeae3"/>
<rect x="185" y="77.2" width="4.5" height="4.5" fill="#feeae3"/>
<rect x="189" y="77.2" width="4.5" height="4.5" fill="#feeae3"/>
<rect x="193" y="77.2" width="4.5" height="4.5" fill="#feeae3"/>
<rect x="197" y="77.2" width="4.5" height="4.5" fill="#feeae3"/>
<rect x="201" y="77.2" width="4.5" height="4.5" fill="#feeae3"/>
<rect x="205" y="77.2" width="4.5" height="4.5" fill="#feeae3"/>
<rect x="209" y="77.2" width="4.5" height="4.5" fill="#feeae3"/>
<rect x="213" y="77.2" width="4.5" height="4.5" fill="#feeae3"/>
<rect x="217" y="77.2" width="4.5" height="4.5" fill="#feeae3"/>
<rect x="221" y="77.2" width="4.5" height="4.5" fill="#feeae3"/>
<rect x="225" y="77.2" width="4.5" height="4.5" fill="#feeae3"/>
<rect x="229" y="77.2" width="4.5" height="4.5" fill="#feeae3"/>
<rect x="233" y="77.2" width="4.5" height="4.5" fill="#feeae3"/>
<rect x="25" y="81.2" width="4.5" height="4.5" fill="#e84630"/>
<rect x="29" y="81.2" width="4.5" height="4.5" fill="#e84630"/>
<rect x="33" y="81.2" width="4.5" height="4.5" fill="#e84630"/>
<rect x="37" y="81.2" width="4.5" height="4.5" fill="#e84630"/>
<rect x="41" y="81.2" width="4.5" height="4.5" fill="#e94933"/>
<rect x="45" y="81.2" width="4.5" height="4.5" fill="#e94e38"/>
<rect x="49" y="81.2" width="4.5" height="4.5" fill="#ea5540"/>
<rect x="53" y="81.2" width="4.5" height="4.5" fill="#eb5e4a"/>
<rect x="57" y="81.2" width="4.5" height="4.5" fill="#ed6855"/>
<rect x="61" y="81.2" width="4.5" height="4.5" fill="#ee7462"/>
<rect x="65" y="81.2" width="4.5" height="4.5" fill="#f08170"/>
<rect x="69" y="81.2" width="4.5" height="4.5" fill="#f28f7f"/>
<rect x="73" y="81.2" width="4.5" height="4.5" fill="#f49d8e"/>
<rect x="77" y="81.2" width="4.5" height="4.5" fill="#f6aa9d"/>
<rect x="81" y="81.2" width="4.5" height="4.5" fill="#f7b7ab"/>
<rect x="85" y="81.2" width="4.5" height="4.5" fill="#f9c4b9"/>
<rect x="89" y="81.2" width="4.5" height="4.5" fill="#fbcfc5"/>
<rect x="93" y="81.2" width="4.5" height="4.5" fill="#fcd9d0"/>
<rect x="97" y="81.2" width="4.5" height="4.5" fill="#fde1d9"/>
<rect x="101" y="81.2" width="4.5" height="4.5" fill="#fee7e0"/>
<rect x="105" y="81.2" width="4.5" height="4.5" fill="#feebe4"/>
<rect x="109" y="81.2" width="4.5" height="4.5" fill="#feece4"/>
<rect x="113" y="81.2" width="4.5" height="4.5" fill="#feece4"/>
<rect x="117" y="81.2" width="4.5" height="4.5" fill="#feece4"/>
<rect x="121" y="81.2" width="4.5" height="4.5" fill="#feece4"/>
<rect x="125" y="81.2" width="4.5" height="4.5" fill="#feece4"/>
<rect x="129" y="81.2" width="4.5" height="4.5" fill="#feece4"/>
<rect x="133" y="81.2" width="4.5" height="4.5" fill="#feece4"/>
<rect x="137" y="81.2" width="4.5" height="4.5" fill="#feece4"/>
<rect x="141" y="81.2" width="4.5" height="4.5" fill="#feece4"/>
<rect x="145" y="81.2" width="4.5" height="4.5" fill="#feece4"/>
<rect x="149" y="81.2" width="4.5" height="4.5" fill="#feece4"/>
<rect x="153" y="81.2" width="4.5" height="4.5" fill="#feece4"/>
<rect x="157" y="81.2" width="4.5" height="4.5" fill="#feece4"/>
<rect x="161" y="81.2" width="4.5" height="4.5" fill="#feece4"/>
<rect x="165" y="81.2" width="4.5" height="4.5" fill="#feece4"/>
<rect x="169" y="81.2" width="4.5" height="4.5" fill="#feece4"/>
<rect x="173" y="81.2" width="4.5" height="4.5" fill="#feece4"/>
<rect x="177" y="81.2" width="4.5" height="4.5" fill="#feece4"/>
<rect x="181" y="81.2" width="4.5" height="4.5" fill="#feece4"/>
<rect x="185" y="81.2" width="4.5" height="4.5" fill="#feece4"/>
<rect x="189" y="81.2" width="4.5" height="4.5" fill="#feece4"/>
<rect x="193" y="81.2" width="4.5" height="4.5" fill="#feece4"/>
<rect x="197" y="81.2" width="4.5" height="4.5" fill="#feece4"/>
<rect x="201" y="81.2" width="4.5" height="4.5" fill="#feece4"/>
<rect x="205" y="81.2" width="4.5" height="4.5" fill="#feece4"/>
<rect x="209" y="81.2" width="4.5" height="4.5" fill="#feece4"/>
<rect x="213" y="81.2" width="4.5" height="4.5" fill="#feece4"/>
<rect x="217" y="81.2" width="4.5" height="4.5" fill="#feece4"/>
<rect x="221" y="81.2" width="4.5" height="4.5" fill="#feece4"/>
<rect x="225" y="81.2" width="4.5" height="4.5" fill="#feece4"/>
<rect x="229" y="81.2" width="4.5" height="4.5" fill="#feece4"/>
<rect x="233" y="81.2" width="4.5" height="4.5" fill="#feece4"/>
<rect x="25" y="85.2" width="4.5" height="4.5" fill="#eb5036"/>
<rect x="29" y="85.2" width="4.5" height="4.5" fill="#eb5036"/>
<rect x="33" y="85.2" width="4.5" height="4.5" fill="#eb5036"/>
<rect x="37" y="85.2" width="4.5" height="4.5" fill="#eb5037"/>
<rect x="41" y="85.2" width="4.5" height="4.5" fill="#eb5239"/>
<rect x="45" y="85.2" width="4.5" height="4.5" fill="#ec573e"/>
<rect x="49" y="85.2" width="4.5" height="4.5" fill="#ed5e46"/>
<rect x="53" y="85.2" width="4.5" height="4.5" fill="#ee664f"/>
<rect x="57" y="85.2" width="4.5" height="4.5" fill="#ef705b"/>
<rect x="61" y="85.2" width="4.5" height="4.5" fill="#f17c67"/>
<rect x="65" y="85.2" width="4.5" height="4.5" fill="#f28875"/>
<rect x="69" y="85.2" width="4.5" height="4.5" fill="#f49583"/>
<rect x="73" y="85.2" width="4.5" height="4.5" fill="#f5a292"/>
<rect x="77" y="85.2" width="4.5" height="4.5" fill="#f7afa1"/>
<rect x="81" y="85.2" width="4.5" height="4.5" fill="#f8bbaf"/>
<rect x="85" y="85.2" width="4.5" height="4.5" fill="#fac7bc"/>
<rect x="89" y="85.2" width="4.5" height="4.5" fill="#fbd2c8"/>
<rect x="93" y="85.2" width="4.5" height="4.5" fill="#fcdcd3"/>
<rect x="97" y="85.2" width="4.5" height="4.5" fill="#fde3db"/>
<rect x="101" y="85.2" width="4.5" height="4.5" fill="#fee9e2"/>
<rect x="105" y="85.2" width="4.5" height="4.5" fill="#feece5"/>
<rect x="109" y="85.2" width="4.5" height="4.5" fill="#ffede6"/>
<rect x="113" y="85.2" width="4.5" height="4.5" fill="#ffede6"/>
<rect x="117" y="85.2" width="4.5" height="4.5" fill="#ffede6"/>
<rect x="121" y="85.2" width="4.5" height="4.5" fill="#ffede6"/>
<rect x="125" y="85.2" width="4.5" height="4.5" fill="#ffede6"/>
<rect x="129" y="85.2" width="4.5" height="4.5" fill="#ffede6"/>
<rect x="133" y="85.2" width="4.5" height="4.5" fill="#ffede6"/>
<rect x="137" y="85.2" width="4.5" height="4.5" fill="#ffede6"/>
<rect x="141" y="85.2" width="4.5" height="4.5" fill="#ffede6"/>
<rect x="145" y="85.2" width="4.5" height="4.5" fill="#ffede6"/>
<rect x="149" y="85.2" width="4.5" height="4.5" fill="#ffede6"/>
<rect x="153" y="85.2" width="4.5" height="4.5" fill="#ffede6"/>
<rect x="157" y="85.2" width="4.5" height="4.5" fill="#ffede6"/>
<rect x="161" y="85.2" width="4.5" height="4.5" fill="#ffede6"/>
<rect x="165" y="85.2" width="4.5" height="4.5" fill="#ffede6"/>
<rect x="169" y="85.2" width="4.5" height="4.5" fill="#ffede6"/>
<rect x="173" y="85.2" width="4.5" height="4.5" fill="#ffede6"/>
<rect x="177" y="85.2" width="4.5" height="4.5" fill="#ffede6"/>
<rect x="181" y="85.2" width="4.5" height="4.5" fill="#ffede6"/>
<rect x="185" y="85.2" width="4.5" height="4.5" fill="#ffede6"/>
<rect x="189" y="85.2" width="4.5" height="4.5" fill="#ffede6"/>
<rect x="193" y="85.2" width="4.5" height="4.5" fill="#ffede6"/>
<rect x="197" y="85.2" width="4.5" height="4.5" fill="#ffede6"/>
<rect x="201" y="85.2" width="4.5" height="4.5" fill="#ffede6"/>
<rect x="205" y="85.2" width="4.5" height="4.5" fill="#ffede6"/>
<rect x="209" y="85.2" width="4.5" height="4.5" fill="#ffede6"/>
<rect x="213" y="85.2" width="4.5" height="4.5" fill="#ffede6"/>
<rect x="217" y="85.2" width="4.5" height="4.5" fill="#ffede6"/>
<rect x="221" y="85.2" width="4.5" height="4.5" fill="#ffede6"/>
<rect x="225" y="85.2" width="4.5" height="4.5" fill="#ffede6"/>
<rect x="229" y="85.2" width="4.5" height="4.5" fill="#ffede6"/>
<rect x="233" y="85.2" width="4.5" height="4.5" fill="#ffede6"/>
<rect x="25" y="89.2" width="4.5" height="4.5" fill="#ed5b3e"/>
<rect x="29" y="89.2" width="4.5" height="4.5" fill="#ed5b3e"/>
<rect x="33" y="89.2" width="4.5" height="4.5" fill="#ed5b3e"/>
<rect x="37" y="89.2" width="4.5" height="4.5" fill="#ed5b3e"/>
<rect x="41" y="89.2" width="4.5" height="4.5" fill="#ee5d41"/>
<rect x="45" y="89.2" width="4.5" height="4.5" fill="#ee6146"/>
<rect x="49" y="89.2" width="4.5" height="4.5" fill="#ef684d"/>
<rect x="53" y="89.2" width="4.5" height="4.5" fill="#f07056"/>
<rect x="57" y="89.2" width="4.5" height="4.5" fill="#f17961"/>
<rect x="61" y="89.2" width="4.5" height="4.5" fill="#f2846e"/>
<rect x="65" y="89.2" width="4.5" height="4.5" fill="#f4907b"/>
<rect x="69" y="89.2" width="4.5" height="4.5" fill="#f59c89"/>
<rect x="73" y="89.2" width="4.5" height="4.5" fill="#f6a897"/>
<rect x="77" y="89.2" width="4.5" height="4.5" fill="#f8b4a5"/>
<rect x="81" y="89.2" width="4.5" height="4.5" fill="#f9c0b2"/>
<rect x="85" y="89.2" width="4.5" height="4.5" fill="#fbcbbf"/>
<rect x="89" y="89.2" width="4.5" height="4.5" fill="#fcd5cb"/>
<rect x="93" y="89.2" width="4.5" height="4.5" fill="#fdded5"/>
<rect x="97" y="89.2" width="4.5" height="4.5" fill="#fee5de"/>
<rect x="101" y="89.2" width="4.5" height="4.5" fill="#feebe4"/>
<rect x="105" y="89.2" width="4.5" height="4.5" fill="#ffeee7"/>
<rect x="109" y="89.2" width="4.5" height="4.5" fill="#ffefe8"/>
<rect x="113" y="89.2" width="4.5" height="4.5" fill="#ffefe8"/>
<rect x="117" y="89.2" width="4.5" height="4.5" fill="#ffefe8"/>
<rect x="121" y="89.2" width="4.5" height="4.5" fill="#ffefe8"/>
<rect x="125" y="89.2" width="4.5" height="4.5" fill="#ffefe8"/>
<rect x="129" y="89.2" width="4.5" height="4.5" fill="#ffefe8"/>
<rect x="133" y="89.2" width="4.5" height="4.5" fill="#ffefe8"/>
<rect x="137" y="89.2" width="4.5" height="4.5" fill="#ffefe8"/>
<rect x="141" y="89.2" width="4.5" height="4.5" fill="#ffefe8"/>
<rect x="145" y="89.2" width="4.5" height="4.5" fill="#ffefe8"/>
<rect x="149" y="89.2" width="4.5" height="4.5" fill="#ffefe8"/>
<rect x="153" y="89.2" width="4.5" height="4.5" fill="#ffefe8"/>
<rect x="157" y="89.2" width="4.5" height="4.5" fill="#ffefe8"/>
<rect x="161" y="89.2" width="4.5" height="4.5" fill="#ffefe8"/>
<rect x="165" y="89.2" width="4.5" height="4.5" fill="#ffefe8"/>
<rect x="169" y="89.2" width="4.5" height="4.5" fill="#ffefe8"/>
<rect x="173" y="89.2" width="4.5" height="4.5" fill="#ffefe8"/>
<rect x="177" y="89.2" width="4.5" height="4.5" fill="#ffefe8"/>
<rect x="181" y="89.2" width="4.5" height="4.5" fill="#ffefe8"/>
<rect x="185" y="89.2" width="4.5" height="4.5" fill="#ffefe8"/>
<rect x="189" y="89.2" width="4.5" height="4.5" fill="#ffefe8"/>
<rect x="193" y="89.2" width="4.5" height="4.5" fill="#ffefe8"/>
<rect x="197" y="89.2" width="4.5" height="4.5" fill="#ffefe8"/>
<rect x="201" y="89.2" width="4.5" height="4.5" fill="#ffefe8"/>
<rect x="205" y="89.2" width="4.5" height="4.5" fill="#ffefe8"/>
<rect x="209" y="89.2" width="4.5" height="4.5" fill="#ffefe8"/>
<rect x="213" y="89.2" width="4.5" height="4.5" fill="#ffefe8"/>
<rect x="217" y="89.2" width="4.5" height="4.5" fill="#ffefe8"/>
<rect x="221" y="89.2" width="4.5" height="4.5" fill="#ffefe8"/>
<rect x="225" y="89.2" width="4.5" height="4.5" fill="#ffefe8"/>
<rect x="229" y="89.2" width="4.5" height="4.5" fill="#ffefe8"/>
<rect x="233" y="89.2" width="4.5" height="4.5" fill="#ffefe8"/>
<rect x="25" y="93.2" width="4.5" height="4.5" fill="#f06646"/>
<rect x="29" y="93.2" width="4.5" height="4.5" fill="#f06646"/>
<rect x="33" y="93.2" width="4.5" height="4.5" fill="#f06646"/>
<rect x="37" y="93.2" width="4.5" height="4.5" fill="#f06646"/>
<rect x="41" y="93.2" width="4.5" height="4.5" fill="#f06849"/>
<rect x="45" y="93.2" width="4.5" height="4.5" fill="#f06c4d"/>
<rect x="49" y="93.2" width="4.5" height="4.5" fill="#f17254"/>
<rect x="53" y="93.2" width="4.5" height="4.5" fill="#f2795d"/>
<rect x="57" y="93.2" width="4.5" height="4.5" fill="#f38268"/>
<rect x="61" y="93.2" width="4.5" height="4.5" fill="#f48c74"/>
<rect x="65" y="93.2" width="4.5" height="4.5" fill="#f59781"/>
<rect x="69" y="93.2" width="4.5" height="4.5" fill="#f6a28e"/>
<rect x="73" y="93.2" width="4.5" height="4.5" fill="#f8ae9c"/>
<rect x="77" y="93.2" width="4.5" height="4.5" fill="#f9b9a9"/>
<rect x="81" y="93.2" width="4.5" height="4.5" fill="#fac4b6"/>
<rect x="85" y="93.2" width="4.5" height="4.5" fill="#fbcfc3"/>
<rect x="89" y="93.2" width="4.5" height="4.5" fill="#fcd8ce"/>
<rect x="93" y="93.2" width="4.5" height="4.5" fill="#fde1d8"/>
<rect x="97" y="93.2" width="4.5" height="4.5" fill="#fee7e0"/>
<rect x="101" y="93.2" width="4.5" height="4.5" fill="#ffece6"/>
<rect x="105" y="93.2" width="4.5" height="4.5" fill="#ffefe9"/>
<rect x="109" y="93.2" width="4.5" height="4.5" fill="#fff0ea"/>
<rect x="113" y="93.2" width="4.5" height="4.5" fill="#fff0ea"/>
<rect x="117" y="93.2" width="4.5" height="4.5" fill="#fff0ea"/>
<rect x="121" y="93.2" width="4.5" height="4.5" fill="#fff0ea"/>
<rect x="125" y="93.2" width="4.5" height="4.5" fill="#fff0ea"/>
<rect x="129" y="93.2" width="4.5" height="4.5" fill="#fff0ea"/>
<rect x="133" y="93.2" width="4.5" height="4.5" fill="#fff0ea"/>
<rect x="137" y="93.2" width="4.5" height="4.5" fill="#fff0ea"/>
<rect x="141" y="93.2" width="4.5" height="4.5" fill="#fff0ea"/>
<rect x="145" y="93.2" width="4.5" height="4.5" fill="#fff0ea"/>
<rect x="149" y="93.2" width="4.5" height="4.5" fill="#fff0ea"/>
<rect x="153" y="93.2" width="4.5" height="4.5" fill="#fff0ea"/>
<rect x="157" y="93.2" width="4.5" height="4.5" fill="#fff0ea"/>
<rect x="161" y="93.2" width="4.5" height="4.5" fill="#fff0ea"/>
<rect x="165" y="93.2" width="4.5" height="4.5" fill="#fff0ea"/>
<rect x="169" y="93.2" width="4.5" height="4.5" fill="#fff0ea"/>
<rect x="173" y="93.2" width="4.5" height="4.5" fill="#fff0ea"/>
<rect x="177" y="93.2" width="4.5" height="4.5" fill="#fff0ea"/>
<rect x="181" y="93.2" width="4.5" height="4.5" fill="#fff0ea"/>
<rect x="185" y="93.2" width="4.5" height="4.5" fill="#fff0ea"/>
<rect x="189" y="93.2" width="4.5" height="4.5" fill="#fff0ea"/>
<rect x="193" y="93.2" width="4.5" height="4.5" fill="#fff0ea"/>
<rect x="197" y="93.2" width="4.5" height="4.5" fill="#fff0ea"/>
<rect x="201" y="93.2" width="4.5" height="4.5" fill="#fff0ea"/>
<rect x="205" y="93.2" width="4.5" height="4.5" fill="#fff0ea"/>
<rect x="209" y="93.2" width="4.5" height="4.5" fill="#fff0ea"/>
<rect x="213" y="93.2" width="4.5" height="4.5" fill="#fff0ea"/>
<rect x="217" y="93.2" width="4.5" height="4.5" fill="#fff0ea"/>
<rect x="221" y="93.2" width="4.5" height="4.5" fill="#fff0ea"/>
<rect x="225" y="93.2" width="4.5" height="4.5" fill="#fff0ea"/>
<rect x="229" y="93.2" width="4.5" height="4.5" fill="#fff0ea"/>
<rect x="233" y="93.2" width="4.5" height="4.5" fill="#fff0ea"/>
<rect x="25" y="97.2" width="4.5" height="4.5" fill="#f16d4d"/>
<rect x="29" y="97.2" width="4.5" height="4.5" fill="#f16d4d"/>
<rect x="33" y="97.2" width="4.5" height="4.5" fill="#f16d4d"/>
<rect x="37" y="97.2" width="4.5" height="4.5" fill="#f16d4d"/>
<rect x="41" y="97.2" width="4.5" height="4.5" fill="#f16f4f"/>
<rect x="45" y="97.2" width="4.5" height="4.5" fill="#f27353"/>
<rect x="49" y="97.2" width="4.5" height="4.5" fill="#f2795a"/>
<rect x="53" y="97.2" width="4.5" height="4.5" fill="#f38063"/>
<rect x="57" y="97.2" width="4.5" height="4.5" fill="#f4886d"/>
<rect x="61" y="97.2" width="4.5" height="4.5" fill="#f59278"/>
<rect x="65" y="97.2" width="4.5" height="4.5" fill="#f69c85"/>
<rect x="69" y="97.2" width="4.5" height="4.5" fill="#f7a792"/>
<rect x="73" y="97.2" width="4.5" height="4.5" fill="#f8b19f"/>
<rect x="77" y="97.2" width="4.5" height="4.5" fill="#fabcac"/>
<rect x="81" y="97.2" width="4.5" height="4.5" fill="#fbc7b8"/>
<rect x="85" y="97.2" width="4.5" height="4.5" fill="#fcd1c4"/>
<rect x="89" y="97.2" width="4.5" height="4.5" fill="#fddacf"/>
<rect x="93" y="97.2" width="4.5" height="4.5" fill="#fde2d9"/>
<rect x="97" y="97.2" width="4.5" height="4.5" fill="#fee8e0"/>
<rect x="101" y="97.2" width="4.5" height="4.5" fill="#ffede6"/>
<rect x="105" y="97.2" width="4.5" height="4.5" fill="#fff0ea"/>
<rect x="109" y="97.2" width="4.5" height="4.5" fill="#fff0ea"/>
<rect x="113" y="97.2" width="4.5" height="4.5" fill="#fff0ea"/>
<rect x="117" y="97.2" width="4.5" height="4.5" fill="#fff0ea"/>
<rect x="121" y="97.2" width="4.5" height="4.5" fill="#fff0ea"/>
<rect x="125" y="97.2" width="4.5" height="4.5" fill="#fff0ea"/>
<rect x="129" y="97.2" width="4.5" height="4.5" fill="#fff0ea"/>
<rect x="133" y="97.2" width="4.5" height="4.5" fill="#fff0ea"/>
<rect x="137" y="97.2" width="4.5" height="4.5" fill="#fff0ea"/>
<rect x="141" y="97.2" width="4.5" height="4.5" fill="#fff0ea"/>
<rect x="145" y="97.2" width="4.5" height="4.5" fill="#fff0ea"/>
<rect x="149" y="97.2" width="4.5" height="4.5" fill="#fff0ea"/>
<rect x="153" y="97.2" width="4.5" height="4.5" fill="#fff0ea"/>
<rect x="157" y="97.2" width="4.5" height="4.5" fill="#fff0ea"/>
<rect x="161" y="97.2" width="4.5" height="4.5" fill="#fff0ea"/>
<rect x="165" y="97.2" width="4.5" height="4.5" fill="#fff0ea"/>
<rect x="169" y="97.2" width="4.5" height="4.5" fill="#fff0ea"/>
<rect x="173" y="97.2" width="4.5" height="4.5" fill="#fff0ea"/>
<rect x="177" y="97.2" width="4.5" height="4.5" fill="#fff0ea"/>
<rect x="181" y="97.2" width="4.5" height="4.5" fill="#fff0ea"/>
<rect x="185" y="97.2" width="4.5" height="4.5" fill="#fff0ea"/>
<rect x="189" y="97.2" width="4.5" height="4.5" fill="#fff0ea"/>
<rect x="193" y="97.2" width="4.5" height="4.5" fill="#fff0ea"/>
<rect x="197" y="97.2" width="4.5" height="4.5" fill="#fff0ea"/>
<rect x="201" y="97.2" width="4.5" height="4.5" fill="#fff0ea"/>
<rect x="205" y="97.2" width="4.5" height="4.5" fill="#fff0ea"/>
<rect x="209" y="97.2" width="4.5" height="4.5" fill="#fff0ea"/>
<rect x="213" y="97.2" width="4.5" height="4.5" fill="#fff0ea"/>
<rect x="217" y="97.2" width="4.5" height="4.5" fill="#fff0ea"/>
<rect x="221" y="97.2" width="4.5" height="4.5" fill="#fff0ea"/>
<rect x="225" y="97.2" width="4.5" height="4.5" fill="#fff0ea"/>
<rect x="229" y="97.2" width="4.5" height="4.5" fill="#fff0ea"/>
<rect x="233" y="97.2" width="4.5" height="4.5" fill="#fff0ea"/>
<rect x="25" y="101.2" width="4.5" height="4.5" fill="#f37452"/>
<rect x="29" y="101.2" width="4.5" height="4.5" fill="#f37452"/>
<rect x="33" y="101.2" width="4.5" height="4.5" fill="#f37452"/>
<rect x="37" y="101.2" width="4.5" height="4.5" fill="#f37453"/>
<rect x="41" y="101.2" width="4.5" height="4.5" fill="#f37655"/>
<rect x="45" y="101.2" width="4.5" height="4.5" fill="#f37959"/>
<rect x="49" y="101.2" width="4.5" height="4.5" fill="#f47f60"/>
<rect x="53" y="101.2" width="4.5" height="4.5" fill="#f48568"/>
<rect x="57" y="101.2" width="4.5" height="4.5" fill="#f58d72"/>
<rect x="61" y="101.2" width="4.5" height="4.5" fill="#f6967d"/>
<rect x="65" y="101.2" width="4.5" height="4.5" fill="#f7a089"/>
<rect x="69" y="101.2" width="4.5" height="4.5" fill="#f8aa95"/>
<rect x="73" y="101.2" width="4.5" height="4.5" fill="#f9b5a2"/>
<rect x="77" y="101.2" width="4.5" height="4.5" fill="#fabfae"/>
<rect x="81" y="101.2" width="4.5" height="4.5" fill="#fbc9ba"/>
<rect x="85" y="101.2" width="4.5" height="4.5" fill="#fcd2c6"/>
<rect x="89" y="101.2" width="4.5" height="4.5" fill="#fddbd0"/>
<rect x="93" y="101.2" width="4.5" height="4.5" fill="#fee2da"/>
<rect x="97" y="101.2" width="4.5" height="4.5" fill="#fee9e1"/>
<rect x="101" y="101.2" width="4.5" height="4.5" fill="#ffede7"/>
<rect x="105" y="101.2" width="4.5" height="4.5" fill="#fff0ea"/>
<rect x="109" y="101.2" width="4.5" height="4.5" fill="#fff0eb"/>
<rect x="113" y="101.2" width="4.5" height="4.5" fill="#fff0eb"/>
<rect x="117" y="101.2" width="4.5" height="4.5" fill="#fff0eb"/>
<rect x="121" y="101.2" width="4.5" height="4.5" fill="#fff0eb"/>
<rect x="125" y="101.2" width="4.5" height="4.5" fill="#fff0eb"/>
<rect x="129" y="101.2" width="4.5" height="4.5" fill="#fff0eb"/>
<rect x="133" y="101.2" width="4.5" height="4.5" fill="#fff0eb"/>
<rect x="137" y="101.2" width="4.5" height="4.5" fill="#fff0eb"/>
<rect x="141" y="101.2" width="4.5" height="4.5" fill="#fff0eb"/>
<rect x="145" y="101.2" width="4.5" height="4.5" fill="#fff0eb"/>
<rect x="149" y="101.2" width="4.5" height="4.5" fill="#fff0eb"/>
<rect x="153" y="101.2" width="4.5" height="4.5" fill="#fff0eb"/>
<rect x="157" y="101.2" width="4.5" height="4.5" fill="#fff0eb"/>
<rect x="161" y="101.2" width="4.5" height="4.5" fill="#fff0eb"/>
<rect x="165" y="101.2" width="4.5" height="4.5" fill="#fff0eb"/>
<rect x="169" y="101.2" width="4.5" height="4.5" fill="#fff0eb"/>
<rect x="173" y="101.2" width="4.5" height="4.5" fill="#fff0eb"/>
<rect x="177" y="101.2" width="4.5" height="4.5" fill="#fff0eb"/>
<rect x="181" y="101.2" width="4.5" height="4.5" fill="#fff0eb"/>
<rect x="185" y="101.2" width="4.5" height="4.5" fill="#fff0eb"/>
<rect x="189" y="101.2" width="4.5" height="4.5" fill="#fff0eb"/>
<rect x="193" y="101.2" width="4.5" height="4.5" fill="#fff0eb"/>
<rect x="197" y="101.2" width="4.5" height="4.5" fill="#fff0eb"/>
<rect x="201" y="101.2" width="4.5" height="4.5" fill="#fff0eb"/>
<rect x="205" y="101.2" width="4.5" height="4.5" fill="#fff0eb"/>
<rect x="209" y="101.2" width="4.5" height="4.5" fill="#fff0eb"/>
<rect x="213" y="101.2" width="4.5" height="4.5" fill="#fff0eb"/>
<rect x="217" y="101.2" width="4.5" height="4.5" fill="#fff0eb"/>
<rect x="221" y="101.2" width="4.5" height="4.5" fill="#fff0eb"/>
<rect x="225" y="101.2" width="4.5" height="4.5" fill="#fff0eb"/>
<rect x="229" y="101.2" width="4.5" height="4.5" fill="#fff0eb"/>
<rect x="233" y="101.2" width="4.5" height="4.5" fill="#fff0eb"/>
<rect x="25" y="105.2" width="4.5" height="4.5" fill="#f47a58"/>
<rect x="29" y="105.2" width="4.5" height="4.5" fill="#f47a58"/>
<rect x="33" y="105.2" width="4.5" height="4.5" fill="#f47a58"/>
<rect x="37" y="105.2" width="4.5" height="4.5" fill="#f47a58"/>
<rect x="41" y="105.2" width="4.5" height="4.5" fill="#f47c5a"/>
<rect x="45" y="105.2" width="4.5" height="4.5" fill="#f57f5f"/>
<rect x="49" y="105.2" width="4.5" height="4.5" fill="#f58565"/>
<rect x="53" y="105.2" width="4.5" height="4.5" fill="#f68b6d"/>
<rect x="57" y="105.2" width="4.5" height="4.5" fill="#f69377"/>
<rect x="61" y="105.2" width="4.5" height="4.5" fill="#f79b81"/>
<rect x="65" y="105.2" width="4.5" height="4.5" fill="#f8a48d"/>
<rect x="69" y="105.2" width="4.5" height="4.5" fill="#f9ae99"/>
<rect x="73" y="105.2" width="4.5" height="4.5" fill="#fab8a5"/>
<rect x="77" y="105.2" width="4.5" height="4.5" fill="#fbc2b1"/>
<rect x="81" y="105.2" width="4.5" height="4.5" fill="#fccbbd"/>
<rect x="85" y="105.2" width="4.5" height="4.5" fill="#fcd4c8"/>
<rect x="89" y="105.2" width="4.5" height="4.5" fill="#fddcd2"/>
<rect x="93" y="105.2" width="4.5" height="4.5" fill="#fee3da"/>
<rect x="97" y="105.2" width="4.5" height="4.5" fill="#fee9e2"/>
<rect x="101" y="105.2" width="4.5" height="4.5" fill="#ffeee7"/>
<rect x="105" y="105.2" width="4.5" height="4.5" fill="#fff0ea"/>
<rect x="109" y="105.2" width="4.5" height="4.5" fill="#fff1eb"/>
<rect x="113" y="105.2" width="4.5" height="4.5" fill="#fff1eb"/>
<rect x="117" y="105.2" width="4.5" height="4.5" fill="#fff1eb"/>
<rect x="121" y="105.2" width="4.5" height="4.5" fill="#fff1eb"/>
<rect x="125" y="105.2" width="4.5" height="4.5" fill="#fff1eb"/>
<rect x="129" y="105.2" width="4.5" height="4.5" fill="#fff1eb"/>
<rect x="133" y="105.2" width="4.5" height="4.5" fill="#fff1eb"/>
<rect x="137" y="105.2" width="4.5" height="4.5" fill="#fff1eb"/>
<rect x="141" y="105.2" width="4.5" height="4.5" fill="#fff1eb"/>
<rect x="145" y="105.2" width="4.5" height="4.5" fill="#fff1eb"/>
<rect x="149" y="105.2" width="4.5" height="4.5" fill="#fff1eb"/>
<rect x="153" y="105.2" width="4.5" height="4.5" fill="#fff1eb"/>
<rect x="157" y="105.2" width="4.5" height="4.5" fill="#fff1eb"/>
<rect x="161" y="105.2" width="4.5" height="4.5" fill="#fff1eb"/>
<rect x="165" y="105.2" width="4.5" height="4.5" fill="#fff1eb"/>
<rect x="169" y="105.2" width="4.5" height="4.5" fill="#fff1eb"/>
<rect x="173" y="105.2" width="4.5" height="4.5" fill="#fff1eb"/>
<rect x="177" y="105.2" width="4.5" height="4.5" fill="#fff1eb"/>
<rect x="181" y="105.2" width="4.5" height="4.5" fill="#fff1eb"/>
<rect x="185" y="105.2" width="4.5" height="4.5" fill="#fff1eb"/>
<rect x="189" y="105.2" width="4.5" height="4.5" fill="#fff1eb"/>
<rect x="193" y="105.2" width="4.5" height="4.5" fill="#fff1eb"/>
<rect x="197" y="105.2" width="4.5" height="4.5" fill="#fff1eb"/>
<rect x="201" y="105.2" width="4.5" height="4.5" fill="#fff1eb"/>
<rect x="205" y="105.2" width="4.5" height="4.5" fill="#fff1eb"/>
<rect x="209" y="105.2" width="4.5" height="4.5" fill="#fff1eb"/>
<rect x="213" y="105.2" width="4.5" height="4.5" fill="#fff1eb"/>
<rect x="217" y="105.2" width="4.5" height="4.5" fill="#fff1eb"/>
<rect x="221" y="105.2" width="4.5" height="4.5" fill="#fff1eb"/>
<rect x="225" y="105.2" width="4.5" height="4.5" fill="#fff1eb"/>
<rect x="229" y="105.2" width="4.5" height="4.5" fill="#fff1eb"/>
<rect x="233" y="105.2" width="4.5" height="4.5" fill="#fff1eb"/>
<rect x="25" y="109.2" width="4.5" height="4.5" fill="#f58160"/>
<rect x="29" y="109.2" width="4.5" height="4.5" fill="#f58160"/>
<rect x="33" y="109.2" width="4.5" height="4.5" fill="#f58160"/>
<rect x="37" y="109.2" width="4.5" height="4.5" fill="#f58160"/>
<rect x="41" y="109.2" width="4.5" height="4.5" fill="#f58362"/>
<rect x="45" y="109.2" width="4.5" height="4.5" fill="#f58666"/>
<rect x="49" y="109.2" width="4.5" height="4.5" fill="#f68b6c"/>
<rect x="53" y="109.2" width="4.5" height="4.5" fill="#f69174"/>
<rect x="57" y="109.2" width="4.5" height="4.5" fill="#f7987d"/>
<rect x="61" y="109.2" width="4.5" height="4.5" fill="#f8a087"/>
<rect x="65" y="109.2" width="4.5" height="4.5" fill="#f8a992"/>
<rect x="69" y="109.2" width="4.5" height="4.5" fill="#f9b29d"/>
<rect x="73" y="109.2" width="4.5" height="4.5" fill="#fabba8"/>
<rect x="77" y="109.2" width="4.5" height="4.5" fill="#fbc5b4"/>
<rect x="81" y="109.2" width="4.5" height="4.5" fill="#fccdbf"/>
<rect x="85" y="109.2" width="4.5" height="4.5" fill="#fdd6ca"/>
<rect x="89" y="109.2" width="4.5" height="4.5" fill="#fdded3"/>
<rect x="93" y="109.2" width="4.5" height="4.5" fill="#fee4dc"/>
<rect x="97" y="109.2" width="4.5" height="4.5" fill="#feeae2"/>
<rect x="101" y="109.2" width="4.5" height="4.5" fill="#ffeee8"/>
<rect x="105" y="109.2" width="4.5" height="4.5" fill="#fff0ea"/>
<rect x="109" y="109.2" width="4.5" height="4.5" fill="#fff1eb"/>
<rect x="113" y="109.2" width="4.5" height="4.5" fill="#fff1eb"/>
<rect x="117" y="109.2" width="4.5" height="4.5" fill="#fff1eb"/>
<rect x="121" y="109.2" width="4.5" height="4.5" fill="#fff1eb"/>
<rect x="125" y="109.2" width="4.5" height="4.5" fill="#fff1eb"/>
<rect x="129" y="109.2" width="4.5" height="4.5" fill="#fff1eb"/>
<rect x="133" y="109.2" width="4.5" height="4.5" fill="#fff1eb"/>
<rect x="137" y="109.2" width="4.5" height="4.5" fill="#fff1eb"/>
<rect x="141" y="109.2" width="4.5" height="4.5" fill="#fff1eb"/>
<rect x="145" y="109.2" width="4.5" height="4.5" fill="#fff1eb"/>
<rect x="149" y="109.2" width="4.5" height="4.5" fill="#fff1eb"/>
<rect x="153" y="109.2" width="4.5" height="4.5" fill="#fff1eb"/>
<rect x="157" y="109.2" width="4.5" height="4.5" fill="#fff1eb"/>
<rect x="161" y="109.2" width="4.5" height="4.5" fill="#fff1eb"/>
<rect x="165" y="109.2" width="4.5" height="4.5" fill="#fff1eb"/>
<rect x="169" y="109.2" width="4.5" height="4.5" fill="#fff1eb"/>
<rect x="173" y="109.2" width="4.5" height="4.5" fill="#fff1eb"/>
<rect x="177" y="109.2" width="4.5" height="4.5" fill="#fff1eb"/>
<rect x="181" y="109.2" width="4.5" height="4.5" fill="#fff1eb"/>
<rect x="185" y="109.2" width="4.5" height="4.5" fill="#fff1eb"/>
<rect x="189" y="109.2" width="4.5" height="4.5" fill="#fff1eb"/>
<rect x="193" y="109.2" width="4.5" height="4.5" fill="#fff1eb"/>
<rect x="197" y="109.2" width="4.5" height="4.5" fill="#fff1eb"/>
<rect x="201" y="109.2" width="4.5" height="4.5" fill="#fff1eb"/>
<rect x="205" y="109.2" width="4.5" height="4.5" fill="#fff1eb"/>
<rect x="209" y="109.2" width="4.5" height="4.5" fill="#fff1eb"/>
<rect x="213" y="109.2" width="4.5" height="4.5" fill="#fff1eb"/>
<rect x="217" y="109.2" width="4.5" height="4.5" fill="#fff1eb"/>
<rect x="221" y="109.2" width="4.5" height="4.5" fill="#fff1eb"/>
<rect x="225" y="109.2" width="4.5" height="4.5" fill="#fff1eb"/>
<rect x="229" y="109.2" width="4.5" height="4.5" fill="#fff1eb"/>
<rect x="233" y="109.2" width="4.5" height="4.5" fill="#fff1eb"/>
<rect x="25" y="113.2" width="4.5" height="4.5" fill="#f58867"/>
<rect x="29" y="113.2" width="4.5" height="4.5" fill="#f58867"/>
<rect x="33" y="113.2" width="4.5" height="4.5" fill="#f58867"/>
<rect x="37" y="113.2" width="4.5" height="4.5" fill="#f58868"/>
<rect x="41" y="113.2" width="4.5" height="4.5" fill="#f58969"/>
<rect x="45" y="113.2" width="4.5" height="4.5" fill="#f68c6d"/>
<rect x="49" y="113.2" width="4.5" height="4.5" fill="#f69173"/>
<rect x="53" y="113.2" width="4.5" height="4.5" fill="#f7977a"/>
<rect x="57" y="113.2" width="4.5" height="4.5" fill="#f79d83"/>
<rect x="61" y="113.2" width="4.5" height="4.5" fill="#f8a58c"/>
<rect x="65" y="113.2" width="4.5" height="4.5" fill="#f9ad96"/>
<rect x="69" y="113.2" width="4.5" height="4.5" fill="#fab6a1"/>
<rect x="73" y="113.2" width="4.5" height="4.5" fill="#fabfac"/>
<rect x="77" y="113.2" width="4.5" height="4.5" fill="#fbc7b7"/>
<rect x="81" y="113.2" width="4.5" height="4.5" fill="#fcd0c2"/>
<rect x="85" y="113.2" width="4.5" height="4.5" fill="#fdd8cc"/>
<rect x="89" y="113.2" width="4.5" height="4.5" fill="#fddfd5"/>
<rect x="93" y="113.2" width="4.5" height="4.5" fill="#fee5dd"/>
<rect x="97" y="113.2" width="4.5" height="4.5" fill="#feeae3"/>
<rect x="101" y="113.2" width="4.5" height="4.5" fill="#ffeee8"/>
<rect x="105" y="113.2" width="4.5" height="4.5" fill="#fff1eb"/>
<rect x="109" y="113.2" width="4.5" height="4.5" fill="#fff1eb"/>
<rect x="113" y="113.2" width="4.5" height="4.5" fill="#fff1eb"/>
<rect x="117" y="113.2" width="4.5" height="4.5" fill="#fff1eb"/>
<rect x="121" y="113.2" width="4.5" height="4.5" fill="#fff1eb"/>
<rect x="125" y="113.2" width="4.5" height="4.5" fill="#fff1eb"/>
<rect x="129" y="113.2" width="4.5" height="4.5" fill="#fff1eb"/>
<rect x="133" y="113.2" width="4.5" height="4.5" fill="#fff1eb"/>
<rect x="137" y="113.2" width="4.5" height="4.5" fill="#fff1eb"/>
<rect x="141" y="113.2" width="4.5" height="4.5" fill="#fff1eb"/>
<rect x="145" y="113.2" width="4.5" height="4.5" fill="#fff1eb"/>
<rect x="149" y="113.2" width="4.5" height="4.5" fill="#fff1eb"/>
<rect x="153" y="113.2" width="4.5" height="4.5" fill="#fff1eb"/>
<rect x="157" y="113.2" width="4.5" height="4.5" fill="#fff1eb"/>
<rect x="161" y="113.2" width="4.5" height="4.5" fill="#fff1eb"/>
<rect x="165" y="113.2" width="4.5" height="4.5" fill="#fff1eb"/>
<rect x="169" y="113.2" width="4.5" height="4.5" fill="#fff1eb"/>
<rect x="173" y="113.2" width="4.5" height="4.5" fill="#fff1eb"/>
<rect x="177" y="113.2" width="4.5" height="4.5" fill="#fff1eb"/>
<rect x="181" y="113.2" width="4.5" height="4.5" fill="#fff1eb"/>
<rect x="185" y="113.2" width="4.5" height="4.5" fill="#fff1eb"/>
<rect x="189" y="113.2" width="4.5" height="4.5" fill="#fff1eb"/>
<rect x="193" y="113.2" width="4.5" height="4.5" fill="#fff1eb"/>
<rect x="197" y="113.2" width="4.5" height="4.5" fill="#fff1eb"/>
<rect x="201" y="113.2" width="4.5" height="4.5" fill="#fff1eb"/>
<rect x="205" y="113.2" width="4.5" height="4.5" fill="#fff1eb"/>
<rect x="209" y="113.2" width="4.5" height="4.5" fill="#fff1eb"/>
<rect x="213" y="113.2" width="4.5" height="4.5" fill="#fff1eb"/>
<rect x="217" y="113.2" width="4.5" height="4.5" fill="#fff1eb"/>
<rect x="221" y="113.2" width="4.5" height="4.5" fill="#fff1eb"/>
<rect x="225" y="113.2" width="4.5" height="4.5" fill="#fff1eb"/>
<rect x="229" y="113.2" width="4.5" height="4.5" fill="#fff1eb"/>
<rect x="233" y="113.2" width="4.5" height="4.5" fill="#fff1eb"/>
<rect x="25" y="117.2" width="4.5" height="4.5" fill="#f68e6f"/>
<rect x="29" y="117.2" width="4.5" height="4.5" fill="#f68e6f"/>
<rect x="33" y="117.2" width="4.5" height="4.5" fill="#f68e6f"/>
<rect x="37" y="117.2" width="4.5" height="4.5" fill="#f68e6f"/>
<rect x="41" y="117.2" width="4.5" height="4.5" fill="#f69071"/>
<rect x="45" y="117.2" width="4.5" height="4.5" fill="#f69374"/>
<rect x="49" y="117.2" width="4.5" height="4.5" fill="#f7977a"/>
<rect x="53" y="117.2" width="4.5" height="4.5" fill="#f79c81"/>
<rect x="57" y="117.2" width="4.5" height="4.5" fill="#f8a389"/>
<rect x="61" y="117.2" width="4.5" height="4.5" fill="#f9aa92"/>
<rect x="65" y="117.2" width="4.5" height="4.5" fill="#f9b29b"/>
<rect x="69" y="117.2" width="4.5" height="4.5" fill="#fabaa6"/>
<rect x="73" y="117.2" width="4.5" height="4.5" fill="#fbc2b0"/>
<rect x="77" y="117.2" width="4.5" height="4.5" fill="#fbcaba"/>
<rect x="81" y="117.2" width="4.5" height="4.5" fill="#fcd2c4"/>
<rect x="85" y="117.2" width="4.5" height="4.5" fill="#fdd9ce"/>
<rect x="89" y="117.2" width="4.5" height="4.5" fill="#fde0d6"/>
<rect x="93" y="117.2" width="4.5" height="4.5" fill="#fee6de"/>
<rect x="97" y="117.2" width="4.5" height="4.5" fill="#feebe4"/>
<rect x="101" y="117.2" width="4.5" height="4.5" fill="#ffefe8"/>
<rect x="105" y="117.2" width="4.5" height="4.5" fill="#fff1eb"/>
<rect x="109" y="117.2" width="4.5" height="4.5" fill="#fff1ec"/>
<rect x="113" y="117.2" width="4.5" height="4.5" fill="#fff1ec"/>
<rect x="117" y="117.2" width="4.5" height="4.5" fill="#fff1ec"/>
<rect x="121" y="117.2" width="4.5" height="4.5" fill="#fff1ec"/>
<rect x="125" y="117.2" width="4.5" height="4.5" fill="#fff1ec"/>
<rect x="129" y="117.2" width="4.5" height="4.5" fill="#fff1ec"/>
<rect x="133" y="117.2" width="4.5" height="4.5" fill="#fff1ec"/>
<rect x="137" y="117.2" width="4.5" height="4.5" fill="#fff1ec"/>
<rect x="141" y="117.2" width="4.5" height="4.5" fill="#fff1ec"/>
<rect x="145" y="117.2" width="4.5" height="4.5" fill="#fff1ec"/>
<rect x="149" y="117.2" width="4.5" height="4.5" fill="#fff1ec"/>
<rect x="153" y="117.2" width="4.5" height="4.5" fill="#fff1ec"/>
<rect x="157" y="117.2" width="4.5" height="4.5" fill="#fff1ec"/>
<rect x="161" y="117.2" width="4.5" height="4.5" fill="#fff1ec"/>
<rect x="165" y="117.2" width="4.5" height="4.5" fill="#fff1ec"/>
<rect x="169" y="117.2" width="4.5" height="4.5" fill="#fff1ec"/>
<rect x="173" y="117.2" width="4.5" height="4.5" fill="#fff1ec"/>
<rect x="177" y="117.2" width="4.5" height="4.5" fill="#fff1ec"/>
<rect x="181" y="117.2" width="4.5" height="4.5" fill="#fff1ec"/>
<rect x="185" y="117.2" width="4.5" height="4.5" fill="#fff1ec"/>
<rect x="189" y="117.2" width="4.5" height="4.5" fill="#fff1ec"/>
<rect x="193" y="117.2" width="4.5" height="4.5" fill="#fff1ec"/>
<rect x="197" y="117.2" width="4.5" height="4.5" fill="#fff1ec"/>
<rect x="201" y="117.2" width="4.5" height="4.5" fill="#fff1ec"/>
<rect x="205" y="117.2" width="4.5" height="4.5" fill="#fff1ec"/>
<rect x="209" y="117.2" width="4.5" height="4.5" fill="#fff1ec"/>
<rect x="213" y="117.2" width="4.5" height="4.5" fill="#fff1ec"/>
<rect x="217" y="117.2" width="4.5" height="4.5" fill="#fff1ec"/>
<rect x="221" y="117.2" width="4.5" height="4.5" fill="#fff1ec"/>
<rect x="225" y="117.2" width="4.5" height="4.5" fill="#fff1ec"/>
<rect x="229" y="117.2" width="4.5" height="4.5" fill="#fff1ec"/>
<rect x="233" y="117.2" width="4.5" height="4.5" fill="#fff1ec"/>
<rect x="25" y="121.2" width="4.5" height="4.5" fill="#f79577"/>
<rect x="29" y="121.2" width="4.5" height="4.5" fill="#f79577"/>
<rect x="33" y="121.2" width="4.5" height="4.5" fill="#f79577"/>
<rect x="37" y="121.2" width="4.5" height="4.5" fill="#f79577"/>
<rect x="41" y="121.2" width="4.5" height="4.5" fill="#f79678"/>
<rect x="45" y="121.2" width="4.5" height="4.5" fill="#f7997c"/>
<rect x="49" y="121.2" width="4.5" height="4.5" fill="#f79d81"/>
<rect x="53" y="121.2" width="4.5" height="4.5" fill="#f8a287"/>
<rect x="57" y="121.2" width="4.5" height="4.5" fill="#f8a88f"/>
<rect x="61" y="121.2" width="4.5" height="4.5" fill="#f9af97"/>
<rect x="65" y="121.2" width="4.5" height="4.5" fill="#fab6a0"/>
<rect x="69" y="121.2" width="4.5" height="4.5" fill="#fabdaa"/>
<rect x="73" y="121.2" width="4.5" height="4.5" fill="#fbc5b4"/>
<rect x="77" y="121.2" width="4.5" height="4.5" fill="#fccdbd"/>
<rect x="81" y="121.2" width="4.5" height="4.5" fill="#fcd4c7"/>
<rect x="85" y="121.2" width="4.5" height="4.5" fill="#fddbd0"/>
<rect x="89" y="121.2" width="4.5" height="4.5" fill="#fee2d8"/>
<rect x="93" y="121.2" width="4.5" height="4.5" fill="#fee7df"/>
<rect x="97" y="121.2" width="4.5" height="4.5" fill="#feece5"/>
<rect x="101" y="121.2" width="4.5" height="4.5" fill="#ffefe9"/>
<rect x="105" y="121.2" width="4.5" height="4.5" fill="#fff1eb"/>
<rect x="109" y="121.2" width="4.5" height="4.5" fill="#fff1ec"/>
<rect x="113" y="121.2" width="4.5" height="4.5" fill="#fff1ec"/>
<rect x="117" y="121.2" width="4.5" height="4.5" fill="#fff1ec"/>
<rect x="121" y="121.2" width="4.5" height="4.5" fill="#fff1ec"/>
<rect x="125" y="121.2" width="4.5" height="4.5" fill="#fff1ec"/>
<rect x="129" y="121.2" width="4.5" height="4.5" fill="#fff1ec"/>
<rect x="133" y="121.2" width="4.5" height="4.5" fill="#fff1ec"/>
<rect x="137" y="121.2" width="4.5" height="4.5" fill="#fff1ec"/>
<rect x="141" y="121.2" width="4.5" height="4.5" fill="#fff1ec"/>
<rect x="145" y="121.2" width="4.5" height="4.5" fill="#fff1ec"/>
<rect x="149" y="121.2" width="4.5" height="4.5" fill="#fff1ec"/>
<rect x="153" y="121.2" width="4.5" height="4.5" fill="#fff1ec"/>
<rect x="157" y="121.2" width="4.5" height="4.5" fill="#fff1ec"/>
<rect x="161" y="121.2" width="4.5" height="4.5" fill="#fff1ec"/>
<rect x="165" y="121.2" width="4.5" height="4.5" fill="#fff1ec"/>
<rect x="169" y="121.2" width="4.5" height="4.5" fill="#fff1ec"/>
<rect x="173" y="121.2" width="4.5" height="4.5" fill="#fff1ec"/>
<rect x="177" y="121.2" width="4.5" height="4.5" fill="#fff1ec"/>
<rect x="181" y="121.2" width="4.5" height="4.5" fill="#fff1ec"/>
<rect x="185" y="121.2" width="4.5" height="4.5" fill="#fff1ec"/>
<rect x="189" y="121.2" width="4.5" height="4.5" fill="#fff1ec"/>
<rect x="193" y="121.2" width="4.5" height="4.5" fill="#fff1ec"/>
<rect x="197" y="121.2" width="4.5" height="4.5" fill="#fff1ec"/>
<rect x="201" y="121.2" width="4.5" height="4.5" fill="#fff1ec"/>
<rect x="205" y="121.2" width="4.5" height="4.5" fill="#fff1ec"/>
<rect x="209" y="121.2" width="4.5" height="4.5" fill="#fff1ec"/>
<rect x="213" y="121.2" width="4.5" height="4.5" fill="#fff1ec"/>
<rect x="217" y="121.2" width="4.5" height="4.5" fill="#fff1ec"/>
<rect x="221" y="121.2" width="4.5" height="4.5" fill="#fff1ec"/>
<rect x="225" y="121.2" width="4.5" height="4.5" fill="#fff1ec"/>
<rect x="229" y="121.2" width="4.5" height="4.5" fill="#fff1ec"/>
<rect x="233" y="121.2" width="4.5" height="4.5" fill="#fff1ec"/>
<rect x="25" y="125.2" width="4.5" height="4.5" fill="#f79a7d"/>
<rect x="29" y="125.2" width="4.5" height="4.5" fill="#f79a7d"/>
<rect x="33" y="125.2" width="4.5" height="4.5" fill="#f79a7d"/>
<rect x="37" y="125.2" width="4.5" height="4.5" fill="#f79a7d"/>
<rect x="41" y="125.2" width="4.5" height="4.5" fill="#f79c7e"/>
<rect x="45" y="125.2" width="4.5" height="4.5" fill="#f89e81"/>
<rect x="49" y="125.2" width="4.5" height="4.5" fill="#f8a286"/>
<rect x="53" y="125.2" width="4.5" height="4.5" fill="#f8a78c"/>
<rect x="57" y="125.2" width="4.5" height="4.5" fill="#f9ac94"/>
<rect x="61" y="125.2" width="4.5" height="4.5" fill="#f9b39c"/>
<rect x="65" y="125.2" width="4.5" height="4.5" fill="#fab9a4"/>
<rect x="69" y="125.2" width="4.5" height="4.5" fill="#fbc1ae"/>
<rect x="73" y="125.2" width="4.5" height="4.5" fill="#fbc8b7"/>
<rect x="77" y="125.2" width="4.5" height="4.5" fill="#fccfc0"/>
<rect x="81" y="125.2" width="4.5" height="4.5" fill="#fdd6c9"/>
<rect x="85" y="125.2" width="4.5" height="4.5" fill="#fdddd1"/>
<rect x="89" y="125.2" width="4.5" height="4.5" fill="#fee3d9"/>
<rect x="93" y="125.2" width="4.5" height="4.5" fill="#fee8e0"/>
<rect x="97" y="125.2" width="4.5" height="4.5" fill="#ffece5"/>
<rect x="101" y="125.2" width="4.5" height="4.5" fill="#ffefe9"/>
<rect x="105" y="125.2" width="4.5" height="4.5" fill="#fff1ec"/>
<rect x="109" y="125.2" width="4.5" height="4.5" fill="#fff2ec"/>
<rect x="113" y="125.2" width="4.5" height="4.5" fill="#fff2ec"/>
<rect x="117" y="125.2" width="4.5" height="4.5" fill="#fff2ec"/>
<rect x="121" y="125.2" width="4.5" height="4.5" fill="#fff2ec"/>
<rect x="125" y="125.2" width="4.5" height="4.5" fill="#fff2ec"/>
<rect x="129" y="125.2" width="4.5" height="4.5" fill="#fff2ec"/>
<rect x="133" y="125.2" width="4.5" height="4.5" fill="#fff2ec"/>
<rect x="137" y="125.2" width="4.5" height="4.5" fill="#fff2ec"/>
<rect x="141" y="125.2" width="4.5" height="4.5" fill="#fff2ec"/>
<rect x="145" y="125.2" width="4.5" height="4.5" fill="#fff2ec"/>
<rect x="149" y="125.2" width="4.5" height="4.5" fill="#fff2ec"/>
<rect x="153" y="125.2" width="4.5" height="4.5" fill="#fff2ec"/>
<rect x="157" y="125.2" width="4.5" height="4.5" fill="#fff2ec"/>
<rect x="161" y="125.2" width="4.5" height="4.5" fill="#fff2ec"/>
<rect x="165" y="125.2" width="4.5" height="4.5" fill="#fff2ec"/>
<rect x="169" y="125.2" width="4.5" height="4.5" fill="#fff2ec"/>
<rect x="173" y="125.2" width="4.5" height="4.5" fill="#fff2ec"/>
<rect x="177" y="125.2" width="4.5" height="4.5" fill="#fff2ec"/>
<rect x="181" y="125.2" width="4.5" height="4.5" fill="#fff2ec"/>
<rect x="185" y="125.2" width="4.5" height="4.5" fill="#fff2ec"/>
<rect x="189" y="125.2" width="4.5" height="4.5" fill="#fff2ec"/>
<rect x="193" y="125.2" width="4.5" height="4.5" fill="#fff2ec"/>
<rect x="197" y="125.2" width="4.5" height="4.5" fill="#fff2ec"/>
<rect x="201" y="125.2" width="4.5" height="4.5" fill="#fff2ec"/>
<rect x="205" y="125.2" width="4.5" height="4.5" fill="#fff2ec"/>
<rect x="209" y="125.2" width="4.5" height="4.5" fill="#fff2ec"/>
<rect x="213" y="125.2" width="4.5" height="4.5" fill="#fff2ec"/>
<rect x="217" y="125.2" width="4.5" height="4.5" fill="#fff2ec"/>
<rect x="221" y="125.2" width="4.5" height="4.5" fill="#fff2ec"/>
<rect x="225" y="125.2" width="4.5" height="4.5" fill="#fff2ec"/>
<rect x="229" y="125.2" width="4.5" height="4.5" fill="#fff2ec"/>
<rect x="233" y="125.2" width="4.5" height="4.5" fill="#fff2ec"/>
<rect x="25" y="129.2" width="4.5" height="4.5" fill="#f89f81"/>
<rect x="29" y="129.2" width="4.5" height="4.5" fill="#f89f81"/>
<rect x="33" y="129.2" width="4.5" height="4.5" fill="#f89f81"/>
<rect x="37" y="129.2" width="4.5" height="4.5" fill="#f89f82"/>
<rect x="41" y="129.2" width="4.5" height="4.5" fill="#f8a083"/>
<rect x="45" y="129.2" width="4.5" height="4.5" fill="#f8a286"/>
<rect x="49" y="129.2" width="4.5" height="4.5" fill="#f8a68b"/>
<rect x="53" y="129.2" width="4.5" height="4.5" fill="#f9ab91"/>
<rect x="57" y="129.2" width="4.5" height="4.5" fill="#f9b097"/>
<rect x="61" y="129.2" width="4.5" height="4.5" fill="#fab69f"/>
<rect x="65" y="129.2" width="4.5" height="4.5" fill="#fabca8"/>
<rect x="69" y="129.2" width="4.5" height="4.5" fill="#fbc3b0"/>
<rect x="73" y="129.2" width="4.5" height="4.5" fill="#fbcab9"/>
<rect x="77" y="129.2" width="4.5" height="4.5" fill="#fcd1c2"/>
<rect x="81" y="129.2" width="4.5" height="4.5" fill="#fdd8cb"/>
<rect x="85" y="129.2" width="4.5" height="4.5" fill="#fdded3"/>
<rect x="89" y="129.2" width="4.5" height="4.5" fill="#fee4da"/>
<rect x="93" y="129.2" width="4.5" height="4.5" fill="#fee9e1"/>
<rect x="97" y="129.2" width="4.5" height="4.5" fill="#ffede6"/>
<rect x="101" y="129.2" width="4.5" height="4.5" fill="#fff0ea"/>
<rect x="105" y="129.2" width="4.5" height="4.5" fill="#fff1ec"/>
<rect x="109" y="129.2" width="4.5" height="4.5" fill="#fff2ed"/>
<rect x="113" y="129.2" width="4.5" height="4.5" fill="#fff2ed"/>
<rect x="117" y="129.2" width="4.5" height="4.5" fill="#fff2ed"/>
<rect x="121" y="129.2" width="4.5" height="4.5" fill="#fff2ed"/>
<rect x="125" y="129.2" width="4.5" height="4.5" fill="#fff2ed"/>
<rect x="129" y="129.2" width="4.5" height="4.5" fill="#fff2ed"/>
<rect x="133" y="129.2" width="4.5" height="4.5" fill="#fff2ed"/>
<rect x="137" y="129.2" width="4.5" height="4.5" fill="#fff2ed"/>
<rect x="141" y="129.2" width="4.5" height="4.5" fill="#fff2ed"/>
<rect x="145" y="129.2" width="4.5" height="4.5" fill="#fff2ed"/>
<rect x="149" y="129.2" width="4.5" height="4.5" fill="#fff2ed"/>
<rect x="153" y="129.2" width="4.5" height="4.5" fill="#fff2ed"/>
<rect x="157" y="129.2" width="4.5" height="4.5" fill="#fff2ed"/>
<rect x="161" y="129.2" width="4.5" height="4.5" fill="#fff2ed"/>
<rect x="165" y="129.2" width="4.5" height="4.5" fill="#fff2ed"/>
<rect x="169" y="129.2" width="4.5" height="4.5" fill="#fff2ed"/>
<rect x="173" y="129.2" width="4.5" height="4.5" fill="#fff2ed"/>
<rect x="177" y="129.2" width="4.5" height="4.5" fill="#fff2ed"/>
<rect x="181" y="129.2" width="4.5" height="4.5" fill="#fff2ed"/>
<rect x="185" y="129.2" width="4.5" height="4.5" fill="#fff2ed"/>
<rect x="189" y="129.2" width="4.5" height="4.5" fill="#fff2ed"/>
<rect x="193" y="129.2" width="4.5" height="4.5" fill="#fff2ed"/>
<rect x="197" y="129.2" width="4.5" height="4.5" fill="#fff2ed"/>
<rect x="201" y="129.2" width="4.5" height="4.5" fill="#fff2ed"/>
<rect x="205" y="129.2" width="4.5" height="4.5" fill="#fff2ed"/>
<rect x="209" y="129.2" width="4.5" height="4.5" fill="#fff2ed"/>
<rect x="213" y="129.2" width="4.5" height="4.5" fill="#fff2ed"/>
<rect x="217" y="129.2" width="4.5" height="4.5" fill="#fff2ed"/>
<rect x="221" y="129.2" width="4.5" height="4.5" fill="#fff2ed"/>
<rect x="225" y="129.2" width="4.5" height="4.5" fill="#fff2ed"/>
<rect x="229" y="129.2" width="4.5" height="4.5" fill="#fff2ed"/>
<rect x="233" y="129.2" width="4.5" height="4.5" fill="#fff2ed"/>
<rect x="25" y="133.2" width="4.5" height="4.5" fill="#f8a386"/>
<rect x="29" y="133.2" width="4.5" height="4.5" fill="#f8a386"/>
<rect x="33" y="133.2" width="4.5" height="4.5" fill="#f8a386"/>
<rect x="37" y="133.2" width="4.5" height="4.5" fill="#f8a386"/>
<rect x="41" y="133.2" width="4.5" height="4.5" fill="#f8a488"/>
<rect x="45" y="133.2" width="4.5" height="4.5" fill="#f8a78b"/>
<rect x="49" y="133.2" width="4.5" height="4.5" fill="#f9aa8f"/>
<rect x="53" y="133.2" width="4.5" height="4.5" fill="#f9ae95"/>
<rect x="57" y="133.2" width="4.5" height="4.5" fill="#f9b39b"/>
<rect x="61" y="133.2" width="4.5" height="4.5" fill="#fab9a3"/>
<rect x="65" y="133.2" width="4.5" height="4.5" fill="#fbbfab"/>
<rect x="69" y="133.2" width="4.5" height="4.5" fill="#fbc6b3"/>
<rect x="73" y="133.2" width="4.5" height="4.5" fill="#fcccbc"/>
<rect x="77" y="133.2" width="4.5" height="4.5" fill="#fcd3c4"/>
<rect x="81" y="133.2" width="4.5" height="4.5" fill="#fdd9cc"/>
<rect x="85" y="133.2" width="4.5" height="4.5" fill="#fddfd4"/>
<rect x="89" y="133.2" width="4.5" height="4.5" fill="#fee5db"/>
<rect x="93" y="133.2" width="4.5" height="4.5" fill="#fee9e1"/>
<rect x="97" y="133.2" width="4.5" height="4.5" fill="#ffede7"/>
<rect x="101" y="133.2" width="4.5" height="4.5" fill="#fff0ea"/>
<rect x="105" y="133.2" width="4.5" height="4.5" fill="#fff2ec"/>
<rect x="109" y="133.2" width="4.5" height="4.5" fill="#fff2ed"/>
<rect x="113" y="133.2" width="4.5" height="4.5" fill="#fff2ed"/>
<rect x="117" y="133.2" width="4.5" height="4.5" fill="#fff2ed"/>
<rect x="121" y="133.2" width="4.5" height="4.5" fill="#fff2ed"/>
<rect x="125" y="133.2" width="4.5" height="4.5" fill="#fff2ed"/>
<rect x="129" y="133.2" width="4.5" height="4.5" fill="#fff2ed"/>
<rect x="133" y="133.2" width="4.5" height="4.5" fill="#fff2ed"/>
<rect x="137" y="133.2" width="4.5" height="4.5" fill="#fff2ed"/>
<rect x="141" y="133.2" width="4.5" height="4.5" fill="#fff2ed"/>
<rect x="145" y="133.2" width="4.5" height="4.5" fill="#fff2ed"/>
<rect x="149" y="133.2" width="4.5" height="4.5" fill="#fff2ed"/>
<rect x="153" y="133.2" width="4.5" height="4.5" fill="#fff2ed"/>
<rect x="157" y="133.2" width="4.5" height="4.5" fill="#fff2ed"/>
<rect x="161" y="133.2" width="4.5" height="4.5" fill="#fff2ed"/>
<rect x="165" y="133.2" width="4.5" height="4.5" fill="#fff2ed"/>
<rect x="169" y="133.2" width="4.5" height="4.5" fill="#fff2ed"/>
<rect x="173" y="133.2" width="4.5" height="4.5" fill="#fff2ed"/>
<rect x="177" y="133.2" width="4.5" height="4.5" fill="#fff2ed"/>
<rect x="181" y="133.2" width="4.5" height="4.5" fill="#fff2ed"/>
<rect x="185" y="133.2" width="4.5" height="4.5" fill="#fff2ed"/>
<rect x="189" y="133.2" width="4.5" height="4.5" fill="#fff2ed"/>
<rect x="193" y="133.2" width="4.5" height="4.5" fill="#fff2ed"/>
<rect x="197" y="133.2" width="4.5" height="4.5" fill="#fff2ed"/>
<rect x="201" y="133.2" width="4.5" height="4.5" fill="#fff2ed"/>
<rect x="205" y="133.2" width="4.5" height="4.5" fill="#fff2ed"/>
<rect x="209" y="133.2" width="4.5" height="4.5" fill="#fff2ed"/>
<rect x="213" y="133.2" width="4.5" height="4.5" fill="#fff2ed"/>
<rect x="217" y="133.2" width="4.5" height="4.5" fill="#fff2ed"/>
<rect x="221" y="133.2" width="4.5" height="4.5" fill="#fff2ed"/>
<rect x="225" y="133.2" width="4.5" height="4.5" fill="#fff2ed"/>
<rect x="229" y="133.2" width="4.5" height="4.5" fill="#fff2ed"/>
<rect x="233" y="133.2" width="4.5" height="4.5" fill="#fff2ed"/>
<rect x="25" y="137.2" width="4.5" height="4.5" fill="#f8a88b"/>
<rect x="29" y="137.2" width="4.5" height="4.5" fill="#f8a88b"/>
<rect x="33" y="137.2" width="4.5" height="4.5" fill="#f8a88b"/>
<rect x="37" y="137.2" width="4.5" height="4.5" fill="#f8a88b"/>
<rect x="41" y="137.2" width="4.5" height="4.5" fill="#f9a98c"/>
<rect x="45" y="137.2" width="4.5" height="4.5" fill="#f9ab8f"/>
<rect x="49" y="137.2" width="4.5" height="4.5" fill="#f9ae93"/>
<rect x="53" y="137.2" width="4.5" height="4.5" fill="#f9b299"/>
<rect x="57" y="137.2" width="4.5" height="4.5" fill="#fab79f"/>
<rect x="61" y="137.2" width="4.5" height="4.5" fill="#fabca6"/>
<rect x="65" y="137.2" width="4.5" height="4.5" fill="#fbc2ae"/>
<rect x="69" y="137.2" width="4.5" height="4.5" fill="#fbc8b6"/>
<rect x="73" y="137.2" width="4.5" height="4.5" fill="#fccfbe"/>
<rect x="77" y="137.2" width="4.5" height="4.5" fill="#fcd5c6"/>
<rect x="81" y="137.2" width="4.5" height="4.5" fill="#fddbce"/>
<rect x="85" y="137.2" width="4.5" height="4.5" fill="#fde0d6"/>
<rect x="89" y="137.2" width="4.5" height="4.5" fill="#fee5dc"/>
<rect x="93" y="137.2" width="4.5" height="4.5" fill="#feeae2"/>
<rect x="97" y="137.2" width="4.5" height="4.5" fill="#ffeee7"/>
<rect x="101" y="137.2" width="4.5" height="4.5" fill="#fff0eb"/>
<rect x="105" y="137.2" width="4.5" height="4.5" fill="#fff2ed"/>
<rect x="109" y="137.2" width="4.5" height="4.5" fill="#fff2ed"/>
<rect x="113" y="137.2" width="4.5" height="4.5" fill="#fff2ed"/>
<rect x="117" y="137.2" width="4.5" height="4.5" fill="#fff2ed"/>
<rect x="121" y="137.2" width="4.5" height="4.5" fill="#fff2ed"/>
<rect x="125" y="137.2" width="4.5" height="4.5" fill="#fff2ed"/>
<rect x="129" y="137.2" width="4.5" height="4.5" fill="#fff2ed"/>
<rect x="133" y="137.2" width="4.5" height="4.5" fill="#fff2ed"/>
<rect x="137" y="137.2" width="4.5" height="4.5" fill="#fff2ed"/>
<rect x="141" y="137.2" width="4.5" height="4.5" fill="#fff2ed"/>
<rect x="145" y="137.2" width="4.5" height="4.5" fill="#fff2ed"/>
<rect x="149" y="137.2" width="4.5" height="4.5" fill="#fff2ed"/>
<rect x="153" y="137.2" width="4.5" height="4.5" fill="#fff2ed"/>
<rect x="157" y="137.2" width="4.5" height="4.5" fill="#fff2ed"/>
<rect x="161" y="137.2" width="4.5" height="4.5" fill="#fff2ed"/>
<rect x="165" y="137.2" width="4.5" height="4.5" fill="#fff2ed"/>
<rect x="169" y="137.2" width="4.5" height="4.5" fill="#fff2ed"/>
<rect x="173" y="137.2" width="4.5" height="4.5" fill="#fff2ed"/>
<rect x="177" y="137.2" width="4.5" height="4.5" fill="#fff2ed"/>
<rect x="181" y="137.2" width="4.5" height="4.5" fill="#fff2ed"/>
<rect x="185" y="137.2" width="4.5" height="4.5" fill="#fff2ed"/>
<rect x="189" y="137.2" width="4.5" height="4.5" fill="#fff2ed"/>
<rect x="193" y="137.2" width="4.5" height="4.5" fill="#fff2ed"/>
<rect x="197" y="137.2" width="4.5" height="4.5" fill="#fff2ed"/>
<rect x="201" y="137.2" width="4.5" height="4.5" fill="#fff2ed"/>
<rect x="205" y="137.2" width="4.5" height="4.5" fill="#fff2ed"/>
<rect x="209" y="137.2" width="4.5" height="4.5" fill="#fff2ed"/>
<rect x="213" y="137.2" width="4.5" height="4.5" fill="#fff2ed"/>
<rect x="217" y="137.2" width="4.5" height="4.5" fill="#fff2ed"/>
<rect x="221" y="137.2" width="4.5" height="4.5" fill="#fff2ed"/>
<rect x="225" y="137.2" width="4.5" height="4.5" fill="#fff2ed"/>
<rect x="229" y="137.2" width="4.5" height="4.5" fill="#fff2ed"/>
<rect x="233" y="137.2" width="4.5" height="4.5" fill="#fff2ed"/>
<rect x="25" y="141.2" width="4.5" height="4.5" fill="#f9ac90"/>
<rect x="29" y="141.2" width="4.5" height="4.5" fill="#f9ac90"/>
<rect x="33" y="141.2" width="4.5" height="4.5" fill="#f9ac90"/>
<rect x="37" y="141.2" width="4.5" height="4.5" fill="#f9ac90"/>
<rect x="41" y="141.2" width="4.5" height="4.5" fill="#f9ad91"/>
<rect x="45" y="141.2" width="4.5" height="4.5" fill="#f9af94"/>
<rect x="49" y="141.2" width="4.5" height="4.5" fill="#f9b298"/>
<rect x="53" y="141.2" width="4.5" height="4.5" fill="#fab69d"/>
<rect x="57" y="141.2" width="4.5" height="4.5" fill="#fabba3"/>
<rect x="61" y="141.2" width="4.5" height="4.5" fill="#fbc0aa"/>
<rect x="65" y="141.2" width="4.5" height="4.5" fill="#fbc5b1"/>
<rect x="69" y="141.2" width="4.5" height="4.5" fill="#fccbb9"/>
<rect x="73" y="141.2" width="4.5" height="4.5" fill="#fcd1c1"/>
<rect x="77" y="141.2" width="4.5" height="4.5" fill="#fdd7c8"/>
<rect x="81" y="141.2" width="4.5" height="4.5" fill="#fddcd0"/>
<rect x="85" y="141.2" width="4.5" height="4.5" fill="#fee2d7"/>
<rect x="89" y="141.2" width="4.5" height="4.5" fill="#fee6dd"/>
<rect x="93" y="141.2" width="4.5" height="4.5" fill="#feebe3"/>
<rect x="97" y="141.2" width="4.5" height="4.5" fill="#ffeee8"/>
<rect x="101" y="141.2" width="4.5" height="4.5" fill="#fff1eb"/>
<rect x="105" y="141.2" width="4.5" height="4.5" fill="#fff2ed"/>
<rect x="109" y="141.2" width="4.5" height="4.5" fill="#fff3ee"/>
<rect x="113" y="141.2" width="4.5" height="4.5" fill="#fff3ee"/>
<rect x="117" y="141.2" width="4.5" height="4.5" fill="#fff3ee"/>
<rect x="121" y="141.2" width="4.5" height="4.5" fill="#fff3ee"/>
<rect x="125" y="141.2" width="4.5" height="4.5" fill="#fff3ee"/>
<rect x="129" y="141.2" width="4.5" height="4.5" fill="#fff3ee"/>
<rect x="133" y="141.2" width="4.5" height="4.5" fill="#fff3ee"/>
<rect x="137" y="141.2" width="4.5" height="4.5" fill="#fff3ee"/>
<rect x="141" y="141.2" width="4.5" height="4.5" fill="#fff3ee"/>
<rect x="145" y="141.2" width="4.5" height="4.5" fill="#fff3ee"/>
<rect x="149" y="141.2" width="4.5" height="4.5" fill="#fff3ee"/>
<rect x="153" y="141.2" width="4.5" height="4.5" fill="#fff3ee"/>
<rect x="157" y="141.2" width="4.5" height="4.5" fill="#fff3ee"/>
<rect x="161" y="141.2" width="4.5" height="4.5" fill="#fff3ee"/>
<rect x="165" y="141.2" width="4.5" height="4.5" fill="#fff3ee"/>
<rect x="169" y="141.2" width="4.5" height="4.5" fill="#fff3ee"/>
<rect x="173" y="141.2" width="4.5" height="4.5" fill="#fff3ee"/>
<rect x="177" y="141.2" width="4.5" height="4.5" fill="#fff3ee"/>
<rect x="181" y="141.2" width="4.5" height="4.5" fill="#fff3ee"/>
<rect x="185" y="141.2" width="4.5" height="4.5" fill="#fff3ee"/>
<rect x="189" y="141.2" width="4.5" height="4.5" fill="#fff3ee"/>
<rect x="193" y="141.2" width="4.5" height="4.5" fill="#fff3ee"/>
<rect x="197" y="141.2" width="4.5" height="4.5" fill="#fff3ee"/>
<rect x="201" y="141.2" width="4.5" height="4.5" fill="#fff3ee"/>
<rect x="205" y="141.2" width="4.5" height="4.5" fill="#fff3ee"/>
<rect x="209" y="141.2" width="4.5" height="4.5" fill="#fff3ee"/>
<rect x="213" y="141.2" width="4.5" height="4.5" fill="#fff3ee"/>
<rect x="217" y="141.2" width="4.5" height="4.5" fill="#fff3ee"/>
<rect x="221" y="141.2" width="4.5" height="4.5" fill="#fff3ee"/>
<rect x="225" y="141.2" width="4.5" height="4.5" fill="#fff3ee"/>
<rect x="229" y="141.2" width="4.5" height="4.5" fill="#fff3ee"/>
<rect x="233" y="141.2" width="4.5" height="4.5" fill="#fff3ee"/>
<rect x="25" y="145.2" width="4.5" height="4.5" fill="#f9b094"/>
<rect x="29" y="145.2" width="4.5" height="4.5" fill="#f9b094"/>
<rect x="33" y="145.2" width="4.5" height="4.5" fill="#f9b094"/>
<rect x="37" y="145.2" width="4.5" height="4.5" fill="#f9b094"/>
<rect x="41" y="145.2" width="4.5" height="4.5" fill="#f9b196"/>
<rect x="45" y="145.2" width="4.5" height="4.5" fill="#f9b398"/>
<rect x="49" y="145.2" width="4.5" height="4.5" fill="#fab69c"/>
<rect x="53" y="145.2" width="4.5" height="4.5" fill="#fab9a1"/>
<rect x="57" y="145.2" width="4.5" height="4.5" fill="#fabea7"/>
<rect x="61" y="145.2" width="4.5" height="4.5" fill="#fbc3ad"/>
<rect x="65" y="145.2" width="4.5" height="4.5" fill="#fbc8b4"/>
<rect x="69" y="145.2" width="4.5" height="4.5" fill="#fccdbc"/>
<rect x="73" y="145.2" width="4.5" height="4.5" fill="#fcd3c3"/>
<rect x="77" y="145.2" width="4.5" height="4.5" fill="#fdd8ca"/>
<rect x="81" y="145.2" width="4.5" height="4.5" fill="#fdded2"/>
<rect x="85" y="145.2" width="4.5" height="4.5" fill="#fee3d8"/>
<rect x="89" y="145.2" width="4.5" height="4.5" fill="#fee7de"/>
<rect x="93" y="145.2" width="4.5" height="4.5" fill="#feebe4"/>
<rect x="97" y="145.2" width="4.5" height="4.5" fill="#ffefe8"/>
<rect x="101" y="145.2" width="4.5" height="4.5" fill="#fff1eb"/>
<rect x="105" y="145.2" width="4.5" height="4.5" fill="#fff2ed"/>
<rect x="109" y="145.2" width="4.5" height="4.5" fill="#fff3ee"/>
<rect x="113" y="145.2" width="4.5" height="4.5" fill="#fff3ee"/>
<rect x="117" y="145.2" width="4.5" height="4.5" fill="#fff3ee"/>
<rect x="121" y="145.2" width="4.5" height="4.5" fill="#fff3ee"/>
<rect x="125" y="145.2" width="4.5" height="4.5" fill="#fff3ee"/>
<rect x="129" y="145.2" width="4.5" height="4.5" fill="#fff3ee"/>
<rect x="133" y="145.2" width="4.5" height="4.5" fill="#fff3ee"/>
<rect x="137" y="145.2" width="4.5" height="4.5" fill="#fff3ee"/>
<rect x="141" y="145.2" width="4.5" height="4.5" fill="#fff3ee"/>
<rect x="145" y="145.2" width="4.5" height="4.5" fill="#fff3ee"/>
<rect x="149" y="145.2" width="4.5" height="4.5" fill="#fff3ee"/>
<rect x="153" y="145.2" width="4.5" height="4.5" fill="#fff3ee"/>
<rect x="157" y="145.2" width="4.5" height="4.5" fill="#fff3ee"/>
<rect x="161" y="145.2" width="4.5" height="4.5" fill="#fff3ee"/>
<rect x="165" y="145.2" width="4.5" height="4.5" fill="#fff3ee"/>
<rect x="169" y="145.2" width="4.5" height="4.5" fill="#fff3ee"/>
<rect x="173" y="145.2" width="4.5" height="4.5" fill="#fff3ee"/>
<rect x="177" y="145.2" width="4.5" height="4.5" fill="#fff3ee"/>
<rect x="181" y="145.2" width="4.5" height="4.5" fill="#fff3ee"/>
<rect x="185" y="145.2" width="4.5" height="4.5" fill="#fff3ee"/>
<rect x="189" y="145.2" width="4.5" height="4.5" fill="#fff3ee"/>
<rect x="193" y="145.2" width="4.5" height="4.5" fill="#fff3ee"/>
<rect x="197" y="145.2" width="4.5" height="4.5" fill="#fff3ee"/>
<rect x="201" y="145.2" width="4.5" height="4.5" fill="#fff3ee"/>
<rect x="205" y="145.2" width="4.5" height="4.5" fill="#fff3ee"/>
<rect x="209" y="145.2" width="4.5" height="4.5" fill="#fff3ee"/>
<rect x="213" y="145.2" width="4.5" height="4.5" fill="#fff3ee"/>
<rect x="217" y="145.2" width="4.5" height="4.5" fill="#fff3ee"/>
<rect x="221" y="145.2" width="4.5" height="4.5" fill="#fff3ee"/>
<rect x="225" y="145.2" width="4.5" height="4.5" fill="#fff3ee"/>
<rect x="229" y="145.2" width="4.5" height="4.5" fill="#fff3ee"/>
<rect x="233" y="145.2" width="4.5" height="4.5" fill="#fff3ee"/>
<rect x="25" y="149.2" width="4.5" height="4.5" fill="#fab499"/>
<rect x="29" y="149.2" width="4.5" height="4.5" fill="#fab499"/>
<rect x="33" y="149.2" width="4.5" height="4.5" fill="#fab499"/>
<rect x="37" y="149.2" width="4.5" height="4.5" fill="#fab499"/>
<rect x="41" y="149.2" width="4.5" height="4.5" fill="#fab49a"/>
<rect x="45" y="149.2" width="4.5" height="4.5" fill="#fab69c"/>
<rect x="49" y="149.2" width="4.5" height="4.5" fill="#fab9a0"/>
<rect x="53" y="149.2" width="4.5" height="4.5" fill="#fabda5"/>
<rect x="57" y="149.2" width="4.5" height="4.5" fill="#fbc1aa"/>
<rect x="61" y="149.2" width="4.5" height="4.5" fill="#fbc5b1"/>
<rect x="65" y="149.2" width="4.5" height="4.5" fill="#fccab7"/>
<rect x="69" y="149.2" width="4.5" height="4.5" fill="#fccfbe"/>
<rect x="73" y="149.2" width="4.5" height="4.5" fill="#fcd5c5"/>
<rect x="77" y="149.2" width="4.5" height="4.5" fill="#fddacc"/>
<rect x="81" y="149.2" width="4.5" height="4.5" fill="#fddfd3"/>
<rect x="85" y="149.2" width="4.5" height="4.5" fill="#fee4da"/>
<rect x="89" y="149.2" width="4.5" height="4.5" fill="#fee8df"/>
<rect x="93" y="149.2" width="4.5" height="4.5" fill="#feece5"/>
<rect x="97" y="149.2" width="4.5" height="4.5" fill="#ffefe9"/>
<rect x="101" y="149.2" width="4.5" height="4.5" fill="#fff1ec"/>
<rect x="105" y="149.2" width="4.5" height="4.5" fill="#fff3ee"/>
<rect x="109" y="149.2" width="4.5" height="4.5" fill="#fff3ee"/>
<rect x="113" y="149.2" width="4.5" height="4.5" fill="#fff3ee"/>
<rect x="117" y="149.2" width="4.5" height="4.5" fill="#fff3ee"/>
<rect x="121" y="149.2" width="4.5" height="4.5" fill="#fff3ee"/>
<rect x="125" y="149.2" width="4.5" height="4.5" fill="#fff3ee"/>
<rect x="129" y="149.2" width="4.5" height="4.5" fill="#fff3ee"/>
<rect x="133" y="149.2" width="4.5" height="4.5" fill="#fff3ee"/>
<rect x="137" y="149.2" width="4.5" height="4.5" fill="#fff3ee"/>
<rect x="141" y="149.2" width="4.5" height="4.5" fill="#fff3ee"/>
<rect x="145" y="149.2" width="4.5" height="4.5" fill="#fff3ee"/>
<rect x="149" y="149.2" width="4.5" height="4.5" fill="#fff3ee"/>
<rect x="153" y="149.2" width="4.5" height="4.5" fill="#fff3ee"/>
<rect x="157" y="149.2" width="4.5" height="4.5" fill="#fff3ee"/>
<rect x="161" y="149.2" width="4.5" height="4.5" fill="#fff3ee"/>
<rect x="165" y="149.2" width="4.5" height="4.5" fill="#fff3ee"/>
<rect x="169" y="149.2" width="4.5" height="4.5" fill="#fff3ee"/>
<rect x="173" y="149.2" width="4.5" height="4.5" fill="#fff3ee"/>
<rect x="177" y="149.2" width="4.5" height="4.5" fill="#fff3ee"/>
<rect x="181" y="149.2" width="4.5" height="4.5" fill="#fff3ee"/>
<rect x="185" y="149.2" width="4.5" height="4.5" fill="#fff3ee"/>
<rect x="189" y="149.2" width="4.5" height="4.5" fill="#fff3ee"/>
<rect x="193" y="149.2" width="4.5" height="4.5" fill="#fff3ee"/>
<rect x="197" y="149.2" width="4.5" height="4.5" fill="#fff3ee"/>
<rect x="201" y="149.2" width="4.5" height="4.5" fill="#fff3ee"/>
<rect x="205" y="149.2" width="4.5" height="4.5" fill="#fff3ee"/>
<rect x="209" y="149.2" width="4.5" height="4.5" fill="#fff3ee"/>
<rect x="213" y="149.2" width="4.5" height="4.5" fill="#fff3ee"/>
<rect x="217" y="149.2" width="4.5" height="4.5" fill="#fff3ee"/>
<rect x="221" y="149.2" width="4.5" height="4.5" fill="#fff3ee"/>
<rect x="225" y="149.2" width="4.5" height="4.5" fill="#fff3ee"/>
<rect x="229" y="149.2" width="4.5" height="4.5" fill="#fff3ee"/>
<rect x="233" y="149.2" width="4.5" height="4.5" fill="#fff3ee"/>
<rect x="25" y="153.2" width="4.5" height="4.5" fill="#fab79d"/>
<rect x="29" y="153.2" width="4.5" height="4.5" fill="#fab79d"/>
<rect x="33" y="153.2" width="4.5" height="4.5" fill="#fab79d"/>
<rect x="37" y="153.2" width="4.5" height="4.5" fill="#fab79d"/>
<rect x="41" y="153.2" width="4.5" height="4.5" fill="#fab89e"/>
<rect x="45" y="153.2" width="4.5" height="4.5" fill="#fabaa1"/>
<rect x="49" y="153.2" width="4.5" height="4.5" fill="#fabca4"/>
<rect x="53" y="153.2" width="4.5" height="4.5" fill="#fbc0a9"/>
<rect x="57" y="153.2" width="4.5" height="4.5" fill="#fbc4ae"/>
<rect x="61" y="153.2" width="4.5" height="4.5" fill="#fbc8b4"/>
<rect x="65" y="153.2" width="4.5" height="4.5" fill="#fccdba"/>
<rect x="69" y="153.2" width="4.5" height="4.5" fill="#fcd1c1"/>
<rect x="73" y="153.2" width="4.5" height="4.5" fill="#fdd6c8"/>
<rect x="77" y="153.2" width="4.5" height="4.5" fill="#fddbce"/>
<rect x="81" y="153.2" width="4.5" height="4.5" fill="#fde0d5"/>
<rect x="85" y="153.2" width="4.5" height="4.5" fill="#fee5db"/>
<rect x="89" y="153.2" width="4.5" height="4.5" fill="#fee9e0"/>
<rect x="93" y="153.2" width="4.5" height="4.5" fill="#feece5"/>
<rect x="97" y="153.2" width="4.5" height="4.5" fill="#ffefe9"/>
<rect x="101" y="153.2" width="4.5" height="4.5" fill="#fff2ec"/>
<rect x="105" y="153.2" width="4.5" height="4.5" fill="#fff3ee"/>
<rect x="109" y="153.2" width="4.5" height="4.5" fill="#fff3ee"/>
<rect x="113" y="153.2" width="4.5" height="4.5" fill="#fff3ee"/>
<rect x="117" y="153.2" width="4.5" height="4.5" fill="#fff3ee"/>
<rect x="121" y="153.2" width="4.5" height="4.5" fill="#fff3ee"/>
<rect x="125" y="153.2" width="4.5" height="4.5" fill="#fff3ee"/>
<rect x="129" y="153.2" width="4.5" height="4.5" fill="#fff3ee"/>
<rect x="133" y="153.2" width="4.5" height="4.5" fill="#fff3ee"/>
<rect x="137" y="153.2" width="4.5" height="4.5" fill="#fff3ee"/>
<rect x="141" y="153.2" width="4.5" height="4.5" fill="#fff3ee"/>
<rect x="145" y="153.2" width="4.5" height="4.5" fill="#fff3ee"/>
<rect x="149" y="153.2" width="4.5" height="4.5" fill="#fff3ee"/>
<rect x="153" y="153.2" width="4.5" height="4.5" fill="#fff3ee"/>
<rect x="157" y="153.2" width="4.5" height="4.5" fill="#fff3ee"/>
<rect x="161" y="153.2" width="4.5" height="4.5" fill="#fff3ee"/>
<rect x="165" y="153.2" width="4.5" height="4.5" fill="#fff3ee"/>
<rect x="169" y="153.2" width="4.5" height="4.5" fill="#fff3ee"/>
<rect x="173" y="153.2" width="4.5" height="4.5" fill="#fff3ee"/>
<rect x="177" y="153.2" width="4.5" height="4.5" fill="#fff3ee"/>
<rect x="181" y="153.2" width="4.5" height="4.5" fill="#fff3ee"/>
<rect x="185" y="153.2" width="4.5" height="4.5" fill="#fff3ee"/>
<rect x="189" y="153.2" width="4.5" height="4.5" fill="#fff3ee"/>
<rect x="193" y="153.2" width="4.5" height="4.5" fill="#fff3ee"/>
<rect x="197" y="153.2" width="4.5" height="4.5" fill="#fff3ee"/>
<rect x="201" y="153.2" width="4.5" height="4.5" fill="#fff3ee"/>
<rect x="205" y="153.2" width="4.5" height="4.5" fill="#fff3ee"/>
<rect x="209" y="153.2" width="4.5" height="4.5" fill="#fff3ee"/>
<rect x="213" y="153.2" width="4.5" height="4.5" fill="#fff3ee"/>
<rect x="217" y="153.2" width="4.5" height="4.5" fill="#fff3ee"/>
<rect x="221" y="153.2" width="4.5" height="4.5" fill="#fff3ee"/>
<rect x="225" y="153.2" width="4.5" height="4.5" fill="#fff3ee"/>
<rect x="229" y="153.2" width="4.5" height="4.5" fill="#fff3ee"/>
<rect x="233" y="153.2" width="4.5" height="4.5" fill="#fff3ee"/>
<rect x="25" y="157.2" width="4.5" height="4.5" fill="#fabba2"/>
<rect x="29" y="157.2" width="4.5" height="4.5" fill="#fabba2"/>
<rect x="33" y="157.2" width="4.5" height="4.5" fill="#fabba2"/>
<rect x="37" y="157.2" width="4.5" height="4.5" fill="#fabba2"/>
<rect x="41" y="157.2" width="4.5" height="4.5" fill="#fabca3"/>
<rect x="45" y="157.2" width="4.5" height="4.5" fill="#fbbda5"/>
<rect x="49" y="157.2" width="4.5" height="4.5" fill="#fbc0a8"/>
<rect x="53" y="157.2" width="4.5" height="4.5" fill="#fbc3ac"/>
<rect x="57" y="157.2" width="4.5" height="4.5" fill="#fbc6b1"/>
<rect x="61" y="157.2" width="4.5" height="4.5" fill="#fccbb7"/>
<rect x="65" y="157.2" width="4.5" height="4.5" fill="#fccfbd"/>
<rect x="69" y="157.2" width="4.5" height="4.5" fill="#fcd4c3"/>
<rect x="73" y="157.2" width="4.5" height="4.5" fill="#fdd8ca"/>
<rect x="77" y="157.2" width="4.5" height="4.5" fill="#fdddd0"/>
<rect x="81" y="157.2" width="4.5" height="4.5" fill="#fee1d6"/>
<rect x="85" y="157.2" width="4.5" height="4.5" fill="#fee6dc"/>
<rect x="89" y="157.2" width="4.5" height="4.5" fill="#feeae1"/>
<rect x="93" y="157.2" width="4.5" height="4.5" fill="#feede6"/>
<rect x="97" y="157.2" width="4.5" height="4.5" fill="#fff0ea"/>
<rect x="101" y="157.2" width="4.5" height="4.5" fill="#fff2ed"/>
<rect x="105" y="157.2" width="4.5" height="4.5" fill="#fff3ee"/>
<rect x="109" y="157.2" width="4.5" height="4.5" fill="#fff3ef"/>
<rect x="113" y="157.2" width="4.5" height="4.5" fill="#fff3ef"/>
<rect x="117" y="157.2" width="4.5" height="4.5" fill="#fff3ef"/>
<rect x="121" y="157.2" width="4.5" height="4.5" fill="#fff3ef"/>
<rect x="125" y="157.2" width="4.5" height="4.5" fill="#fff3ef"/>
<rect x="129" y="157.2" width="4.5" height="4.5" fill="#fff3ef"/>
<rect x="133" y="157.2" width="4.5" height="4.5" fill="#fff3ef"/>
<rect x="137" y="157.2" width="4.5" height="4.5" fill="#fff3ef"/>
<rect x="141" y="157.2" width="4.5" height="4.5" fill="#fff3ef"/>
<rect x="145" y="157.2" width="4.5" height="4.5" fill="#fff3ef"/>
<rect x="149" y="157.2" width="4.5" height="4.5" fill="#fff3ef"/>
<rect x="153" y="157.2" width="4.5" height="4.5" fill="#fff3ef"/>
<rect x="157" y="157.2" width="4.5" height="4.5" fill="#fff3ef"/>
<rect x="161" y="157.2" width="4.5" height="4.5" fill="#fff3ef"/>
<rect x="165" y="157.2" width="4.5" height="4.5" fill="#fff3ef"/>
<rect x="169" y="157.2" width="4.5" height="4.5" fill="#fff3ef"/>
<rect x="173" y="157.2" width="4.5" height="4.5" fill="#fff3ef"/>
<rect x="177" y="157.2" width="4.5" height="4.5" fill="#fff3ef"/>
<rect x="181" y="157.2" width="4.5" height="4.5" fill="#fff3ef"/>
<rect x="185" y="157.2" width="4.5" height="4.5" fill="#fff3ef"/>
<rect x="189" y="157.2" width="4.5" height="4.5" fill="#fff3ef"/>
<rect x="193" y="157.2" width="4.5" height="4.5" fill="#fff3ef"/>
<rect x="197" y="157.2" width="4.5" height="4.5" fill="#fff3ef"/>
<rect x="201" y="157.2" width="4.5" height="4.5" fill="#fff3ef"/>
<rect x="205" y="157.2" width="4.5" height="4.5" fill="#fff3ef"/>
<rect x="209" y="157.2" width="4.5" height="4.5" fill="#fff3ef"/>
<rect x="213" y="157.2" width="4.5" height="4.5" fill="#fff3ef"/>
<rect x="217" y="157.2" width="4.5" height="4.5" fill="#fff3ef"/>
<rect x="221" y="157.2" width="4.5" height="4.5" fill="#fff3ef"/>
<rect x="225" y="157.2" width="4.5" height="4.5" fill="#fff3ef"/>
<rect x="229" y="157.2" width="4.5" height="4.5" fill="#fff3ef"/>
<rect x="233" y="157.2" width="4.5" height="4.5" fill="#fff3ef"/>
<rect x="25" y="161.2" width="4.5" height="4.5" fill="#fbbea6"/>
<rect x="29" y="161.2" width="4.5" height="4.5" fill="#fbbea6"/>
<rect x="33" y="161.2" width="4.5" height="4.5" fill="#fbbea6"/>
<rect x="37" y="161.2" width="4.5" height="4.5" fill="#fbbea6"/>
<rect x="41" y="161.2" width="4.5" height="4.5" fill="#fbbfa7"/>
<rect x="45" y="161.2" width="4.5" height="4.5" fill="#fbc1a9"/>
<rect x="49" y="161.2" width="4.5" height="4.5" fill="#fbc3ac"/>
<rect x="53" y="161.2" width="4.5" height="4.5" fill="#fbc6b0"/>
<rect x="57" y="161.2" width="4.5" height="4.5" fill="#fcc9b5"/>
<rect x="61" y="161.2" width="4.5" height="4.5" fill="#fccdba"/>
<rect x="65" y="161.2" width="4.5" height="4.5" fill="#fcd1c0"/>
<rect x="69" y="161.2" width="4.5" height="4.5" fill="#fdd6c6"/>
<rect x="73" y="161.2" width="4.5" height="4.5" fill="#fddacc"/>
<rect x="77" y="161.2" width="4.5" height="4.5" fill="#fdded2"/>
<rect x="81" y="161.2" width="4.5" height="4.5" fill="#fee3d8"/>
<rect x="85" y="161.2" width="4.5" height="4.5" fill="#fee7dd"/>
<rect x="89" y="161.2" width="4.5" height="4.5" fill="#feeae2"/>
<rect x="93" y="161.2" width="4.5" height="4.5" fill="#ffeee7"/>
<rect x="97" y="161.2" width="4.5" height="4.5" fill="#fff0ea"/>
<rect x="101" y="161.2" width="4.5" height="4.5" fill="#fff2ed"/>
<rect x="105" y="161.2" width="4.5" height="4.5" fill="#fff3ef"/>
<rect x="109" y="161.2" width="4.5" height="4.5" fill="#fff4ef"/>
<rect x="113" y="161.2" width="4.5" height="4.5" fill="#fff4ef"/>
<rect x="117" y="161.2" width="4.5" height="4.5" fill="#fff4ef"/>
<rect x="121" y="161.2" width="4.5" height="4.5" fill="#fff4ef"/>
<rect x="125" y="161.2" width="4.5" height="4.5" fill="#fff4ef"/>
<rect x="129" y="161.2" width="4.5" height="4.5" fill="#fff4ef"/>
<rect x="133" y="161.2" width="4.5" height="4.5" fill="#fff4ef"/>
<rect x="137" y="161.2" width="4.5" height="4.5" fill="#fff4ef"/>
<rect x="141" y="161.2" width="4.5" height="4.5" fill="#fff4ef"/>
<rect x="145" y="161.2" width="4.5" height="4.5" fill="#fff4ef"/>
<rect x="149" y="161.2" width="4.5" height="4.5" fill="#fff4ef"/>
<rect x="153" y="161.2" width="4.5" height="4.5" fill="#fff4ef"/>
<rect x="157" y="161.2" width="4.5" height="4.5" fill="#fff4ef"/>
<rect x="161" y="161.2" width="4.5" height="4.5" fill="#fff4ef"/>
<rect x="165" y="161.2" width="4.5" height="4.5" fill="#fff4ef"/>
<rect x="169" y="161.2" width="4.5" height="4.5" fill="#fff4ef"/>
<rect x="173" y="161.2" width="4.5" height="4.5" fill="#fff4ef"/>
<rect x="177" y="161.2" width="4.5" height="4.5" fill="#fff4ef"/>
<rect x="181" y="161.2" width="4.5" height="4.5" fill="#fff4ef"/>
<rect x="185" y="161.2" width="4.5" height="4.5" fill="#fff4ef"/>
<rect x="189" y="161.2" width="4.5" height="4.5" fill="#fff4ef"/>
<rect x="193" y="161.2" width="4.5" height="4.5" fill="#fff4ef"/>
<rect x="197" y="161.2" width="4.5" height="4.5" fill="#fff4ef"/>
<rect x="201" y="161.2" width="4.5" height="4.5" fill="#fff4ef"/>
<rect x="205" y="161.2" width="4.5" height="4.5" fill="#fff4ef"/>
<rect x="209" y="161.2" width="4.5" height="4.5" fill="#fff4ef"/>
<rect x="213" y="161.2" width="4.5" height="4.5" fill="#fff4ef"/>
<rect x="217" y="161.2" width="4.5" height="4.5" fill="#fff4ef"/>
<rect x="221" y="161.2" width="4.5" height="4.5" fill="#fff4ef"/>
<rect x="225" y="161.2" width="4.5" height="4.5" fill="#fff4ef"/>
<rect x="229" y="161.2" width="4.5" height="4.5" fill="#fff4ef"/>
<rect x="233" y="161.2" width="4.5" height="4.5" fill="#fff4ef"/>
<rect x="25" y="165.2" width="4.5" height="4.5" fill="#fbc1aa"/>
<rect x="29" y="165.2" width="4.5" height="4.5" fill="#fbc1aa"/>
<rect x="33" y="165.2" width="4.5" height="4.5" fill="#fbc1aa"/>
<rect x="37" y="165.2" width="4.5" height="4.5" fill="#fbc1aa"/>
<rect x="41" y="165.2" width="4.5" height="4.5" fill="#fbc2ab"/>
<rect x="45" y="165.2" width="4.5" height="4.5" fill="#fbc4ad"/>
<rect x="49" y="165.2" width="4.5" height="4.5" fill="#fbc6b0"/>
<rect x="53" y="165.2" width="4.5" height="4.5" fill="#fcc9b4"/>
<rect x="57" y="165.2" width="4.5" height="4.5" fill="#fcccb8"/>
<rect x="61" y="165.2" width="4.5" height="4.5" fill="#fccfbd"/>
<rect x="65" y="165.2" width="4.5" height="4.5" fill="#fcd3c3"/>
<rect x="69" y="165.2" width="4.5" height="4.5" fill="#fdd7c8"/>
<rect x="73" y="165.2" width="4.5" height="4.5" fill="#fddcce"/>
<rect x="77" y="165.2" width="4.5" height="4.5" fill="#fde0d4"/>
<rect x="81" y="165.2" width="4.5" height="4.5" fill="#fee4d9"/>
<rect x="85" y="165.2" width="4.5" height="4.5" fill="#fee8df"/>
<rect x="89" y="165.2" width="4.5" height="4.5" fill="#feebe3"/>
<rect x="93" y="165.2" width="4.5" height="4.5" fill="#ffeee8"/>
<rect x="97" y="165.2" width="4.5" height="4.5" fill="#fff1eb"/>
<rect x="101" y="165.2" width="4.5" height="4.5" fill="#fff2ed"/>
<rect x="105" y="165.2" width="4.5" height="4.5" fill="#fff4ef"/>
<rect x="109" y="165.2" width="4.5" height="4.5" fill="#fff4ef"/>
<rect x="113" y="165.2" width="4.5" height="4.5" fill="#fff4ef"/>
<rect x="117" y="165.2" width="4.5" height="4.5" fill="#fff4ef"/>
<rect x="121" y="165.2" width="4.5" height="4.5" fill="#fff4ef"/>
<rect x="125" y="165.2" width="4.5" height="4.5" fill="#fff4ef"/>
<rect x="129" y="165.2" width="4.5" height="4.5" fill="#fff4ef"/>
<rect x="133" y="165.2" width="4.5" height="4.5" fill="#fff4ef"/>
<rect x="137" y="165.2" width="4.5" height="4.5" fill="#fff4ef"/>
<rect x="141" y="165.2" width="4.5" height="4.5" fill="#fff4ef"/>
<rect x="145" y="165.2" width="4.5" height="4.5" fill="#fff4ef"/>
<rect x="149" y="165.2" width="4.5" height="4.5" fill="#fff4ef"/>
<rect x="153" y="165.2" width="4.5" height="4.5" fill="#fff4ef"/>
<rect x="157" y="165.2" width="4.5" height="4.5" fill="#fff4ef"/>
<rect x="161" y="165.2" width="4.5" height="4.5" fill="#fff4ef"/>
<rect x="165" y="165.2" width="4.5" height="4.5" fill="#fff4ef"/>
<rect x="169" y="165.2" width="4.5" height="4.5" fill="#fff4ef"/>
<rect x="173" y="165.2" width="4.5" height="4.5" fill="#fff4ef"/>
<rect x="177" y="165.2" width="4.5" height="4.5" fill="#fff4ef"/>
<rect x="181" y="165.2" width="4.5" height="4.5" fill="#fff4ef"/>
<rect x="185" y="165.2" width="4.5" height="4.5" fill="#fff4ef"/>
<rect x="189" y="165.2" width="4.5" height="4.5" fill="#fff4ef"/>
<rect x="193" y="165.2" width="4.5" height="4.5" fill="#fff4ef"/>
<rect x="197" y="165.2" width="4.5" height="4.5" fill="#fff4ef"/>
<rect x="201" y="165.2" width="4.5" height="4.5" fill="#fff4ef"/>
<rect x="205" y="165.2" width="4.5" height="4.5" fill="#fff4ef"/>
<rect x="209" y="165.2" width="4.5" height="4.5" fill="#fff4ef"/>
<rect x="213" y="165.2" width="4.5" height="4.5" fill="#fff4ef"/>
<rect x="217" y="165.2" width="4.5" height="4.5" fill="#fff4ef"/>
<rect x="221" y="165.2" width="4.5" height="4.5" fill="#fff4ef"/>
<rect x="225" y="165.2" width="4.5" height="4.5" fill="#fff4ef"/>
<rect x="229" y="165.2" width="4.5" height="4.5" fill="#fff4ef"/>
<rect x="233" y="165.2" width="4.5" height="4.5" fill="#fff4ef"/>
<rect x="25" y="169.2" width="4.5" height="4.5" fill="#fbc4ae"/>
<rect x="29" y="169.2" width="4.5" height="4.5" fill="#fbc4ae"/>
<rect x="33" y="169.2" width="4.5" height="4.5" fill="#fbc4ae"/>
<rect x="37" y="169.2" width="4.5" height="4.5" fill="#fbc4ae"/>
<rect x="41" y="169.2" width="4.5" height="4.5" fill="#fbc5af"/>
<rect x="45" y="169.2" width="4.5" height="4.5" fill="#fbc6b1"/>
<rect x="49" y="169.2" width="4.5" height="4.5" fill="#fcc8b3"/>
<rect x="53" y="169.2" width="4.5" height="4.5" fill="#fccbb7"/>
<rect x="57" y="169.2" width="4.5" height="4.5" fill="#fccebb"/>
<rect x="61" y="169.2" width="4.5" height="4.5" fill="#fcd1c0"/>
<rect x="65" y="169.2" width="4.5" height="4.5" fill="#fdd5c5"/>
<rect x="69" y="169.2" width="4.5" height="4.5" fill="#fdd9cb"/>
<rect x="73" y="169.2" width="4.5" height="4.5" fill="#fdddd0"/>
<rect x="77" y="169.2" width="4.5" height="4.5" fill="#fee1d5"/>
<rect x="81" y="169.2" width="4.5" height="4.5" fill="#fee5db"/>
<rect x="85" y="169.2" width="4.5" height="4.5" fill="#fee8e0"/>
<rect x="89" y="169.2" width="4.5" height="4.5" fill="#feece4"/>
<rect x="93" y="169.2" width="4.5" height="4.5" fill="#ffefe8"/>
<rect x="97" y="169.2" width="4.5" height="4.5" fill="#fff1eb"/>
<rect x="101" y="169.2" width="4.5" height="4.5" fill="#fff3ee"/>
<rect x="105" y="169.2" width="4.5" height="4.5" fill="#fff4ef"/>
<rect x="109" y="169.2" width="4.5" height="4.5" fill="#fff4f0"/>
<rect x="113" y="169.2" width="4.5" height="4.5" fill="#fff4f0"/>
<rect x="117" y="169.2" width="4.5" height="4.5" fill="#fff4f0"/>
<rect x="121" y="169.2" width="4.5" height="4.5" fill="#fff4f0"/>
<rect x="125" y="169.2" width="4.5" height="4.5" fill="#fff4f0"/>
<rect x="129" y="169.2" width="4.5" height="4.5" fill="#fff4f0"/>
<rect x="133" y="169.2" width="4.5" height="4.5" fill="#fff4f0"/>
<rect x="137" y="169.2" width="4.5" height="4.5" fill="#fff4f0"/>
<rect x="141" y="169.2" width="4.5" height="4.5" fill="#fff4f0"/>
<rect x="145" y="169.2" width="4.5" height="4.5" fill="#fff4f0"/>
<rect x="149" y="169.2" width="4.5" height="4.5" fill="#fff4f0"/>
<rect x="153" y="169.2" width="4.5" height="4.5" fill="#fff4f0"/>
<rect x="157" y="169.2" width="4.5" height="4.5" fill="#fff4f0"/>
<rect x="161" y="169.2" width="4.5" height="4.5" fill="#fff4f0"/>
<rect x="165" y="169.2" width="4.5" height="4.5" fill="#fff4f0"/>
<rect x="169" y="169.2" width="4.5" height="4.5" fill="#fff4f0"/>
<rect x="173" y="169.2" width="4.5" height="4.5" fill="#fff4f0"/>
<rect x="177" y="169.2" width="4.5" height="4.5" fill="#fff4f0"/>
<rect x="181" y="169.2" width="4.5" height="4.5" fill="#fff4f0"/>
<rect x="185" y="169.2" width="4.5" height="4.5" fill="#fff4f0"/>
<rect x="189" y="169.2" width="4.5" height="4.5" fill="#fff4f0"/>
<rect x="193" y="169.2" width="4.5" height="4.5" fill="#fff4f0"/>
<rect x="197" y="169.2" width="4.5" height="4.5" fill="#fff4f0"/>
<rect x="201" y="169.2" width="4.5" height="4.5" fill="#fff4f0"/>
<rect x="205" y="169.2" width="4.5" height="4.5" fill="#fff4f0"/>
<rect x="209" y="169.2" width="4.5" height="4.5" fill="#fff4f0"/>
<rect x="213" y="169.2" width="4.5" height="4.5" fill="#fff4f0"/>
<rect x="217" y="169.2" width="4.5" height="4.5" fill="#fff4f0"/>
<rect x="221" y="169.2" width="4.5" height="4.5" fill="#fff4f0"/>
<rect x="225" y="169.2" width="4.5" height="4.5" fill="#fff4f0"/>
<rect x="229" y="169.2" width="4.5" height="4.5" fill="#fff4f0"/>
<rect x="233" y="169.2" width="4.5" height="4.5" fill="#fff4f0"/>
<rect x="25" y="173.2" width="4.5" height="4.5" fill="#fbc7b1"/>
<rect x="29" y="173.2" width="4.5" height="4.5" fill="#fbc7b1"/>
<rect x="33" y="173.2" width="4.5" height="4.5" fill="#fbc7b1"/>
<rect x="37" y="173.2" width="4.5" height="4.5" fill="#fbc7b1"/>
<rect x="41" y="173.2" width="4.5" height="4.5" fill="#fbc7b2"/>
<rect x="45" y="173.2" width="4.5" height="4.5" fill="#fcc8b4"/>
<rect x="49" y="173.2" width="4.5" height="4.5" fill="#fccab7"/>
<rect x="53" y="173.2" width="4.5" height="4.5" fill="#fccdba"/>
<rect x="57" y="173.2" width="4.5" height="4.5" fill="#fcd0be"/>
<rect x="61" y="173.2" width="4.5" height="4.5" fill="#fcd3c3"/>
<rect x="65" y="173.2" width="4.5" height="4.5" fill="#fdd7c8"/>
<rect x="69" y="173.2" width="4.5" height="4.5" fill="#fddbcd"/>
<rect x="73" y="173.2" width="4.5" height="4.5" fill="#fdded2"/>
<rect x="77" y="173.2" width="4.5" height="4.5" fill="#fee2d7"/>
<rect x="81" y="173.2" width="4.5" height="4.5" fill="#fee6dc"/>
<rect x="85" y="173.2" width="4.5" height="4.5" fill="#fee9e1"/>
<rect x="89" y="173.2" width="4.5" height="4.5" fill="#feece5"/>
<rect x="93" y="173.2" width="4.5" height="4.5" fill="#ffefe9"/>
<rect x="97" y="173.2" width="4.5" height="4.5" fill="#fff1ec"/>
<rect x="101" y="173.2" width="4.5" height="4.5" fill="#fff3ee"/>
<rect x="105" y="173.2" width="4.5" height="4.5" fill="#fff4f0"/>
<rect x="109" y="173.2" width="4.5" height="4.5" fill="#fff4f0"/>
<rect x="113" y="173.2" width="4.5" height="4.5" fill="#fff4f0"/>
<rect x="117" y="173.2" width="4.5" height="4.5" fill="#fff4f0"/>
<rect x="121" y="173.2" width="4.5" height="4.5" fill="#fff4f0"/>
<rect x="125" y="173.2" width="4.5" height="4.5" fill="#fff4f0"/>
<rect x="129" y="173.2" width="4.5" height="4.5" fill="#fff4f0"/>
<rect x="133" y="173.2" width="4.5" height="4.5" fill="#fff4f0"/>
<rect x="137" y="173.2" width="4.5" height="4.5" fill="#fff4f0"/>
<rect x="141" y="173.2" width="4.5" height="4.5" fill="#fff4f0"/>
<rect x="145" y="173.2" width="4.5" height="4.5" fill="#fff4f0"/>
<rect x="149" y="173.2" width="4.5" height="4.5" fill="#fff4f0"/>
<rect x="153" y="173.2" width="4.5" height="4.5" fill="#fff4f0"/>
<rect x="157" y="173.2" width="4.5" height="4.5" fill="#fff4f0"/>
<rect x="161" y="173.2" width="4.5" height="4.5" fill="#fff4f0"/>
<rect x="165" y="173.2" width="4.5" height="4.5" fill="#fff4f0"/>
<rect x="169" y="173.2" width="4.5" height="4.5" fill="#fff4f0"/>
<rect x="173" y="173.2" width="4.5" height="4.5" fill="#fff4f0"/>
<rect x="177" y="173.2" width="4.5" height="4.5" fill="#fff4f0"/>
<rect x="181" y="173.2" width="4.5" height="4.5" fill="#fff4f0"/>
<rect x="185" y="173.2" width="4.5" height="4.5" fill="#fff4f0"/>
<rect x="189" y="173.2" width="4.5" height="4.5" fill="#fff4f0"/>
<rect x="193" y="173.2" width="4.5" height="4.5" fill="#fff4f0"/>
<rect x="197" y="173.2" width="4.5" height="4.5" fill="#fff4f0"/>
<rect x="201" y="173.2" width="4.5" height="4.5" fill="#fff4f0"/>
<rect x="205" y="173.2" width="4.5" height="4.5" fill="#fff4f0"/>
<rect x="209" y="173.2" width="4.5" height="4.5" fill="#fff4f0"/>
<rect x="213" y="173.2" width="4.5" height="4.5" fill="#fff4f0"/>
<rect x="217" y="173.2" width="4.5" height="4.5" fill="#fff4f0"/>
<rect x="221" y="173.2" width="4.5" height="4.5" fill="#fff4f0"/>
<rect x="225" y="173.2" width="4.5" height="4.5" fill="#fff4f0"/>
<rect x="229" y="173.2" width="4.5" height="4.5" fill="#fff4f0"/>
<rect x="233" y="173.2" width="4.5" height="4.5" fill="#fff4f0"/>
<rect x="25" y="177.2" width="4.5" height="4.5" fill="#fcc9b5"/>
<rect x="29" y="177.2" width="4.5" height="4.5" fill="#fcc9b5"/>
<rect x="33" y="177.2" width="4.5" height="4.5" fill="#fcc9b5"/>
<rect x="37" y="177.2" width="4.5" height="4.5" fill="#fcc9b5"/>
<rect x="41" y="177.2" width="4.5" height="4.5" fill="#fccab6"/>
<rect x="45" y="177.2" width="4.5" height="4.5" fill="#fccbb8"/>
<rect x="49" y="177.2" width="4.5" height="4.5" fill="#fccdba"/>
<rect x="53" y="177.2" width="4.5" height="4.5" fill="#fccfbd"/>
<rect x="57" y="177.2" width="4.5" height="4.5" fill="#fcd2c1"/>
<rect x="61" y="177.2" width="4.5" height="4.5" fill="#fdd5c6"/>
<rect x="65" y="177.2" width="4.5" height="4.5" fill="#fdd9ca"/>
<rect x="69" y="177.2" width="4.5" height="4.5" fill="#fddccf"/>
<rect x="73" y="177.2" width="4.5" height="4.5" fill="#fde0d4"/>
<rect x="77" y="177.2" width="4.5" height="4.5" fill="#fee3d9"/>
<rect x="81" y="177.2" width="4.5" height="4.5" fill="#fee7dd"/>
<rect x="85" y="177.2" width="4.5" height="4.5" fill="#feeae2"/>
<rect x="89" y="177.2" width="4.5" height="4.5" fill="#feede6"/>
<rect x="93" y="177.2" width="4.5" height="4.5" fill="#fff0ea"/>
<rect x="97" y="177.2" width="4.5" height="4.5" fill="#fff2ec"/>
<rect x="101" y="177.2" width="4.5" height="4.5" fill="#fff3ef"/>
<rect x="105" y="177.2" width="4.5" height="4.5" fill="#fff4f0"/>
<rect x="109" y="177.2" width="4.5" height="4.5" fill="#fff4f0"/>
<rect x="113" y="177.2" width="4.5" height="4.5" fill="#fff4f0"/>
<rect x="117" y="177.2" width="4.5" height="4.5" fill="#fff4f0"/>
<rect x="121" y="177.2" width="4.5" height="4.5" fill="#fff4f0"/>
<rect x="125" y="177.2" width="4.5" height="4.5" fill="#fff4f0"/>
<rect x="129" y="177.2" width="4.5" height="4.5" fill="#fff4f0"/>
<rect x="133" y="177.2" width="4.5" height="4.5" fill="#fff4f0"/>
<rect x="137" y="177.2" width="4.5" height="4.5" fill="#fff4f0"/>
<rect x="141" y="177.2" width="4.5" height="4.5" fill="#fff4f0"/>
<rect x="145" y="177.2" width="4.5" height="4.5" fill="#fff4f0"/>
<rect x="149" y="177.2" width="4.5" height="4.5" fill="#fff4f0"/>
<rect x="153" y="177.2" width="4.5" height="4.5" fill="#fff4f0"/>
<rect x="157" y="177.2" width="4.5" height="4.5" fill="#fff4f0"/>
<rect x="161" y="177.2" width="4.5" height="4.5" fill="#fff4f0"/>
<rect x="165" y="177.2" width="4.5" height="4.5" fill="#fff4f0"/>
<rect x="169" y="177.2" width="4.5" height="4.5" fill="#fff4f0"/>
<rect x="173" y="177.2" width="4.5" height="4.5" fill="#fff4f0"/>
<rect x="177" y="177.2" width="4.5" height="4.5" fill="#fff4f0"/>
<rect x="181" y="177.2" width="4.5" height="4.5" fill="#fff4f0"/>
<rect x="185" y="177.2" width="4.5" height="4.5" fill="#fff4f0"/>
<rect x="189" y="177.2" width="4.5" height="4.5" fill="#fff4f0"/>
<rect x="193" y="177.2" width="4.5" height="4.5" fill="#fff4f0"/>
<rect x="197" y="177.2" width="4.5" height="4.5" fill="#fff4f0"/>
<rect x="201" y="177.2" width="4.5" height="4.5" fill="#fff4f0"/>
<rect x="205" y="177.2" width="4.5" height="4.5" fill="#fff4f0"/>
<rect x="209" y="177.2" width="4.5" height="4.5" fill="#fff4f0"/>
<rect x="213" y="177.2" width="4.5" height="4.5" fill="#fff4f0"/>
<rect x="217" y="177.2" width="4.5" height="4.5" fill="#fff4f0"/>
<rect x="221" y="177.2" width="4.5" height="4.5" fill="#fff4f0"/>
<rect x="225" y="177.2" width="4.5" height="4.5" fill="#fff4f0"/>
<rect x="229" y="177.2" width="4.5" height="4.5" fill="#fff4f0"/>
<rect x="233" y="177.2" width="4.5" height="4.5" fill="#fff4f0"/>
<rect x="25" y="181.2" width="4.5" height="4.5" fill="#fcccb9"/>
<rect x="29" y="181.2" width="4.5" height="4.5" fill="#fcccb9"/>
<rect x="33" y="181.2" width="4.5" height="4.5" fill="#fcccb9"/>
<rect x="37" y="181.2" width="4.5" height="4.5" fill="#fcccb9"/>
<rect x="41" y="181.2" width="4.5" height="4.5" fill="#fcccba"/>
<rect x="45" y="181.2" width="4.5" height="4.5" fill="#fccdbb"/>
<rect x="49" y="181.2" width="4.5" height="4.5" fill="#fccfbe"/>
<rect x="53" y="181.2" width="4.5" height="4.5" fill="#fcd1c1"/>
<rect x="57" y="181.2" width="4.5" height="4.5" fill="#fcd4c4"/>
<rect x="61" y="181.2" width="4.5" height="4.5" fill="#fdd7c8"/>
<rect x="65" y="181.2" width="4.5" height="4.5" fill="#fddacd"/>
<rect x="69" y="181.2" width="4.5" height="4.5" fill="#fdded1"/>
<rect x="73" y="181.2" width="4.5" height="4.5" fill="#fde1d6"/>
<rect x="77" y="181.2" width="4.5" height="4.5" fill="#fee4da"/>
<rect x="81" y="181.2" width="4.5" height="4.5" fill="#fee8df"/>
<rect x="85" y="181.2" width="4.5" height="4.5" fill="#feebe3"/>
<rect x="89" y="181.2" width="4.5" height="4.5" fill="#feeee7"/>
<rect x="93" y="181.2" width="4.5" height="4.5" fill="#fff0ea"/>
<rect x="97" y="181.2" width="4.5" height="4.5" fill="#fff2ed"/>
<rect x="101" y="181.2" width="4.5" height="4.5" fill="#fff4ef"/>
<rect x="105" y="181.2" width="4.5" height="4.5" fill="#fff4f0"/>
<rect x="109" y="181.2" width="4.5" height="4.5" fill="#fff5f0"/>
<rect x="113" y="181.2" width="4.5" height="4.5" fill="#fff5f0"/>
<rect x="117" y="181.2" width="4.5" height="4.5" fill="#fff5f0"/>
<rect x="121" y="181.2" width="4.5" height="4.5" fill="#fff5f0"/>
<rect x="125" y="181.2" width="4.5" height="4.5" fill="#fff5f0"/>
<rect x="129" y="181.2" width="4.5" height="4.5" fill="#fff5f0"/>
<rect x="133" y="181.2" width="4.5" height="4.5" fill="#fff5f0"/>
<rect x="137" y="181.2" width="4.5" height="4.5" fill="#fff5f0"/>
<rect x="141" y="181.2" width="4.5" height="4.5" fill="#fff5f0"/>
<rect x="145" y="181.2" width="4.5" height="4.5" fill="#fff5f0"/>
<rect x="149" y="181.2" width="4.5" height="4.5" fill="#fff5f0"/>
<rect x="153" y="181.2" width="4.5" height="4.5" fill="#fff5f0"/>
<rect x="157" y="181.2" width="4.5" height="4.5" fill="#fff5f0"/>
<rect x="161" y="181.2" width="4.5" height="4.5" fill="#fff5f0"/>
<rect x="165" y="181.2" width="4.5" height="4.5" fill="#fff5f0"/>
<rect x="169" y="181.2" width="4.5" height="4.5" fill="#fff5f0"/>
<rect x="173" y="181.2" width="4.5" height="4.5" fill="#fff5f0"/>
<rect x="177" y="181.2" width="4.5" height="4.5" fill="#fff5f0"/>
<rect x="181" y="181.2" width="4.5" height="4.5" fill="#fff5f0"/>
<rect x="185" y="181.2" width="4.5" height="4.5" fill="#fff5f0"/>
<rect x="189" y="181.2" width="4.5" height="4.5" fill="#fff5f0"/>
<rect x="193" y="181.2" width="4.5" height="4.5" fill="#fff5f0"/>
<rect x="197" y="181.2" width="4.5" height="4.5" fill="#fff5f0"/>
<rect x="201" y="181.2" width="4.5" height="4.5" fill="#fff5f0"/>
<rect x="205" y="181.2" width="4.5" height="4.5" fill="#fff5f0"/>
<rect x="209" y="181.2" width="4.5" height="4.5" fill="#fff5f0"/>
<rect x="213" y="181.2" width="4.5" height="4.5" fill="#fff5f0"/>
<rect x="217" y="181.2" width="4.5" height="4.5" fill="#fff5f0"/>
<rect x="221" y="181.2" width="4.5" height="4.5" fill="#fff5f0"/>
<rect x="225" y="181.2" width="4.5" height="4.5" fill="#fff5f0"/>
<rect x="229" y="181.2" width="4.5" height="4.5" fill="#fff5f0"/>
<rect x="233" y="181.2" width="4.5" height="4.5" fill="#fff5f0"/>
<rect x="25" y="185.2" width="4.5" height="4.5" fill="#fccebc"/>
<rect x="29" y="185.2" width="4.5" height="4.5" fill="#fccebc"/>
<rect x="33" y="185.2" width="4.5" height="4.5" fill="#fccebc"/>
<rect x="37" y="185.2" width="4.5" height="4.5" fill="#fccebc"/>
<rect x="41" y="185.2" width="4.5" height="4.5" fill="#fccfbd"/>
<rect x="45" y="185.2" width="4.5" height="4.5" fill="#fcd0bf"/>
<rect x="49" y="185.2" width="4.5" height="4.5" fill="#fcd2c1"/>
<rect x="53" y="185.2" width="4.5" height="4.5" fill="#fcd4c4"/>
<rect x="57" y="185.2" width="4.5" height="4.5" fill="#fdd6c7"/>
<rect x="61" y="185.2" width="4.5" height="4.5" fill="#fdd9cb"/>
<rect x="65" y="185.2" width="4.5" height="4.5" fill="#fddccf"/>
<rect x="69" y="185.2" width="4.5" height="4.5" fill="#fddfd3"/>
<rect x="73" y="185.2" width="4.5" height="4.5" fill="#fee2d8"/>
<rect x="77" y="185.2" width="4.5" height="4.5" fill="#fee6dc"/>
<rect x="81" y="185.2" width="4.5" height="4.5" fill="#fee9e0"/>
<rect x="85" y="185.2" width="4.5" height="4.5" fill="#feece4"/>
<rect x="89" y="185.2" width="4.5" height="4.5" fill="#feeee8"/>
<rect x="93" y="185.2" width="4.5" height="4.5" fill="#fff1eb"/>
<rect x="97" y="185.2" width="4.5" height="4.5" fill="#fff2ee"/>
<rect x="101" y="185.2" width="4.5" height="4.5" fill="#fff4ef"/>
<rect x="105" y="185.2" width="4.5" height="4.5" fill="#fff5f1"/>
<rect x="109" y="185.2" width="4.5" height="4.5" fill="#fff5f1"/>
<rect x="113" y="185.2" width="4.5" height="4.5" fill="#fff5f1"/>
<rect x="117" y="185.2" width="4.5" height="4.5" fill="#fff5f1"/>
<rect x="121" y="185.2" width="4.5" height="4.5" fill="#fff5f1"/>
<rect x="125" y="185.2" width="4.5" height="4.5" fill="#fff5f1"/>
<rect x="129" y="185.2" width="4.5" height="4.5" fill="#fff5f1"/>
<rect x="133" y="185.2" width="4.5" height="4.5" fill="#fff5f1"/>
<rect x="137" y="185.2" width="4.5" height="4.5" fill="#fff5f1"/>
<rect x="141" y="185.2" width="4.5" height="4.5" fill="#fff5f1"/>
<rect x="145" y="185.2" width="4.5" height="4.5" fill="#fff5f1"/>
<rect x="149" y="185.2" width="4.5" height="4.5" fill="#fff5f1"/>
<rect x="153" y="185.2" width="4.5" height="4.5" fill="#fff5f1"/>
<rect x="157" y="185.2" width="4.5" height="4.5" fill="#fff5f1"/>
<rect x="161" y="185.2" width="4.5" height="4.5" fill="#fff5f1"/>
<rect x="165" y="185.2" width="4.5" height="4.5" fill="#fff5f1"/>
<rect x="169" y="185.2" width="4.5" height="4.5" fill="#fff5f1"/>
<rect x="173" y="185.2" width="4.5" height="4.5" fill="#fff5f1"/>
<rect x="177" y="185.2" width="4.5" height="4.5" fill="#fff5f1"/>
<rect x="181" y="185.2" width="4.5" height="4.5" fill="#fff5f1"/>
<rect x="185" y="185.2" width="4.5" height="4.5" fill="#fff5f1"/>
<rect x="189" y="185.2" width="4.5" height="4.5" fill="#fff5f1"/>
<rect x="193" y="185.2" width="4.5" height="4.5" fill="#fff5f1"/>
<rect x="197" y="185.2" width="4.5" height="4.5" fill="#fff5f1"/>
<rect x="201" y="185.2" width="4.5" height="4.5" fill="#fff5f1"/>
<rect x="205" y="185.2" width="4.5" height="4.5" fill="#fff5f1"/>
<rect x="209" y="185.2" width="4.5" height="4.5" fill="#fff5f1"/>
<rect x="213" y="185.2" width="4.5" height="4.5" fill="#fff5f1"/>
<rect x="217" y="185.2" width="4.5" height="4.5" fill="#fff5f1"/>
<rect x="221" y="185.2" width="4.5" height="4.5" fill="#fff5f1"/>
<rect x="225" y="185.2" width="4.5" height="4.5" fill="#fff5f1"/>
<rect x="229" y="185.2" width="4.5" height="4.5" fill="#fff5f1"/>
<rect x="233" y="185.2" width="4.5" height="4.5" fill="#fff5f1"/>
<rect x="25" y="189.2" width="4.5" height="4.5" fill="#fcd0bf"/>
<rect x="29" y="189.2" width="4.5" height="4.5" fill="#fcd0bf"/>
<rect x="33" y="189.2" width="4.5" height="4.5" fill="#fcd0bf"/>
<rect x="37" y="189.2" width="4.5" height="4.5" fill="#fcd0bf"/>
<rect x="41" y="189.2" width="4.5" height="4.5" fill="#fcd1c0"/>
<rect x="45" y="189.2" width="4.5" height="4.5" fill="#fcd2c1"/>
<rect x="49" y="189.2" width="4.5" height="4.5" fill="#fcd3c3"/>
<rect x="53" y="189.2" width="4.5" height="4.5" fill="#fcd5c6"/>
<rect x="57" y="189.2" width="4.5" height="4.5" fill="#fdd8c9"/>
<rect x="61" y="189.2" width="4.5" height="4.5" fill="#fddacd"/>
<rect x="65" y="189.2" width="4.5" height="4.5" fill="#fdddd1"/>
<rect x="69" y="189.2" width="4.5" height="4.5" fill="#fde0d5"/>
<rect x="73" y="189.2" width="4.5" height="4.5" fill="#fee3d9"/>
<rect x="77" y="189.2" width="4.5" height="4.5" fill="#fee6dd"/>
<rect x="81" y="189.2" width="4.5" height="4.5" fill="#fee9e1"/>
<rect x="85" y="189.2" width="4.5" height="4.5" fill="#feece5"/>
<rect x="89" y="189.2" width="4.5" height="4.5" fill="#feefe8"/>
<rect x="93" y="189.2" width="4.5" height="4.5" fill="#fff1eb"/>
<rect x="97" y="189.2" width="4.5" height="4.5" fill="#fff3ee"/>
<rect x="101" y="189.2" width="4.5" height="4.5" fill="#fff4f0"/>
<rect x="105" y="189.2" width="4.5" height="4.5" fill="#fff5f1"/>
<rect x="109" y="189.2" width="4.5" height="4.5" fill="#fff5f1"/>
<rect x="113" y="189.2" width="4.5" height="4.5" fill="#fff5f1"/>
<rect x="117" y="189.2" width="4.5" height="4.5" fill="#fff5f1"/>
<rect x="121" y="189.2" width="4.5" height="4.5" fill="#fff5f1"/>
<rect x="125" y="189.2" width="4.5" height="4.5" fill="#fff5f1"/>
<rect x="129" y="189.2" width="4.5" height="4.5" fill="#fff5f1"/>
<rect x="133" y="189.2" width="4.5" height="4.5" fill="#fff5f1"/>
<rect x="137" y="189.2" width="4.5" height="4.5" fill="#fff5f1"/>
<rect x="141" y="189.2" width="4.5" height="4.5" fill="#fff5f1"/>
<rect x="145" y="189.2" width="4.5" height="4.5" fill="#fff5f1"/>
<rect x="149" y="189.2" width="4.5" height="4.5" fill="#fff5f1"/>
<rect x="153" y="189.2" width="4.5" height="4.5" fill="#fff5f1"/>
<rect x="157" y="189.2" width="4.5" height="4.5" fill="#fff5f1"/>
<rect x="161" y="189.2" width="4.5" height="4.5" fill="#fff5f1"/>
<rect x="165" y="189.2" width="4.5" height="4.5" fill="#fff5f1"/>
<rect x="169" y="189.2" width="4.5" height="4.5" fill="#fff5f1"/>
<rect x="173" y="189.2" width="4.5" height="4.5" fill="#fff5f1"/>
<rect x="177" y="189.2" width="4.5" height="4.5" fill="#fff5f1"/>
<rect x="181" y="189.2" width="4.5" height="4.5" fill="#fff5f1"/>
<rect x="185" y="189.2" width="4.5" height="4.5" fill="#fff5f1"/>
<rect x="189" y="189.2" width="4.5" height="4.5" fill="#fff5f1"/>
<rect x="193" y="189.2" width="4.5" height="4.5" fill="#fff5f1"/>
<rect x="197" y="189.2" width="4.5" height="4.5" fill="#fff5f1"/>
<rect x="201" y="189.2" width="4.5" height="4.5" fill="#fff5f1"/>
<rect x="205" y="189.2" width="4.5" height="4.5" fill="#fff5f1"/>
<rect x="209" y="189.2" width="4.5" height="4.5" fill="#fff5f1"/>
<rect x="213" y="189.2" width="4.5" height="4.5" fill="#fff5f1"/>
<rect x="217" y="189.2" width="4.5" height="4.5" fill="#fff5f1"/>
<rect x="221" y="189.2" width="4.5" height="4.5" fill="#fff5f1"/>
<rect x="225" y="189.2" width="4.5" height="4.5" fill="#fff5f1"/>
<rect x="229" y="189.2" width="4.5" height="4.5" fill="#fff5f1"/>
<rect x="233" y="189.2" width="4.5" height="4.5" fill="#fff5f1"/>
<rect x="25" y="193.2" width="4.5" height="4.5" fill="#fcd0bf"/>
<rect x="29" y="193.2" width="4.5" height="4.5" fill="#fcd0bf"/>
<rect x="33" y="193.2" width="4.5" height="4.5" fill="#fcd0bf"/>
<rect x="37" y="193.2" width="4.5" height="4.5" fill="#fcd0bf"/>
<rect x="41" y="193.2" width="4.5" height="4.5" fill="#fcd1c0"/>
<rect x="45" y="193.2" width="4.5" height="4.5" fill="#fcd2c1"/>
<rect x="49" y="193.2" width="4.5" height="4.5" fill="#fcd3c3"/>
<rect x="53" y="193.2" width="4.5" height="4.5" fill="#fcd5c6"/>
<rect x="57" y="193.2" width="4.5" height="4.5" fill="#fdd8c9"/>
<rect x="61" y="193.2" width="4.5" height="4.5" fill="#fddacd"/>
<rect x="65" y="193.2" width="4.5" height="4.5" fill="#fdddd1"/>
<rect x="69" y="193.2" width="4.5" height="4.5" fill="#fde0d5"/>
<rect x="73" y="193.2" width="4.5" height="4.5" fill="#fee3d9"/>
<rect x="77" y="193.2" width="4.5" height="4.5" fill="#fee6dd"/>
<rect x="81" y="193.2" width="4.5" height="4.5" fill="#fee9e1"/>
<rect x="85" y="193.2" width="4.5" height="4.5" fill="#feece5"/>
<rect x="89" y="193.2" width="4.5" height="4.5" fill="#feefe8"/>
<rect x="93" y="193.2" width="4.5" height="4.5" fill="#fff1eb"/>
<rect x="97" y="193.2" width="4.5" height="4.5" fill="#fff3ee"/>
<rect x="101" y="193.2" width="4.5" height="4.5" fill="#fff4f0"/>
<rect x="105" y="193.2" width="4.5" height="4.5" fill="#fff5f1"/>
<rect x="109" y="193.2" width="4.5" height="4.5" fill="#fff5f1"/>
<rect x="113" y="193.2" width="4.5" height="4.5" fill="#fff5f1"/>
<rect x="117" y="193.2" width="4.5" height="4.5" fill="#fff5f1"/>
<rect x="121" y="193.2" width="4.5" height="4.5" fill="#fff5f1"/>
<rect x="125" y="193.2" width="4.5" height="4.5" fill="#fff5f1"/>
<rect x="129" y="193.2" width="4.5" height="4.5" fill="#fff5f1"/>
<rect x="133" y="193.2" width="4.5" height="4.5" fill="#fff5f1"/>
<rect x="137" y="193.2" width="4.5" height="4.5" fill="#fff5f1"/>
<rect x="141" y="193.2" width="4.5" height="4.5" fill="#fff5f1"/>
<rect x="145" y="193.2" width="4.5" height="4.5" fill="#fff5f1"/>
<rect x="149" y="193.2" width="4.5" height="4.5" fill="#fff5f1"/>
<rect x="153" y="193.2" width="4.5" height="4.5" fill="#fff5f1"/>
<rect x="157" y="193.2" width="4.5" height="4.5" fill="#fff5f1"/>
<rect x="161" y="193.2" width="4.5" height="4.5" fill="#fff5f1"/>
<rect x="165" y="193.2" width="4.5" height="4.5" fill="#fff5f1"/>
<rect x="169" y="193.2" width="4.5" height="4.5" fill="#fff5f1"/>
<rect x="173" y="193.2" width="4.5" height="4.5" fill="#fff5f1"/>
<rect x="177" y="193.2" width="4.5" height="4.5" fill="#fff5f1"/>
<rect x="181" y="193.2" width="4.5" height="4.5" fill="#fff5f1"/>
<rect x="185" y="193.2" width="4.5" height="4.5" fill="#fff5f1"/>
<rect x="189" y="193.2" width="4.5" height="4.5" fill="#fff5f1"/>
<rect x="193" y="193.2" width="4.5" height="4.5" fill="#fff5f1"/>
<rect x="197" y="193.2" width="4.5" height="4.5" fill="#fff5f1"/>
<rect x="201" y="193.2" width="4.5" height="4.5" fill="#fff5f1"/>
<rect x="205" y="193.2" width="4.5" height="4.5" fill="#fff5f1"/>
<rect x="209" y="193.2" width="4.5" height="4.5" fill="#fff5f1"/>
<rect x="213" y="193.2" width="4.5" height="4.5" fill="#fff5f1"/>
<rect x="217" y="193.2" width="4.5" height="4.5" fill="#fff5f1"/>
<rect x="221" y="193.2" width="4.5" height="4.5" fill="#fff5f1"/>
<rect x="225" y="193.2" width="4.5" height="4.5" fill="#fff5f1"/>
<rect x="229" y="193.2" width="4.5" height="4.5" fill="#fff5f1"/>
<rect x="233" y="193.2" width="4.5" height="4.5" fill="#fff5f1"/>
<polygon points="20.0,-5.0 240.0,-5.0 240.0,19.0 196.0,19.0 192.0,19.5 130.5,28.0 52.5,40.5 20.0,42.0" fill="#67000d" stroke="none" stroke-width="1"/>
</g>
<polygon points="52.5,40.5 130.5,28.0 192.0,19.5 196.5,21.5 179.0,52.2 153.0,95.5 145.0,101.7 128.1,120.5 116.4,136.9 110.5,150.9 107.0,165.0 100.0,174.0 92.0,172.0 86.0,167.0 59.0,147.0 52.3,143.0" fill="#fcc6ae" stroke="none" stroke-width="1"/>
<polygon points="74.6,100.0 99.6,91.0 120.0,83.0 136.8,75.0 155.0,64.0 177.0,55.0 153.0,95.5 145.0,101.7 128.1,120.5 116.4,136.9 110.5,150.9 107.0,165.0 96.0,173.0 88.0,167.0 78.0,153.5 74.6,113.7" fill="#fdd3c3" stroke="none" stroke-width="1"/>
<polygon points="53.0,141.0 66.4,125.0 66.4,141.0" fill="#fff0ea" stroke="none" stroke-width="1"/>
<polygon points="74.6,113.7 87.4,121.9 88.6,165.0 78.0,153.5 74.0,140.0" fill="#fdd9cc" stroke="none" stroke-width="1"/>
<polygon points="73.2,113.0 75.6,114.0 77.6,150.0 75.5,148.0" fill="#feeae2" stroke="none" stroke-width="1"/>
<polygon points="88.6,120.7 119.2,107.6 115.2,136.9 108.2,162.6 102.0,172.0 97.0,174.0 90.0,168.0 88.6,140.0" fill="#fb9a7c" stroke="none" stroke-width="1"/>
<polygon points="67.5,104.0 72.5,104.0 70.5,122.0 69.8,122.0" fill="#fb9d80" stroke="none" stroke-width="1"/>
<polygon points="52.3,90.6 61.9,88.7 66.5,87.3 73.5,92.6 99.6,83.6 120.0,76.2 136.8,68.3 150.0,56.0 162.4,44.7 175.0,37.3 185.0,29.0 194.0,21.5 194.0,19.5 130.5,28.0 52.5,40.5" fill="#f99070" stroke="none" stroke-width="1"/>
<polygon points="52.3,79.1 63.5,70.6 66.7,69.5 73.5,73.3 85.0,70.5 100.4,67.5 109.8,64.0 117.8,61.7 122.2,59.3 136.8,54.7 150.0,44.0 162.4,36.6 175.0,29.8 185.0,25.0 194.0,21.0 194.0,19.5 130.5,28.0 52.5,40.5" fill="#f4623f" stroke="none" stroke-width="1"/>
<polygon points="52.3,62.0 63.5,56.2 69.3,59.1 85.0,56.5 99.6,57.0 112.5,50.3 119.4,48.3 136.8,42.5 150.0,33.0 162.4,26.7 175.0,21.8 194.0,20.0 194.0,19.5 130.5,28.0 52.5,40.5" fill="#dc2a24" stroke="none" stroke-width="1"/>
<polygon points="52.3,49.5 61.6,48.5 79.0,46.6 90.0,44.0 100.0,39.0 136.8,34.9 150.0,27.0 160.0,23.5 194.0,19.6 194.0,19.5 130.5,28.0 52.5,40.5" fill="#a50f15" stroke="none" stroke-width="1"/>
<polygon points="75.0,42.5 110.0,37.5 95.0,41.0" fill="#8a0a12" stroke="none" stroke-width="1"/>
</g>
<polyline points="52.5,143.0 52.5,40.5 130.5,28.0 192.0,19.5" fill="none" stroke="#ffffff" stroke-width="1.3" stroke-dasharray="4,2.5" stroke-linecap="butt"/>
<polyline points="196.5,21.5 153.0,95.5" fill="none" stroke="#ffffff" stroke-width="1.3" stroke-dasharray="4,2.5" stroke-linecap="butt"/>
<polyline points="57.0,146.0 88.0,169.0" fill="none" stroke="#ffffff" stroke-width="1.3" stroke-dasharray="4,2.5" stroke-linecap="butt"/>
<circle cx="52.50" cy="40.50" r="2.75" fill="#dddddd" stroke="none" stroke-width="1"/>
<circle cx="64.10" cy="42.20" r="2.75" fill="#aaaaaa" stroke="none" stroke-width="1"/>
<circle cx="64.10" cy="50.00" r="2.75" fill="#aaaaaa" stroke="none" stroke-width="1"/>
<circle cx="70.70" cy="48.80" r="2.75" fill="#bbbbbb" stroke="none" stroke-width="1"/>
<circle cx="73.50" cy="45.20" r="2.75" fill="#d5d5d5" stroke="none" stroke-width="1"/>
<circle cx="75.10" cy="46.30" r="2.75" fill="#dddddd" stroke="none" stroke-width="1"/>
<circle cx="117.60" cy="40.00" r="2.75" fill="#aaaaaa" stroke="none" stroke-width="1"/>
<circle cx="130.50" cy="38.90" r="2.75" fill="#aaaaaa" stroke="none" stroke-width="1"/>
<circle cx="130.50" cy="30.60" r="2.75" fill="#eeeeee" stroke="none" stroke-width="1"/>
<circle cx="138.30" cy="31.40" r="2.75" fill="#cccccc" stroke="none" stroke-width="1"/>
<circle cx="142.40" cy="34.80" r="2.75" fill="#bbbbbb" stroke="none" stroke-width="1"/>
<circle cx="139.10" cy="37.20" r="2.75" fill="#bbbbbb" stroke="none" stroke-width="1"/>
<circle cx="131.70" cy="38.90" r="2.75" fill="#bbbbbb" stroke="none" stroke-width="1"/>
<circle cx="192.30" cy="19.00" r="2.75" fill="#888888" stroke="none" stroke-width="1"/>
<circle cx="195.00" cy="19.20" r="2.75" fill="#888888" stroke="none" stroke-width="1"/>
<circle cx="198.00" cy="19.40" r="2.75" fill="#888888" stroke="none" stroke-width="1"/>
<circle cx="200.60" cy="19.90" r="2.75" fill="#111111" stroke="none" stroke-width="1"/>
<circle cx="203.00" cy="20.50" r="2.75" fill="#000000" stroke="none" stroke-width="1"/>
<circle cx="205.50" cy="21.10" r="2.75" fill="#000000" stroke="none" stroke-width="1"/>
<circle cx="208.00" cy="21.80" r="2.75" fill="#000000" stroke="none" stroke-width="1"/>
<circle cx="212.20" cy="23.50" r="2.75" fill="#999999" stroke="none" stroke-width="1"/>
<circle cx="210.00" cy="22.60" r="2.75" fill="#000000" stroke="none" stroke-width="1"/>
<circle cx="210.60" cy="25.30" r="2.75" fill="#000000" stroke="none" stroke-width="1"/>
<circle cx="208.00" cy="25.90" r="2.75" fill="#000000" stroke="none" stroke-width="1"/>
<circle cx="205.50" cy="26.50" r="2.75" fill="#000000" stroke="none" stroke-width="1"/>
<circle cx="203.00" cy="27.00" r="2.75" fill="#000000" stroke="none" stroke-width="1"/>
<circle cx="200.80" cy="27.50" r="2.75" fill="#000000" stroke="none" stroke-width="1"/>
<circle cx="181.60" cy="46.30" r="2.75" fill="#777777" stroke="none" stroke-width="1"/>
<circle cx="190.30" cy="46.30" r="2.75" fill="#000000" stroke="none" stroke-width="1"/>
<circle cx="189.50" cy="47.60" r="2.75" fill="#000000" stroke="none" stroke-width="1"/>
<circle cx="197.40" cy="48.00" r="2.75" fill="#777777" stroke="none" stroke-width="1"/>
<circle cx="205.20" cy="48.80" r="2.75" fill="#777777" stroke="none" stroke-width="1"/>
<circle cx="209.70" cy="49.60" r="2.75" fill="#888888" stroke="none" stroke-width="1"/>
<circle cx="207.20" cy="54.30" r="2.75" fill="#999999" stroke="none" stroke-width="1"/>
<circle cx="211.00" cy="52.10" r="2.75" fill="#000000" stroke="none" stroke-width="1"/>
<circle cx="199.40" cy="55.40" r="2.75" fill="#666666" stroke="none" stroke-width="1"/>
<circle cx="140.80" cy="75.10" r="2.75" fill="#555555" stroke="none" stroke-width="1"/>
<circle cx="154.30" cy="76.40" r="2.75" fill="#555555" stroke="none" stroke-width="1"/>
<circle cx="154.30" cy="84.30" r="2.75" fill="#555555" stroke="none" stroke-width="1"/>
<circle cx="162.00" cy="77.50" r="2.75" fill="#666666" stroke="none" stroke-width="1"/>
<circle cx="165.90" cy="78.50" r="2.75" fill="#6a6a6a" stroke="none" stroke-width="1"/>
<circle cx="167.80" cy="79.50" r="2.75" fill="#707070" stroke="none" stroke-width="1"/>
<circle cx="161.50" cy="82.80" r="2.75" fill="#666666" stroke="none" stroke-width="1"/>
<circle cx="163.90" cy="80.40" r="2.75" fill="#6a6a6a" stroke="none" stroke-width="1"/>
<circle cx="166.30" cy="81.90" r="2.75" fill="#707070" stroke="none" stroke-width="1"/>
<circle cx="168.80" cy="92.50" r="2.75" fill="#000000" stroke="none" stroke-width="1"/>
<circle cx="176.50" cy="93.00" r="2.75" fill="#000000" stroke="none" stroke-width="1"/>
<circle cx="178.50" cy="93.20" r="2.75" fill="#000000" stroke="none" stroke-width="1"/>
<circle cx="180.30" cy="93.40" r="2.75" fill="#000000" stroke="none" stroke-width="1"/>
<circle cx="183.20" cy="93.90" r="2.75" fill="#111111" stroke="none" stroke-width="1"/>
<circle cx="187.10" cy="94.90" r="2.75" fill="#666666" stroke="none" stroke-width="1"/>
<circle cx="61.90" cy="103.70" r="2.75" fill="#555555" stroke="none" stroke-width="1"/>
<circle cx="67.70" cy="102.20" r="2.75" fill="#555555" stroke="none" stroke-width="1"/>
<circle cx="70.60" cy="96.40" r="2.75" fill="#666666" stroke="none" stroke-width="1"/>
<circle cx="72.50" cy="101.20" r="2.75" fill="#666666" stroke="none" stroke-width="1"/>
<circle cx="75.40" cy="99.30" r="2.75" fill="#777777" stroke="none" stroke-width="1"/>
<circle cx="52.10" cy="142.90" r="2.75" fill="#000000" stroke="none" stroke-width="1"/>
<circle cx="64.20" cy="144.00" r="2.75" fill="#000000" stroke="none" stroke-width="1"/>
<circle cx="64.20" cy="152.00" r="2.75" fill="#555555" stroke="none" stroke-width="1"/>
<circle cx="70.80" cy="145.50" r="2.75" fill="#000000" stroke="none" stroke-width="1"/>
<circle cx="73.30" cy="147.20" r="2.75" fill="#000000" stroke="none" stroke-width="1"/>
<circle cx="74.40" cy="149.30" r="2.75" fill="#444444" stroke="none" stroke-width="1"/>
<circle cx="75.50" cy="147.80" r="2.75" fill="#000000" stroke="none" stroke-width="1"/>
<circle cx="90.30" cy="171.10" r="2.75" fill="#666666" stroke="none" stroke-width="1"/>
<circle cx="103.00" cy="167.20" r="2.75" fill="#707070" stroke="none" stroke-width="1"/>
<circle cx="103.00" cy="171.30" r="2.75" fill="#707070" stroke="none" stroke-width="1"/>
<circle cx="103.00" cy="175.00" r="2.75" fill="#707070" stroke="none" stroke-width="1"/>
<circle cx="111.00" cy="172.10" r="2.75" fill="#808080" stroke="none" stroke-width="1"/>
<circle cx="113.70" cy="171.60" r="2.75" fill="#000000" stroke="none" stroke-width="1"/>
<path d="M174.8,145.2 C155,138 138,124 130.4,107 L127,97" fill="none" stroke="#333" stroke-width="1"/>
<polygon points="123.1,87.3 124.3,96.2 130.5,93.3" fill="#222" stroke="none" stroke-width="1"/>
<text x="182.30" y="137.70" font-size="10.6" text-anchor="middle" font-weight="normal" font-style="normal" fill="#1a1a1a" transform="rotate(31.5 182.3 137.7)">available Se / Ga</text>
<rect x="36.30" y="9.50" width="13.70" height="12.90" fill="#fff" stroke="none" stroke-width="1"/>
<text x="43.20" y="19.60" font-size="12" text-anchor="middle" font-weight="bold" font-style="normal" fill="#1a1a1a">a</text>
<rect x="33.00" y="5.20" width="194.30" height="181.00" fill="none" stroke="#333" stroke-width="1"/>
<line x1="46.20" y1="186.20" x2="46.20" y2="183.70" stroke="#333" stroke-width="1"/>
<line x1="46.20" y1="5.20" x2="46.20" y2="7.70" stroke="#333" stroke-width="1"/>
<text x="46.20" y="199.00" font-size="11.8" text-anchor="middle" font-weight="normal" font-style="normal" fill="#1a1a1a">540</text>
<line x1="80.05" y1="186.20" x2="80.05" y2="183.70" stroke="#333" stroke-width="1"/>
<line x1="80.05" y1="5.20" x2="80.05" y2="7.70" stroke="#333" stroke-width="1"/>
<text x="80.05" y="199.00" font-size="11.8" text-anchor="middle" font-weight="normal" font-style="normal" fill="#1a1a1a">560</text>
<line x1="113.90" y1="186.20" x2="113.90" y2="183.70" stroke="#333" stroke-width="1"/>
<line x1="113.90" y1="5.20" x2="113.90" y2="7.70" stroke="#333" stroke-width="1"/>
<text x="113.90" y="199.00" font-size="11.8" text-anchor="middle" font-weight="normal" font-style="normal" fill="#1a1a1a">580</text>
<line x1="147.75" y1="186.20" x2="147.75" y2="183.70" stroke="#333" stroke-width="1"/>
<line x1="147.75" y1="5.20" x2="147.75" y2="7.70" stroke="#333" stroke-width="1"/>
<text x="147.75" y="199.00" font-size="11.8" text-anchor="middle" font-weight="normal" font-style="normal" fill="#1a1a1a">600</text>
<line x1="181.60" y1="186.20" x2="181.60" y2="183.70" stroke="#333" stroke-width="1"/>
<line x1="181.60" y1="5.20" x2="181.60" y2="7.70" stroke="#333" stroke-width="1"/>
<text x="181.60" y="199.00" font-size="11.8" text-anchor="middle" font-weight="normal" font-style="normal" fill="#1a1a1a">620</text>
<line x1="215.45" y1="186.20" x2="215.45" y2="183.70" stroke="#333" stroke-width="1"/>
<line x1="215.45" y1="5.20" x2="215.45" y2="7.70" stroke="#333" stroke-width="1"/>
<text x="215.45" y="199.00" font-size="11.8" text-anchor="middle" font-weight="normal" font-style="normal" fill="#1a1a1a">640</text>
<line x1="33.00" y1="185.52" x2="34.80" y2="185.52" stroke="#333" stroke-width="1"/>
<line x1="227.30" y1="185.52" x2="225.50" y2="185.52" stroke="#333" stroke-width="1"/>
<line x1="33.00" y1="177.61" x2="34.80" y2="177.61" stroke="#333" stroke-width="1"/>
<line x1="227.30" y1="177.61" x2="225.50" y2="177.61" stroke="#333" stroke-width="1"/>
<line x1="33.00" y1="170.75" x2="34.80" y2="170.75" stroke="#333" stroke-width="1"/>
<line x1="227.30" y1="170.75" x2="225.50" y2="170.75" stroke="#333" stroke-width="1"/>
<line x1="33.00" y1="164.71" x2="34.80" y2="164.71" stroke="#333" stroke-width="1"/>
<line x1="227.30" y1="164.71" x2="225.50" y2="164.71" stroke="#333" stroke-width="1"/>
<line x1="33.00" y1="159.30" x2="36.00" y2="159.30" stroke="#333" stroke-width="1"/>
<line x1="227.30" y1="159.30" x2="224.30" y2="159.30" stroke="#333" stroke-width="1"/>
<line x1="33.00" y1="123.72" x2="34.80" y2="123.72" stroke="#333" stroke-width="1"/>
<line x1="227.30" y1="123.72" x2="225.50" y2="123.72" stroke="#333" stroke-width="1"/>
<line x1="33.00" y1="102.90" x2="34.80" y2="102.90" stroke="#333" stroke-width="1"/>
<line x1="227.30" y1="102.90" x2="225.50" y2="102.90" stroke="#333" stroke-width="1"/>
<line x1="33.00" y1="88.14" x2="34.80" y2="88.14" stroke="#333" stroke-width="1"/>
<line x1="227.30" y1="88.14" x2="225.50" y2="88.14" stroke="#333" stroke-width="1"/>
<line x1="33.00" y1="76.68" x2="34.80" y2="76.68" stroke="#333" stroke-width="1"/>
<line x1="227.30" y1="76.68" x2="225.50" y2="76.68" stroke="#333" stroke-width="1"/>
<line x1="33.00" y1="67.32" x2="34.80" y2="67.32" stroke="#333" stroke-width="1"/>
<line x1="227.30" y1="67.32" x2="225.50" y2="67.32" stroke="#333" stroke-width="1"/>
<line x1="33.00" y1="59.41" x2="34.80" y2="59.41" stroke="#333" stroke-width="1"/>
<line x1="227.30" y1="59.41" x2="225.50" y2="59.41" stroke="#333" stroke-width="1"/>
<line x1="33.00" y1="52.55" x2="34.80" y2="52.55" stroke="#333" stroke-width="1"/>
<line x1="227.30" y1="52.55" x2="225.50" y2="52.55" stroke="#333" stroke-width="1"/>
<line x1="33.00" y1="46.51" x2="34.80" y2="46.51" stroke="#333" stroke-width="1"/>
<line x1="227.30" y1="46.51" x2="225.50" y2="46.51" stroke="#333" stroke-width="1"/>
<line x1="33.00" y1="41.10" x2="36.00" y2="41.10" stroke="#333" stroke-width="1"/>
<line x1="227.30" y1="41.10" x2="224.30" y2="41.10" stroke="#333" stroke-width="1"/>
<line x1="33.00" y1="5.52" x2="34.80" y2="5.52" stroke="#333" stroke-width="1"/>
<line x1="227.30" y1="5.52" x2="225.50" y2="5.52" stroke="#333" stroke-width="1"/>
<text x="29.00" y="45.30" font-size="11.8" text-anchor="end" font-weight="normal" font-style="normal" fill="#1a1a1a">100</text>
<text x="29.00" y="163.50" font-size="11.8" text-anchor="end" font-weight="normal" font-style="normal" fill="#1a1a1a">10</text>
<text transform="translate(9.2,87.1) rotate(-90)" font-size="12" text-anchor="middle" fill="#1a1a1a"><tspan font-style="italic" stroke="#1a1a1a" stroke-width="0.35">Φ</tspan><tspan font-size="6" dy="2" fill="#333">Se/Ga</tspan></text>
<text x="135" y="213" font-size="12" text-anchor="middle" fill="#1a1a1a"><tspan font-style="italic">T</tspan><tspan font-size="5.8" dy="2.5" font-style="italic" fill="#333">sub</tspan><tspan dy="-2.5"> (°C)</tspan></text>
<defs><linearGradient id="cbg" x1="0" y1="0" x2="0" y2="1"><stop offset="0.00" stop-color="#ffffff"/><stop offset="0.20" stop-color="#d2d2d2"/><stop offset="0.40" stop-color="#a3a3a3"/><stop offset="0.60" stop-color="#727272"/><stop offset="0.80" stop-color="#3e3e3e"/><stop offset="0.90" stop-color="#222222"/><stop offset="1.00" stop-color="#000000"/></linearGradient></defs>
<rect x="239.50" y="5.50" width="9.10" height="180.50" fill="url(#cbg)" stroke="#333" stroke-width="1"/>
<line x1="248.60" y1="5.50" x2="251.20" y2="5.50" stroke="#333" stroke-width="1"/>
<text x="253.2" y="10.7" font-size="11.8" fill="#1a1a1a">10<tspan font-size="6.5" dy="-5.2">5</tspan></text>
<line x1="248.60" y1="47.90" x2="251.20" y2="47.90" stroke="#333" stroke-width="1"/>
<text x="253.2" y="53.1" font-size="11.8" fill="#1a1a1a">10<tspan font-size="6.5" dy="-5.2">3</tspan></text>
<line x1="248.60" y1="90.30" x2="251.20" y2="90.30" stroke="#333" stroke-width="1"/>
<text x="253.2" y="95.5" font-size="11.8" fill="#1a1a1a">10<tspan font-size="6.5" dy="-5.2">1</tspan></text>
<line x1="248.60" y1="132.70" x2="251.20" y2="132.70" stroke="#333" stroke-width="1"/>
<text x="253.2" y="137.9" font-size="11.8" fill="#1a1a1a">10<tspan font-size="6.5" dy="-5.2">-1</tspan></text>
<line x1="248.60" y1="175.10" x2="251.20" y2="175.10" stroke="#333" stroke-width="1"/>
<text x="253.2" y="180.3" font-size="11.8" fill="#1a1a1a">10<tspan font-size="6.5" dy="-5.2">-3</tspan></text>
<text transform="translate(283.2,94.9) rotate(-90)" font-size="11.7" text-anchor="middle" fill="#1a1a1a">Raman Ga<tspan font-size="7" dy="2.5">2</tspan><tspan dy="-2.5">Se</tspan><tspan font-size="7" dy="2.5">3</tspan><tspan dy="-2.5">/GaSe ratio</tspan></text>
<rect x="60.20" y="305.30" width="24.30" height="26.30" fill="#a9c9ea" stroke="#111" stroke-width="1"/>
<line x1="72.40" y1="292.70" x2="72.40" y2="305.30" stroke="#111" stroke-width="1"/>
<line x1="66.20" y1="292.70" x2="78.60" y2="292.70" stroke="#111" stroke-width="1"/>
<circle cx="72.4" cy="287" r="2.1" fill="none" stroke="#111" stroke-width="1"/>
<circle cx="72.4" cy="288.9" r="2.1" fill="none" stroke="#111" stroke-width="1"/>
<rect x="139.40" y="300.00" width="23.40" height="21.50" fill="#dbe9ba" stroke="#111" stroke-width="1"/>
<line x1="151.10" y1="290.50" x2="151.10" y2="300.00" stroke="#111" stroke-width="1"/>
<line x1="144.80" y1="290.50" x2="157.50" y2="290.50" stroke="#111" stroke-width="1"/>
<line x1="151.10" y1="321.50" x2="151.10" y2="331.60" stroke="#111" stroke-width="1"/>
<line x1="139.90" y1="310.40" x2="162.30" y2="310.40" stroke="#ee2b22" stroke-width="1.3"/>
<circle cx="151.1" cy="239.2" r="2.1" fill="none" stroke="#111" stroke-width="1"/>
<circle cx="151.1" cy="266.8" r="2.1" fill="none" stroke="#111" stroke-width="1"/>
<rect x="218.50" y="271.60" width="23.80" height="40.50" fill="#fde09c" stroke="#111" stroke-width="1"/>
<line x1="230.20" y1="261.40" x2="230.20" y2="271.60" stroke="#111" stroke-width="1"/>
<line x1="224.20" y1="261.40" x2="236.90" y2="261.40" stroke="#111" stroke-width="1"/>
<line x1="230.20" y1="312.10" x2="230.20" y2="327.00" stroke="#111" stroke-width="1"/>
<line x1="224.20" y1="327.00" x2="236.90" y2="327.00" stroke="#111" stroke-width="1"/>
<line x1="219.00" y1="301.00" x2="241.80" y2="301.00" stroke="#ee2b22" stroke-width="1.3"/>
<circle cx="230.2" cy="236.1" r="2.1" fill="none" stroke="#111" stroke-width="1"/>
<circle cx="230.2" cy="243.4" r="2.1" fill="none" stroke="#111" stroke-width="1"/>
<circle cx="230.2" cy="245" r="2.1" fill="none" stroke="#111" stroke-width="1"/>
<circle cx="230.2" cy="255.1" r="2.1" fill="none" stroke="#111" stroke-width="1"/>
<circle cx="230.2" cy="257.3" r="2.1" fill="none" stroke="#111" stroke-width="1"/>
<circle cx="230.2" cy="259" r="2.1" fill="none" stroke="#111" stroke-width="1"/>
<rect x="33.00" y="231.50" width="236.20" height="100.10" fill="none" stroke="#333" stroke-width="1"/>
<line x1="72.40" y1="231.50" x2="72.40" y2="234.00" stroke="#333" stroke-width="1"/>
<line x1="72.40" y1="331.60" x2="72.40" y2="329.10" stroke="#333" stroke-width="1"/>
<text x="72.40" y="345.60" font-size="11.8" text-anchor="middle" font-weight="normal" font-style="normal" fill="#1a1a1a">Planar</text>
<line x1="151.10" y1="231.50" x2="151.10" y2="234.00" stroke="#333" stroke-width="1"/>
<line x1="151.10" y1="331.60" x2="151.10" y2="329.10" stroke="#333" stroke-width="1"/>
<text x="151.10" y="345.60" font-size="11.8" text-anchor="middle" font-weight="normal" font-style="normal" fill="#1a1a1a">Clusters</text>
<line x1="230.20" y1="231.50" x2="230.20" y2="234.00" stroke="#333" stroke-width="1"/>
<line x1="230.20" y1="331.60" x2="230.20" y2="329.10" stroke="#333" stroke-width="1"/>
<text x="230.20" y="345.60" font-size="11.8" text-anchor="middle" font-weight="normal" font-style="normal" fill="#1a1a1a">3D</text>
<line x1="33.00" y1="330.71" x2="34.80" y2="330.71" stroke="#333" stroke-width="1"/>
<line x1="269.20" y1="330.71" x2="267.40" y2="330.71" stroke="#333" stroke-width="1"/>
<line x1="33.00" y1="328.80" x2="34.80" y2="328.80" stroke="#333" stroke-width="1"/>
<line x1="269.20" y1="328.80" x2="267.40" y2="328.80" stroke="#333" stroke-width="1"/>
<line x1="33.00" y1="327.11" x2="34.80" y2="327.11" stroke="#333" stroke-width="1"/>
<line x1="269.20" y1="327.11" x2="267.40" y2="327.11" stroke="#333" stroke-width="1"/>
<line x1="33.00" y1="325.60" x2="36.00" y2="325.60" stroke="#333" stroke-width="1"/>
<line x1="269.20" y1="325.60" x2="266.20" y2="325.60" stroke="#333" stroke-width="1"/>
<line x1="33.00" y1="315.67" x2="34.80" y2="315.67" stroke="#333" stroke-width="1"/>
<line x1="269.20" y1="315.67" x2="267.40" y2="315.67" stroke="#333" stroke-width="1"/>
<line x1="33.00" y1="309.85" x2="34.80" y2="309.85" stroke="#333" stroke-width="1"/>
<line x1="269.20" y1="309.85" x2="267.40" y2="309.85" stroke="#333" stroke-width="1"/>
<line x1="33.00" y1="305.73" x2="34.80" y2="305.73" stroke="#333" stroke-width="1"/>
<line x1="269.20" y1="305.73" x2="267.40" y2="305.73" stroke="#333" stroke-width="1"/>
<line x1="33.00" y1="302.53" x2="34.80" y2="302.53" stroke="#333" stroke-width="1"/>
<line x1="269.20" y1="302.53" x2="267.40" y2="302.53" stroke="#333" stroke-width="1"/>
<line x1="33.00" y1="299.92" x2="34.80" y2="299.92" stroke="#333" stroke-width="1"/>
<line x1="269.20" y1="299.92" x2="267.40" y2="299.92" stroke="#333" stroke-width="1"/>
<line x1="33.00" y1="297.71" x2="34.80" y2="297.71" stroke="#333" stroke-width="1"/>
<line x1="269.20" y1="297.71" x2="267.40" y2="297.71" stroke="#333" stroke-width="1"/>
<line x1="33.00" y1="295.80" x2="34.80" y2="295.80" stroke="#333" stroke-width="1"/>
<line x1="269.20" y1="295.80" x2="267.40" y2="295.80" stroke="#333" stroke-width="1"/>
<line x1="33.00" y1="294.11" x2="34.80" y2="294.11" stroke="#333" stroke-width="1"/>
<line x1="269.20" y1="294.11" x2="267.40" y2="294.11" stroke="#333" stroke-width="1"/>
<line x1="33.00" y1="292.60" x2="36.00" y2="292.60" stroke="#333" stroke-width="1"/>
<line x1="269.20" y1="292.60" x2="266.20" y2="292.60" stroke="#333" stroke-width="1"/>
<line x1="33.00" y1="282.67" x2="34.80" y2="282.67" stroke="#333" stroke-width="1"/>
<line x1="269.20" y1="282.67" x2="267.40" y2="282.67" stroke="#333" stroke-width="1"/>
<line x1="33.00" y1="276.85" x2="34.80" y2="276.85" stroke="#333" stroke-width="1"/>
<line x1="269.20" y1="276.85" x2="267.40" y2="276.85" stroke="#333" stroke-width="1"/>
<line x1="33.00" y1="272.73" x2="34.80" y2="272.73" stroke="#333" stroke-width="1"/>
<line x1="269.20" y1="272.73" x2="267.40" y2="272.73" stroke="#333" stroke-width="1"/>
<line x1="33.00" y1="269.53" x2="34.80" y2="269.53" stroke="#333" stroke-width="1"/>
<line x1="269.20" y1="269.53" x2="267.40" y2="269.53" stroke="#333" stroke-width="1"/>
<line x1="33.00" y1="266.92" x2="34.80" y2="266.92" stroke="#333" stroke-width="1"/>
<line x1="269.20" y1="266.92" x2="267.40" y2="266.92" stroke="#333" stroke-width="1"/>
<line x1="33.00" y1="264.71" x2="34.80" y2="264.71" stroke="#333" stroke-width="1"/>
<line x1="269.20" y1="264.71" x2="267.40" y2="264.71" stroke="#333" stroke-width="1"/>
<line x1="33.00" y1="262.80" x2="34.80" y2="262.80" stroke="#333" stroke-width="1"/>
<line x1="269.20" y1="262.80" x2="267.40" y2="262.80" stroke="#333" stroke-width="1"/>
<line x1="33.00" y1="261.11" x2="34.80" y2="261.11" stroke="#333" stroke-width="1"/>
<line x1="269.20" y1="261.11" x2="267.40" y2="261.11" stroke="#333" stroke-width="1"/>
<line x1="33.00" y1="259.60" x2="36.00" y2="259.60" stroke="#333" stroke-width="1"/>
<line x1="269.20" y1="259.60" x2="266.20" y2="259.60" stroke="#333" stroke-width="1"/>
<line x1="33.00" y1="249.67" x2="34.80" y2="249.67" stroke="#333" stroke-width="1"/>
<line x1="269.20" y1="249.67" x2="267.40" y2="249.67" stroke="#333" stroke-width="1"/>
<line x1="33.00" y1="243.85" x2="34.80" y2="243.85" stroke="#333" stroke-width="1"/>
<line x1="269.20" y1="243.85" x2="267.40" y2="243.85" stroke="#333" stroke-width="1"/>
<line x1="33.00" y1="239.73" x2="34.80" y2="239.73" stroke="#333" stroke-width="1"/>
<line x1="269.20" y1="239.73" x2="267.40" y2="239.73" stroke="#333" stroke-width="1"/>
<line x1="33.00" y1="236.53" x2="34.80" y2="236.53" stroke="#333" stroke-width="1"/>
<line x1="269.20" y1="236.53" x2="267.40" y2="236.53" stroke="#333" stroke-width="1"/>
<line x1="33.00" y1="233.92" x2="34.80" y2="233.92" stroke="#333" stroke-width="1"/>
<line x1="269.20" y1="233.92" x2="267.40" y2="233.92" stroke="#333" stroke-width="1"/>
<line x1="33.00" y1="231.71" x2="34.80" y2="231.71" stroke="#333" stroke-width="1"/>
<line x1="269.20" y1="231.71" x2="267.40" y2="231.71" stroke="#333" stroke-width="1"/>
<text x="29.50" y="263.80" font-size="11.8" text-anchor="end" font-weight="normal" font-style="normal" fill="#1a1a1a">10</text>
<text x="29.50" y="296.80" font-size="11.8" text-anchor="end" font-weight="normal" font-style="normal" fill="#1a1a1a">1</text>
<text x="29.50" y="329.80" font-size="11.8" text-anchor="end" font-weight="normal" font-style="normal" fill="#1a1a1a">0.1</text>
<text x="42.90" y="245.70" font-size="12" text-anchor="middle" font-weight="bold" font-style="normal" fill="#1a1a1a">b</text>
<text transform="translate(9,283.5) rotate(-90)" font-size="12" text-anchor="middle" fill="#1a1a1a">Raman Ga<tspan font-size="7" dy="2.5">2</tspan><tspan dy="-2.5">Se</tspan><tspan font-size="7" dy="2.5">3</tspan><tspan dy="-2.5">/GaSe ratio</tspan></text>
<path d="M496.3,11.6 C500.4,11.2 506.1,12.3 510.7,14.9 C515.3,17.5 521.0,22.4 523.9,27.0 C526.8,31.6 527.9,36.9 528.3,42.4 C528.7,47.9 527.0,53.7 526.1,60.0 C525.2,66.3 524.5,72.8 522.7,80.0 C520.9,87.2 518.5,96.3 515.4,103.1 C512.3,109.8 508.2,114.7 503.9,120.5 C499.6,126.3 495.2,133.0 489.4,137.8 C483.6,142.6 475.9,146.6 469.2,149.4 C462.4,152.2 454.9,153.8 448.9,154.6 C442.9,155.4 437.5,154.9 433.0,154.0 C428.5,153.1 424.8,151.7 422.0,149.0 C419.2,146.3 416.0,143.2 416.5,138.0 C417.0,132.8 420.2,125.7 425.0,118.0 C429.8,110.3 438.3,101.3 445.0,92.0 C451.7,82.7 459.5,71.5 465.0,62.0 C470.5,52.5 474.5,42.5 478.0,35.0 C481.5,27.5 482.9,20.9 486.0,17.0 C489.1,13.1 492.2,11.9 496.3,11.6Z" fill="#e8f4fc" stroke="#333" stroke-width="0.9" stroke-dasharray="3,2"/>
<path d="M348.4,67.0 C350.0,60.1 352.1,53.4 354.6,48.0 C357.1,42.6 359.8,38.3 363.3,34.5 C366.8,30.7 370.8,27.9 375.7,25.3 C380.6,22.7 387.2,20.4 393.0,18.8 C398.8,17.2 404.9,16.2 410.4,15.5 C415.9,14.8 421.1,14.6 426.0,14.4 C430.9,14.2 434.0,14.3 440.0,14.6 C446.0,14.9 455.7,15.0 462.0,16.0 C468.3,17.0 473.2,18.6 478.0,20.5 C482.8,22.4 487.6,24.6 491.0,27.5 C494.4,30.4 496.9,34.4 498.5,38.0 C500.1,41.6 500.7,45.3 500.5,49.0 C500.3,52.7 499.3,56.2 497.4,60.0 C495.5,63.8 492.9,66.8 489.0,71.5 C485.1,76.2 479.7,82.6 474.0,88.0 C468.3,93.4 461.3,98.5 455.0,104.0 C448.7,109.5 442.2,115.8 436.2,121.0 C430.2,126.2 423.7,131.0 418.9,135.0 C414.1,139.0 411.6,142.0 407.3,145.0 C403.0,148.0 397.6,151.0 392.8,153.0 C388.0,155.0 382.7,156.5 378.4,157.0 C374.1,157.5 370.7,157.5 366.8,155.8 C362.9,154.1 358.4,151.0 355.2,147.0 C352.0,143.0 349.4,137.8 347.5,132.0 C345.6,126.2 344.4,119.1 344.0,112.0 C343.6,104.9 344.1,96.8 344.8,89.3 C345.5,81.8 346.8,73.9 348.4,67.0Z" fill="#fff2d4" stroke="#333" stroke-width="0.9" stroke-dasharray="3,2"/>
<polygon points="372.7,36.1 380.0,43.4 372.7,50.7 365.4,43.4" fill="#f04e37" stroke="#333" stroke-width="0.9"/>
<polygon points="437.4,25.7 444.7,33.0 437.4,40.3 430.1,33.0" fill="#fdc82f" stroke="#333" stroke-width="0.9"/>
<polygon points="372.0,87.7 379.3,95.0 372.0,102.3 364.7,95.0" fill="#fdc82f" stroke="#333" stroke-width="0.9"/>
<polygon points="372.0,131.4 379.3,138.7 372.0,146.0 364.7,138.7" fill="#fdc82f" stroke="#333" stroke-width="0.9"/>
<polygon points="437.4,109.4 444.7,116.7 437.4,124.0 430.1,116.7" fill="#8cc43c" stroke="#333" stroke-width="0.9"/>
<polygon points="433.6,136.9 440.9,144.2 433.6,151.5 426.3,144.2" fill="#56c2d2" stroke="#333" stroke-width="0.9"/>
<polygon points="410.8,154.0 418.1,161.3 410.8,168.6 403.5,161.3" fill="#e2e2e2" stroke="#333" stroke-width="0.9"/>
<polygon points="484.2,15.1 491.5,22.4 484.2,29.7 476.9,22.4" fill="#8cc43c" stroke="#333" stroke-width="0.9"/>
<polygon points="503.3,15.1 510.6,22.4 503.3,29.7 496.0,22.4" fill="#56c2d2" stroke="#333" stroke-width="0.9"/>
<polygon points="484.2,36.2 491.5,43.5 484.2,50.8 476.9,43.5" fill="#fdc82f" stroke="#333" stroke-width="0.9"/>
<polygon points="484.2,46.8 491.5,54.1 484.2,61.4 476.9,54.1" fill="#f04e37" stroke="#333" stroke-width="0.9"/>
<polygon points="503.3,40.4 510.6,47.7 503.3,55.0 496.0,47.7" fill="#8cc43c" stroke="#333" stroke-width="0.9"/>
<polygon points="506.5,41.1 513.8,48.4 506.5,55.7 499.2,48.4" fill="#56c2d2" stroke="#333" stroke-width="0.9"/>
<polygon points="523.6,36.2 530.9,43.5 523.6,50.8 516.3,43.5" fill="#56c2d2" stroke="#333" stroke-width="0.9"/>
<polygon points="461.1,66.7 468.4,74.0 461.1,81.3 453.8,74.0" fill="#fdc82f" stroke="#333" stroke-width="0.9"/>
<polygon points="483.6,88.6 490.9,95.9 483.6,103.2 476.3,95.9" fill="#56c2d2" stroke="#333" stroke-width="0.9"/>
<polygon points="483.6,82.8 490.9,90.1 483.6,97.4 476.3,90.1" fill="#5b92d4" stroke="#333" stroke-width="0.9"/>
<polygon points="483.6,121.0 490.9,128.3 483.6,135.6 476.3,128.3" fill="#56c2d2" stroke="#333" stroke-width="0.9"/>
<polygon points="483.6,109.4 490.9,116.7 483.6,124.0 476.3,116.7" fill="#5b92d4" stroke="#333" stroke-width="0.9"/>
<text x="418.50" y="77.20" font-size="9" text-anchor="middle" font-weight="normal" font-style="normal" fill="#1a1a1a" transform="rotate(-29.5 418.5 77.2)">Spots + Rings</text>
<line x1="499.50" y1="155.80" x2="490.50" y2="144.50" stroke="#222" stroke-width="1"/>
<polygon points="488.3,141.6 489.2,147.6 493.8,144.0" fill="#222" stroke="none" stroke-width="1"/>
<text x="505.50" y="164.00" font-size="8.7" text-anchor="middle" font-weight="normal" font-style="normal" fill="#1a1a1a" transform="rotate(-29 505.5 164)">Streaks</text>
<rect x="335.70" y="4.80" width="347.80" height="180.20" fill="none" stroke="#333" stroke-width="1"/>
<line x1="345.60" y1="185.00" x2="345.60" y2="182.50" stroke="#333" stroke-width="1"/>
<text x="345.60" y="198.50" font-size="11.8" text-anchor="middle" font-weight="normal" font-style="normal" fill="#1a1a1a">540</text>
<line x1="378.10" y1="185.00" x2="378.10" y2="182.50" stroke="#333" stroke-width="1"/>
<text x="378.10" y="198.50" font-size="11.8" text-anchor="middle" font-weight="normal" font-style="normal" fill="#1a1a1a">560</text>
<line x1="410.60" y1="185.00" x2="410.60" y2="182.50" stroke="#333" stroke-width="1"/>
<text x="410.60" y="198.50" font-size="11.8" text-anchor="middle" font-weight="normal" font-style="normal" fill="#1a1a1a">580</text>
<line x1="443.10" y1="185.00" x2="443.10" y2="182.50" stroke="#333" stroke-width="1"/>
<text x="443.10" y="198.50" font-size="11.8" text-anchor="middle" font-weight="normal" font-style="normal" fill="#1a1a1a">600</text>
<line x1="475.60" y1="185.00" x2="475.60" y2="182.50" stroke="#333" stroke-width="1"/>
<text x="475.60" y="198.50" font-size="11.8" text-anchor="middle" font-weight="normal" font-style="normal" fill="#1a1a1a">620</text>
<line x1="508.10" y1="185.00" x2="508.10" y2="182.50" stroke="#333" stroke-width="1"/>
<text x="508.10" y="198.50" font-size="11.8" text-anchor="middle" font-weight="normal" font-style="normal" fill="#1a1a1a">640</text>
<line x1="357.00" y1="4.80" x2="357.00" y2="7.30" stroke="#333" stroke-width="1"/>
<line x1="389.50" y1="4.80" x2="389.50" y2="7.30" stroke="#333" stroke-width="1"/>
<line x1="422.00" y1="4.80" x2="422.00" y2="7.30" stroke="#333" stroke-width="1"/>
<line x1="454.40" y1="4.80" x2="454.40" y2="7.30" stroke="#333" stroke-width="1"/>
<line x1="486.60" y1="4.80" x2="486.60" y2="7.30" stroke="#333" stroke-width="1"/>
<line x1="518.90" y1="4.80" x2="518.90" y2="7.30" stroke="#333" stroke-width="1"/>
<line x1="335.70" y1="176.56" x2="337.50" y2="176.56" stroke="#333" stroke-width="1"/>
<line x1="335.70" y1="168.97" x2="337.50" y2="168.97" stroke="#333" stroke-width="1"/>
<line x1="335.70" y1="162.39" x2="337.50" y2="162.39" stroke="#333" stroke-width="1"/>
<line x1="335.70" y1="156.59" x2="337.50" y2="156.59" stroke="#333" stroke-width="1"/>
<line x1="335.70" y1="151.40" x2="338.70" y2="151.40" stroke="#333" stroke-width="1"/>
<line x1="335.70" y1="117.26" x2="337.50" y2="117.26" stroke="#333" stroke-width="1"/>
<line x1="335.70" y1="97.29" x2="337.50" y2="97.29" stroke="#333" stroke-width="1"/>
<line x1="335.70" y1="83.13" x2="337.50" y2="83.13" stroke="#333" stroke-width="1"/>
<line x1="335.70" y1="72.14" x2="337.50" y2="72.14" stroke="#333" stroke-width="1"/>
<line x1="335.70" y1="63.16" x2="337.50" y2="63.16" stroke="#333" stroke-width="1"/>
<line x1="335.70" y1="55.57" x2="337.50" y2="55.57" stroke="#333" stroke-width="1"/>
<line x1="335.70" y1="48.99" x2="337.50" y2="48.99" stroke="#333" stroke-width="1"/>
<line x1="335.70" y1="43.19" x2="337.50" y2="43.19" stroke="#333" stroke-width="1"/>
<line x1="335.70" y1="38.00" x2="338.70" y2="38.00" stroke="#333" stroke-width="1"/>
<text x="332.00" y="42.20" font-size="11.8" text-anchor="end" font-weight="normal" font-style="normal" fill="#1a1a1a">100</text>
<text x="332.00" y="155.60" font-size="11.8" text-anchor="end" font-weight="normal" font-style="normal" fill="#1a1a1a">10</text>
<line x1="683.50" y1="30.90" x2="680.50" y2="30.90" stroke="#333" stroke-width="1"/>
<line x1="683.50" y1="34.00" x2="681.70" y2="34.00" stroke="#333" stroke-width="1"/>
<line x1="683.50" y1="40.60" x2="681.70" y2="40.60" stroke="#333" stroke-width="1"/>
<line x1="683.50" y1="48.40" x2="681.70" y2="48.40" stroke="#333" stroke-width="1"/>
<line x1="683.50" y1="56.30" x2="681.70" y2="56.30" stroke="#333" stroke-width="1"/>
<line x1="683.50" y1="66.80" x2="681.70" y2="66.80" stroke="#333" stroke-width="1"/>
<line x1="683.50" y1="83.80" x2="681.70" y2="83.80" stroke="#333" stroke-width="1"/>
<line x1="683.50" y1="96.30" x2="681.70" y2="96.30" stroke="#333" stroke-width="1"/>
<line x1="683.50" y1="117.30" x2="681.70" y2="117.30" stroke="#333" stroke-width="1"/>
<line x1="683.50" y1="143.40" x2="680.50" y2="143.40" stroke="#333" stroke-width="1"/>
<line x1="683.50" y1="147.40" x2="681.70" y2="147.40" stroke="#333" stroke-width="1"/>
<line x1="683.50" y1="153.90" x2="681.70" y2="153.90" stroke="#333" stroke-width="1"/>
<line x1="683.50" y1="161.80" x2="681.70" y2="161.80" stroke="#333" stroke-width="1"/>
<line x1="683.50" y1="170.90" x2="681.70" y2="170.90" stroke="#333" stroke-width="1"/>
<line x1="683.50" y1="182.70" x2="681.70" y2="182.70" stroke="#333" stroke-width="1"/>
<text transform="translate(315.8,88) rotate(-90)" font-size="12" text-anchor="middle" fill="#1a1a1a"><tspan font-style="italic" stroke="#1a1a1a" stroke-width="0.35">Φ</tspan><tspan font-size="6" dy="2" fill="#333">Se/Ga</tspan></text>
<text x="439" y="214.8" font-size="12" text-anchor="middle" fill="#1a1a1a"><tspan font-style="italic">T</tspan><tspan font-size="5.8" dy="2.5" font-style="italic" fill="#333">sub</tspan><tspan dy="-2.5"> (°C)</tspan></text>
<text x="344.20" y="21.00" font-size="12" text-anchor="middle" font-weight="bold" font-style="normal" fill="#1a1a1a">c</text>
<rect x="547.80" y="12.20" width="119.20" height="116.40" fill="#fff" stroke="none" stroke-width="1"/>
<polyline points="667.0,16.0 634.0,16.0 634.0,22.1 667.0,22.1" fill="none" stroke="#8dc63f" stroke-width="1.7" stroke-linejoin="miter" stroke-linecap="square"/>
<polyline points="634.0,18.8 621.0,18.8 621.0,28.2 667.0,28.2" fill="none" stroke="#8dc63f" stroke-width="1.7" stroke-linejoin="miter" stroke-linecap="square"/>
<polyline points="667.0,34.3 645.8,34.3 645.8,40.3 667.0,40.3" fill="none" stroke="#f15a40" stroke-width="1.7" stroke-linejoin="miter" stroke-linecap="square"/>
<polyline points="645.8,37.6 638.4,37.6 638.4,42.3" fill="none" stroke="#f15a40" stroke-width="1.7" stroke-linejoin="miter" stroke-linecap="square"/>
<polyline points="638.4,42.3 638.4,46.4 667.0,46.4" fill="none" stroke="#bdbdbd" stroke-width="1.7" stroke-linejoin="miter" stroke-linecap="square"/>
<polyline points="667.0,52.7 645.1,52.7 645.1,58.5 667.0,58.5" fill="none" stroke="#fcc62f" stroke-width="1.7" stroke-linejoin="miter" stroke-linecap="square"/>
<polyline points="645.1,55.5 640.0,55.5 640.0,68.0 642.8,68.0" fill="none" stroke="#fcc62f" stroke-width="1.7" stroke-linejoin="miter" stroke-linecap="square"/>
<polyline points="667.0,65.0 642.8,65.0 642.8,70.8 667.0,70.8" fill="none" stroke="#fcc62f" stroke-width="1.7" stroke-linejoin="miter" stroke-linecap="square"/>
<polyline points="640.0,66.3 618.0,66.3 618.0,76.7 667.0,76.7" fill="none" stroke="#fcc62f" stroke-width="1.7" stroke-linejoin="miter" stroke-linecap="square"/>
<polyline points="667.0,83.5 638.5,83.5 638.5,88.8 667.0,88.8" fill="none" stroke="#5dc3d3" stroke-width="1.7" stroke-linejoin="miter" stroke-linecap="square"/>
<polyline points="638.5,86.0 634.8,86.0 634.8,98.7 641.0,98.7" fill="none" stroke="#5dc3d3" stroke-width="1.7" stroke-linejoin="miter" stroke-linecap="square"/>
<polyline points="667.0,95.7 641.0,95.7 641.0,101.2 667.0,101.2" fill="none" stroke="#5dc3d3" stroke-width="1.7" stroke-linejoin="miter" stroke-linecap="square"/>
<polyline points="634.8,92.2 625.0,92.2 625.0,111.1 638.2,111.1" fill="none" stroke="#5dc3d3" stroke-width="1.7" stroke-linejoin="miter" stroke-linecap="square"/>
<polyline points="667.0,107.8 638.2,107.8 638.2,113.6 667.0,113.6" fill="none" stroke="#5dc3d3" stroke-width="1.7" stroke-linejoin="miter" stroke-linecap="square"/>
<polyline points="667.0,119.8 628.3,119.8 628.3,126.0 667.0,126.0" fill="none" stroke="#5b8fd4" stroke-width="1.7" stroke-linejoin="miter" stroke-linecap="square"/>
<polyline points="621.0,23.5 615.3,23.5 615.3,42.3 638.4,42.3" fill="none" stroke="#111" stroke-width="2.0" stroke-linejoin="miter" stroke-linecap="square"/>
<polyline points="615.3,32.7 599.3,32.7 599.3,71.5 618.0,71.5" fill="none" stroke="#111" stroke-width="2.0" stroke-linejoin="miter" stroke-linecap="square"/>
<polyline points="599.3,54.8 553.8,54.8 553.8,108.4 614.6,108.4" fill="none" stroke="#111" stroke-width="2.0" stroke-linejoin="miter" stroke-linecap="square"/>
<polyline points="625.0,99.8 614.6,99.8 614.6,122.9 628.3,122.9" fill="none" stroke="#111" stroke-width="2.0" stroke-linejoin="miter" stroke-linecap="square"/>
<rect x="547.80" y="12.20" width="119.20" height="116.40" fill="none" stroke="#222" stroke-width="1"/>
<line x1="571.65" y1="12.20" x2="571.65" y2="14.20" stroke="#333" stroke-width="1"/>
<line x1="571.65" y1="128.60" x2="571.65" y2="126.60" stroke="#333" stroke-width="1"/>
<line x1="595.50" y1="12.20" x2="595.50" y2="14.20" stroke="#333" stroke-width="1"/>
<line x1="595.50" y1="128.60" x2="595.50" y2="126.60" stroke="#333" stroke-width="1"/>
<line x1="619.35" y1="12.20" x2="619.35" y2="14.20" stroke="#333" stroke-width="1"/>
<line x1="619.35" y1="128.60" x2="619.35" y2="126.60" stroke="#333" stroke-width="1"/>
<line x1="643.20" y1="12.20" x2="643.20" y2="14.20" stroke="#333" stroke-width="1"/>
<line x1="643.20" y1="128.60" x2="643.20" y2="126.60" stroke="#333" stroke-width="1"/>
<line x1="547.80" y1="19.70" x2="549.60" y2="19.70" stroke="#333" stroke-width="1"/>
<line x1="547.80" y1="27.20" x2="549.60" y2="27.20" stroke="#333" stroke-width="1"/>
<line x1="547.80" y1="34.70" x2="549.60" y2="34.70" stroke="#333" stroke-width="1"/>
<line x1="547.80" y1="42.20" x2="549.60" y2="42.20" stroke="#333" stroke-width="1"/>
<line x1="547.80" y1="49.70" x2="549.60" y2="49.70" stroke="#333" stroke-width="1"/>
<line x1="547.80" y1="57.20" x2="549.60" y2="57.20" stroke="#333" stroke-width="1"/>
<line x1="547.80" y1="64.70" x2="549.60" y2="64.70" stroke="#333" stroke-width="1"/>
<line x1="547.80" y1="72.20" x2="549.60" y2="72.20" stroke="#333" stroke-width="1"/>
<line x1="547.80" y1="79.70" x2="549.60" y2="79.70" stroke="#333" stroke-width="1"/>
<line x1="547.80" y1="87.20" x2="549.60" y2="87.20" stroke="#333" stroke-width="1"/>
<line x1="547.80" y1="94.70" x2="549.60" y2="94.70" stroke="#333" stroke-width="1"/>
<line x1="547.80" y1="102.20" x2="549.60" y2="102.20" stroke="#333" stroke-width="1"/>
<line x1="547.80" y1="109.70" x2="549.60" y2="109.70" stroke="#333" stroke-width="1"/>
<line x1="547.80" y1="117.20" x2="549.60" y2="117.20" stroke="#333" stroke-width="1"/>
<line x1="547.80" y1="124.70" x2="549.60" y2="124.70" stroke="#333" stroke-width="1"/>
<text x="583.30" y="34.40" font-size="8.5" text-anchor="middle" font-weight="normal" font-style="normal" fill="#1a1a1a" transform="rotate(-28 583.3 34.4)">Spots + Rings</text>
<text x="572.10" y="98.30" font-size="9" text-anchor="middle" font-weight="normal" font-style="normal" fill="#1a1a1a" transform="rotate(-28 572.1 98.3)">Streaks</text>
<text x="607.50" y="143.80" font-size="10.7" text-anchor="middle" font-weight="normal" font-style="normal" fill="#1a1a1a">Cluster distance (arb.units)</text>
<rect x="561.20" y="151.60" width="5.80" height="3.60" fill="#8dc63f" stroke="none" stroke-width="1"/>
<text x="572.20" y="156.20" font-size="8.7" text-anchor="start" font-weight="normal" font-style="normal" fill="#1a1a1a">mixed</text>
<rect x="561.20" y="161.40" width="5.80" height="3.60" fill="#f15a40" stroke="none" stroke-width="1"/>
<text x="572.20" y="166.00" font-size="8.7" text-anchor="start" font-weight="normal" font-style="normal" fill="#1a1a1a">spots</text>
<rect x="561.20" y="172.00" width="5.80" height="3.60" fill="#fcc62f" stroke="none" stroke-width="1"/>
<text x="572.20" y="176.60" font-size="8.7" text-anchor="start" font-weight="normal" font-style="normal" fill="#1a1a1a">rings</text>
<rect x="608.20" y="151.60" width="5.80" height="3.60" fill="#e3e3e3" stroke="none" stroke-width="1"/>
<text x="619.20" y="156.20" font-size="8.7" text-anchor="start" font-weight="normal" font-style="normal" fill="#1a1a1a">no pattern</text>
<rect x="608.20" y="161.40" width="5.80" height="3.60" fill="#5dc3d3" stroke="none" stroke-width="1"/>
<text x="619.20" y="166.00" font-size="8.7" text-anchor="start" font-weight="normal" font-style="normal" fill="#1a1a1a">streaks</text>
<rect x="608.20" y="172.00" width="5.80" height="3.60" fill="#5b8fd4" stroke="none" stroke-width="1"/>
<text x="619.20" y="176.60" font-size="8.7" text-anchor="start" font-weight="normal" font-style="normal" fill="#1a1a1a">streaks</text>
<rect x="335.80" y="267.00" width="347.50" height="18.60" fill="#dcdcdc" stroke="none" stroke-width="1"/>
<line x1="335.80" y1="276.50" x2="683.30" y2="276.50" stroke="#e8141b" stroke-width="1.4"/>
<line x1="335.80" y1="282.20" x2="683.30" y2="282.20" stroke="#5b9bd5" stroke-width="1.2" stroke-dasharray="4,2.5"/>
<line x1="343.40" y1="274.80" x2="343.40" y2="292.60" stroke="#111" stroke-width="1.3"/>
<line x1="347.00" y1="269.80" x2="347.00" y2="297.30" stroke="#111" stroke-width="1.3"/>
<line x1="348.90" y1="253.40" x2="348.90" y2="298.70" stroke="#111" stroke-width="1.3"/>
<line x1="352.50" y1="235.50" x2="352.50" y2="302.80" stroke="#111" stroke-width="1.3"/>
<line x1="357.20" y1="264.30" x2="357.20" y2="303.60" stroke="#111" stroke-width="1.3"/>
<line x1="369.50" y1="245.70" x2="369.50" y2="326.70" stroke="#111" stroke-width="1.3"/>
<line x1="373.40" y1="275.30" x2="373.40" y2="326.70" stroke="#111" stroke-width="1.3"/>
<line x1="388.70" y1="266.40" x2="388.70" y2="276.70" stroke="#111" stroke-width="1.3"/>
<line x1="427.40" y1="272.00" x2="427.40" y2="282.00" stroke="#111" stroke-width="1.3"/>
<line x1="427.40" y1="275.20" x2="427.40" y2="297.30" stroke="#111" stroke-width="1.3"/>
<line x1="439.20" y1="269.30" x2="439.20" y2="284.00" stroke="#111" stroke-width="1.3"/>
<line x1="444.20" y1="275.80" x2="444.20" y2="285.00" stroke="#111" stroke-width="1.3"/>
<line x1="444.20" y1="284.00" x2="444.20" y2="294.40" stroke="#111" stroke-width="1.3"/>
<line x1="462.50" y1="256.00" x2="462.50" y2="295.30" stroke="#111" stroke-width="1.3"/>
<line x1="492.90" y1="265.80" x2="492.90" y2="297.30" stroke="#111" stroke-width="1.3"/>
<line x1="508.30" y1="245.10" x2="508.30" y2="326.80" stroke="#111" stroke-width="1.3"/>
<line x1="550.50" y1="274.60" x2="550.50" y2="293.50" stroke="#111" stroke-width="1.3"/>
<line x1="576.70" y1="269.90" x2="576.70" y2="287.00" stroke="#111" stroke-width="1.3"/>
<line x1="580.50" y1="256.00" x2="580.50" y2="295.80" stroke="#111" stroke-width="1.3"/>
<line x1="606.20" y1="266.30" x2="606.20" y2="276.70" stroke="#111" stroke-width="1.3"/>
<line x1="632.20" y1="236.30" x2="632.20" y2="326.80" stroke="#111" stroke-width="1.3"/>
<line x1="653.40" y1="265.80" x2="653.40" y2="280.50" stroke="#111" stroke-width="1.3"/>
<line x1="657.90" y1="285.50" x2="657.90" y2="297.90" stroke="#111" stroke-width="1.3"/>
<line x1="676.40" y1="269.30" x2="676.40" y2="285.00" stroke="#111" stroke-width="1.3"/>
<circle cx="343.40" cy="283.60" r="2.7" fill="#000" stroke="none" stroke-width="1"/>
<circle cx="347.00" cy="278.60" r="2.7" fill="#000" stroke="none" stroke-width="1"/>
<circle cx="348.90" cy="276.70" r="2.7" fill="#000" stroke="none" stroke-width="1"/>
<circle cx="352.50" cy="269.30" r="2.7" fill="#000" stroke="none" stroke-width="1"/>
<circle cx="357.20" cy="284.40" r="2.7" fill="#000" stroke="none" stroke-width="1"/>
<circle cx="357.20" cy="287.70" r="2.7" fill="#000" stroke="none" stroke-width="1"/>
<circle cx="369.50" cy="283.60" r="2.7" fill="#000" stroke="none" stroke-width="1"/>
<circle cx="370.30" cy="286.90" r="2.7" fill="#000" stroke="none" stroke-width="1"/>
<circle cx="373.40" cy="300.90" r="2.7" fill="#000" stroke="none" stroke-width="1"/>
<circle cx="388.70" cy="271.70" r="2.7" fill="#000" stroke="none" stroke-width="1"/>
<circle cx="418.30" cy="309.10" r="2.7" fill="#000" stroke="none" stroke-width="1"/>
<circle cx="427.40" cy="277.60" r="2.7" fill="#000" stroke="none" stroke-width="1"/>
<circle cx="427.40" cy="290.00" r="2.7" fill="#000" stroke="none" stroke-width="1"/>
<circle cx="439.20" cy="276.70" r="2.7" fill="#000" stroke="none" stroke-width="1"/>
<circle cx="444.20" cy="281.10" r="2.7" fill="#000" stroke="none" stroke-width="1"/>
<circle cx="444.20" cy="289.40" r="2.7" fill="#000" stroke="none" stroke-width="1"/>
<circle cx="462.50" cy="276.10" r="2.7" fill="#000" stroke="none" stroke-width="1"/>
<circle cx="492.90" cy="272.80" r="2.7" fill="#000" stroke="none" stroke-width="1"/>
<circle cx="492.90" cy="287.00" r="2.7" fill="#000" stroke="none" stroke-width="1"/>
<circle cx="508.30" cy="276.70" r="2.7" fill="#000" stroke="none" stroke-width="1"/>
<circle cx="508.30" cy="281.70" r="2.7" fill="#000" stroke="none" stroke-width="1"/>
<circle cx="508.30" cy="286.10" r="2.7" fill="#000" stroke="none" stroke-width="1"/>
<circle cx="550.50" cy="284.00" r="2.7" fill="#000" stroke="none" stroke-width="1"/>
<circle cx="576.70" cy="278.10" r="2.7" fill="#000" stroke="none" stroke-width="1"/>
<circle cx="580.50" cy="275.80" r="2.7" fill="#000" stroke="none" stroke-width="1"/>
<circle cx="580.50" cy="287.00" r="2.7" fill="#000" stroke="none" stroke-width="1"/>
<circle cx="606.20" cy="271.70" r="2.7" fill="#000" stroke="none" stroke-width="1"/>
<circle cx="632.20" cy="269.90" r="2.7" fill="#000" stroke="none" stroke-width="1"/>
<circle cx="632.20" cy="283.50" r="2.7" fill="#000" stroke="none" stroke-width="1"/>
<circle cx="632.20" cy="286.40" r="2.7" fill="#000" stroke="none" stroke-width="1"/>
<circle cx="632.20" cy="289.40" r="2.7" fill="#000" stroke="none" stroke-width="1"/>
<circle cx="632.20" cy="301.20" r="2.7" fill="#000" stroke="none" stroke-width="1"/>
<circle cx="632.20" cy="309.70" r="2.7" fill="#000" stroke="none" stroke-width="1"/>
<circle cx="653.40" cy="272.80" r="2.7" fill="#000" stroke="none" stroke-width="1"/>
<circle cx="653.40" cy="278.10" r="2.7" fill="#000" stroke="none" stroke-width="1"/>
<circle cx="657.90" cy="290.00" r="2.7" fill="#000" stroke="none" stroke-width="1"/>
<circle cx="676.40" cy="277.30" r="2.7" fill="#000" stroke="none" stroke-width="1"/>
<rect x="335.80" y="231.40" width="164.70" height="100.20" fill="none" stroke="#333" stroke-width="1"/>
<rect x="500.50" y="231.40" width="182.80" height="100.20" fill="none" stroke="#333" stroke-width="1"/>
<line x1="500.50" y1="231.40" x2="500.50" y2="331.60" stroke="#222" stroke-width="1.1"/>
<line x1="357.10" y1="331.60" x2="357.10" y2="329.10" stroke="#333" stroke-width="1"/>
<line x1="357.10" y1="231.40" x2="357.10" y2="233.90" stroke="#333" stroke-width="1"/>
<text x="357.10" y="345.50" font-size="11.8" text-anchor="middle" font-weight="normal" font-style="normal" fill="#1a1a1a">20</text>
<line x1="381.00" y1="331.60" x2="381.00" y2="329.10" stroke="#333" stroke-width="1"/>
<line x1="381.00" y1="231.40" x2="381.00" y2="233.90" stroke="#333" stroke-width="1"/>
<text x="381.00" y="345.50" font-size="11.8" text-anchor="middle" font-weight="normal" font-style="normal" fill="#1a1a1a">40</text>
<line x1="404.90" y1="331.60" x2="404.90" y2="329.10" stroke="#333" stroke-width="1"/>
<line x1="404.90" y1="231.40" x2="404.90" y2="233.90" stroke="#333" stroke-width="1"/>
<text x="404.90" y="345.50" font-size="11.8" text-anchor="middle" font-weight="normal" font-style="normal" fill="#1a1a1a">60</text>
<line x1="428.80" y1="331.60" x2="428.80" y2="329.10" stroke="#333" stroke-width="1"/>
<line x1="428.80" y1="231.40" x2="428.80" y2="233.90" stroke="#333" stroke-width="1"/>
<text x="428.80" y="345.50" font-size="11.8" text-anchor="middle" font-weight="normal" font-style="normal" fill="#1a1a1a">80</text>
<line x1="452.70" y1="331.60" x2="452.70" y2="329.10" stroke="#333" stroke-width="1"/>
<line x1="452.70" y1="231.40" x2="452.70" y2="233.90" stroke="#333" stroke-width="1"/>
<text x="452.70" y="345.50" font-size="11.8" text-anchor="middle" font-weight="normal" font-style="normal" fill="#1a1a1a">100</text>
<line x1="476.60" y1="331.60" x2="476.60" y2="329.10" stroke="#333" stroke-width="1"/>
<line x1="476.60" y1="231.40" x2="476.60" y2="233.90" stroke="#333" stroke-width="1"/>
<text x="476.60" y="345.50" font-size="11.8" text-anchor="middle" font-weight="normal" font-style="normal" fill="#1a1a1a">120</text>
<line x1="514.20" y1="331.60" x2="514.20" y2="329.10" stroke="#333" stroke-width="1"/>
<line x1="514.20" y1="231.40" x2="514.20" y2="233.90" stroke="#333" stroke-width="1"/>
<text x="514.20" y="345.50" font-size="11.8" text-anchor="middle" font-weight="normal" font-style="normal" fill="#1a1a1a">560</text>
<line x1="550.40" y1="331.60" x2="550.40" y2="329.10" stroke="#333" stroke-width="1"/>
<line x1="550.40" y1="231.40" x2="550.40" y2="233.90" stroke="#333" stroke-width="1"/>
<text x="550.40" y="345.50" font-size="11.8" text-anchor="middle" font-weight="normal" font-style="normal" fill="#1a1a1a">580</text>
<line x1="586.60" y1="331.60" x2="586.60" y2="329.10" stroke="#333" stroke-width="1"/>
<line x1="586.60" y1="231.40" x2="586.60" y2="233.90" stroke="#333" stroke-width="1"/>
<text x="586.60" y="345.50" font-size="11.8" text-anchor="middle" font-weight="normal" font-style="normal" fill="#1a1a1a">600</text>
<line x1="622.80" y1="331.60" x2="622.80" y2="329.10" stroke="#333" stroke-width="1"/>
<line x1="622.80" y1="231.40" x2="622.80" y2="233.90" stroke="#333" stroke-width="1"/>
<text x="622.80" y="345.50" font-size="11.8" text-anchor="middle" font-weight="normal" font-style="normal" fill="#1a1a1a">620</text>
<line x1="659.00" y1="331.60" x2="659.00" y2="329.10" stroke="#333" stroke-width="1"/>
<line x1="659.00" y1="231.40" x2="659.00" y2="233.90" stroke="#333" stroke-width="1"/>
<text x="659.00" y="345.50" font-size="11.8" text-anchor="middle" font-weight="normal" font-style="normal" fill="#1a1a1a">640</text>
<text x="332.00" y="238.20" font-size="11.8" text-anchor="end" font-weight="normal" font-style="normal" fill="#1a1a1a">0.40</text>
<text x="332.00" y="262.47" font-size="11.8" text-anchor="end" font-weight="normal" font-style="normal" fill="#1a1a1a">0.39</text>
<text x="332.00" y="286.74" font-size="11.8" text-anchor="end" font-weight="normal" font-style="normal" fill="#1a1a1a">0.37</text>
<text x="332.00" y="311.01" font-size="11.8" text-anchor="end" font-weight="normal" font-style="normal" fill="#1a1a1a">0.35</text>
<line x1="335.80" y1="244.20" x2="337.80" y2="244.20" stroke="#333" stroke-width="1"/>
<line x1="500.50" y1="244.20" x2="502.50" y2="244.20" stroke="#333" stroke-width="1"/>
<line x1="500.50" y1="244.20" x2="498.50" y2="244.20" stroke="#333" stroke-width="1"/>
<line x1="683.30" y1="244.20" x2="681.30" y2="244.20" stroke="#333" stroke-width="1"/>
<line x1="335.80" y1="257.50" x2="337.80" y2="257.50" stroke="#333" stroke-width="1"/>
<line x1="500.50" y1="257.50" x2="502.50" y2="257.50" stroke="#333" stroke-width="1"/>
<line x1="500.50" y1="257.50" x2="498.50" y2="257.50" stroke="#333" stroke-width="1"/>
<line x1="683.30" y1="257.50" x2="681.30" y2="257.50" stroke="#333" stroke-width="1"/>
<line x1="335.80" y1="269.30" x2="337.80" y2="269.30" stroke="#333" stroke-width="1"/>
<line x1="500.50" y1="269.30" x2="502.50" y2="269.30" stroke="#333" stroke-width="1"/>
<line x1="500.50" y1="269.30" x2="498.50" y2="269.30" stroke="#333" stroke-width="1"/>
<line x1="683.30" y1="269.30" x2="681.30" y2="269.30" stroke="#333" stroke-width="1"/>
<line x1="335.80" y1="282.50" x2="337.80" y2="282.50" stroke="#333" stroke-width="1"/>
<line x1="500.50" y1="282.50" x2="502.50" y2="282.50" stroke="#333" stroke-width="1"/>
<line x1="500.50" y1="282.50" x2="498.50" y2="282.50" stroke="#333" stroke-width="1"/>
<line x1="683.30" y1="282.50" x2="681.30" y2="282.50" stroke="#333" stroke-width="1"/>
<line x1="335.80" y1="295.30" x2="337.80" y2="295.30" stroke="#333" stroke-width="1"/>
<line x1="500.50" y1="295.30" x2="502.50" y2="295.30" stroke="#333" stroke-width="1"/>
<line x1="500.50" y1="295.30" x2="498.50" y2="295.30" stroke="#333" stroke-width="1"/>
<line x1="683.30" y1="295.30" x2="681.30" y2="295.30" stroke="#333" stroke-width="1"/>
<line x1="335.80" y1="307.60" x2="337.80" y2="307.60" stroke="#333" stroke-width="1"/>
<line x1="500.50" y1="307.60" x2="502.50" y2="307.60" stroke="#333" stroke-width="1"/>
<line x1="500.50" y1="307.60" x2="498.50" y2="307.60" stroke="#333" stroke-width="1"/>
<line x1="683.30" y1="307.60" x2="681.30" y2="307.60" stroke="#333" stroke-width="1"/>
<line x1="335.80" y1="320.90" x2="337.80" y2="320.90" stroke="#333" stroke-width="1"/>
<line x1="500.50" y1="320.90" x2="502.50" y2="320.90" stroke="#333" stroke-width="1"/>
<line x1="500.50" y1="320.90" x2="498.50" y2="320.90" stroke="#333" stroke-width="1"/>
<line x1="683.30" y1="320.90" x2="681.30" y2="320.90" stroke="#333" stroke-width="1"/>
<text x="344.50" y="245.70" font-size="12" text-anchor="middle" font-weight="bold" font-style="normal" fill="#1a1a1a">d</text>
<text x="511.50" y="244.80" font-size="12" text-anchor="middle" font-weight="bold" font-style="normal" fill="#1a1a1a">f</text>
<text transform="translate(300.5,281) rotate(-90)" font-size="11.8" text-anchor="middle" fill="#1a1a1a">Lattice constant (nm)</text>
<text x="417.5" y="359.2" font-size="12" text-anchor="middle" fill="#1a1a1a"><tspan font-style="italic" stroke="#1a1a1a" stroke-width="0.35">Φ</tspan><tspan font-size="6" dy="2" fill="#333">Se/Ga</tspan></text>
<text x="586" y="360" font-size="12" text-anchor="middle" fill="#1a1a1a"><tspan font-style="italic">T</tspan><tspan font-size="5.8" dy="2.5" font-style="italic" fill="#333">sub</tspan><tspan dy="-2.5"> (°C)</tspan></text>
</svg>
</body></html>
